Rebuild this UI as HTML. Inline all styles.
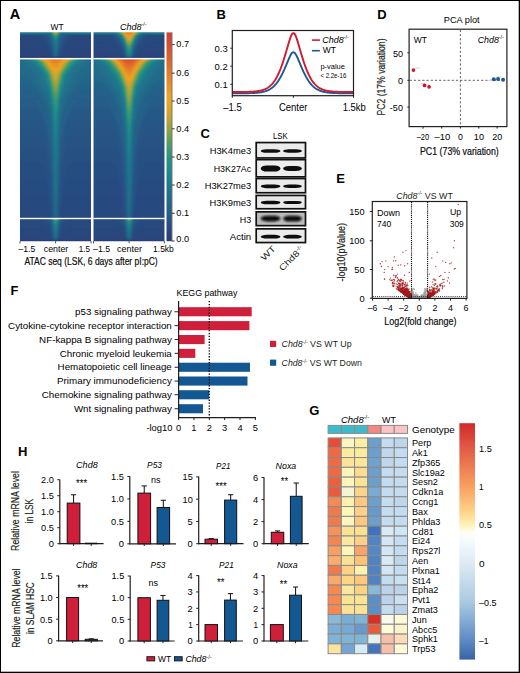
<!DOCTYPE html><html><head><meta charset="utf-8"><style>html,body{margin:0;padding:0;background:#fff;}svg{display:block;font-family:"Liberation Sans",sans-serif;}</style></head><body>
<svg width="520" height="673" viewBox="0 0 520 673">
<defs>
<filter id="hb" x="-5%" y="-5%" width="110%" height="110%"><feGaussianBlur stdDeviation="0.9 0.6"/></filter>
<filter id="bb" x="-20%" y="-50%" width="140%" height="200%"><feGaussianBlur stdDeviation="0.6"/></filter>
<filter id="bb2" x="-20%" y="-50%" width="140%" height="200%"><feGaussianBlur stdDeviation="1.0"/></filter>
<clipPath id="cA1"><rect x="20" y="32.2" width="71" height="209"/></clipPath>
<clipPath id="cA2"><rect x="93.5" y="32.2" width="71" height="209"/></clipPath>
<linearGradient id="cbA" x1="0" y1="0" x2="0" y2="1"><stop offset="0.000" stop-color="#ca403a"/><stop offset="0.054" stop-color="#d34e30"/><stop offset="0.122" stop-color="#dc622d"/><stop offset="0.189" stop-color="#e4782a"/><stop offset="0.257" stop-color="#ea9026"/><stop offset="0.324" stop-color="#eea522"/><stop offset="0.392" stop-color="#cca42e"/><stop offset="0.459" stop-color="#98a43c"/><stop offset="0.527" stop-color="#559e5e"/><stop offset="0.595" stop-color="#2a947e"/><stop offset="0.662" stop-color="#1f8a8b"/><stop offset="0.730" stop-color="#1f788c"/><stop offset="0.797" stop-color="#216c8b"/><stop offset="0.865" stop-color="#255e88"/><stop offset="0.932" stop-color="#284b80"/><stop offset="1.000" stop-color="#2a3b76"/></linearGradient>
</defs>
<rect width="520" height="673" fill="#fff"/>
<text x="9.8" y="18.9" font-size="14.5" font-weight="bold" fill="#000">A</text>
<text x="50.6" y="29.5" font-size="9" textLength="13.1" lengthAdjust="spacingAndGlyphs">WT</text>
<text x="120.0" y="29.5" font-size="9" font-style="italic" textLength="26.6" lengthAdjust="spacingAndGlyphs">Chd8<tspan font-size="5.4" dy="-3.4" font-style="normal">-/-</tspan></text>
<g clip-path="url(#cA1)"><g filter="url(#hb)">
<linearGradient id="bg1" x1="0" y1="0" x2="0" y2="1"><stop offset="0.0000" stop-color="#1f788c"/><stop offset="0.0364" stop-color="#1f788c"/><stop offset="0.0727" stop-color="#1f768c"/><stop offset="0.1091" stop-color="#20738c"/><stop offset="0.1455" stop-color="#29467d"/><stop offset="0.1818" stop-color="#29467d"/><stop offset="0.2182" stop-color="#29467d"/><stop offset="0.2545" stop-color="#29467d"/><stop offset="0.2909" stop-color="#29467d"/><stop offset="0.3273" stop-color="#29467d"/><stop offset="0.3636" stop-color="#29467d"/><stop offset="0.4000" stop-color="#29467d"/><stop offset="0.4364" stop-color="#29467d"/><stop offset="0.4727" stop-color="#29467d"/><stop offset="0.5091" stop-color="#29467d"/><stop offset="0.5455" stop-color="#29467d"/><stop offset="0.5818" stop-color="#29467d"/><stop offset="0.6182" stop-color="#29467d"/><stop offset="0.6545" stop-color="#29457d"/><stop offset="0.6909" stop-color="#29457c"/><stop offset="0.7273" stop-color="#29457c"/><stop offset="0.7636" stop-color="#29457c"/><stop offset="0.8000" stop-color="#29457c"/><stop offset="0.8364" stop-color="#29457c"/><stop offset="0.8727" stop-color="#29457c"/><stop offset="0.9091" stop-color="#29457c"/><stop offset="0.9455" stop-color="#2a3e78"/><stop offset="0.9818" stop-color="#2a3d77"/></linearGradient>
<rect x="18" y="31" width="75.0" height="27.5" fill="url(#bg1)"/>
<path d="M52.2,57.0 53.0,58.0 53.0,58.5 58.2,58.5 58.2,58.0 59.0,57.0Z" fill="#29417a"/>
<path d="M34.3,35.0 35.3,36.0 36.3,37.0 37.2,38.0 38.2,39.0 39.1,40.0 39.9,41.0 40.7,42.0 41.5,43.0 42.3,44.0 43.1,45.0 43.8,46.0 44.5,47.0 45.2,48.0 45.8,49.0 46.4,50.0 47.0,51.0 47.6,52.0 48.2,53.0 48.7,54.0 49.2,55.0 49.7,56.0 53.5,57.0 54.2,58.0 54.2,58.5 57.0,58.5 57.0,58.0 57.7,57.0 61.5,56.0 62.0,55.0 62.5,54.0 63.0,53.0 63.6,52.0 64.2,51.0 64.8,50.0 65.4,49.0 66.0,48.0 66.7,47.0 67.4,46.0 68.1,45.0 68.9,44.0 69.7,43.0 70.5,42.0 71.3,41.0 72.1,40.0 73.0,39.0 74.0,38.0 74.9,37.0 75.9,36.0 76.9,35.0Z" fill="#28487e"/>
<path d="M41.5,35.0 42.2,36.0 42.9,37.0 43.6,38.0 44.2,39.0 44.9,40.0 45.5,41.0 46.1,42.0 46.6,43.0 47.2,44.0 47.7,45.0 48.2,46.0 48.7,47.0 49.3,48.0 49.7,49.0 50.1,50.0 50.5,51.0 50.8,52.0 51.1,53.0 51.4,54.0 51.6,55.0 51.9,56.0 54.5,57.0 56.7,57.0 59.3,56.0 59.6,55.0 59.8,54.0 60.1,53.0 60.4,52.0 60.7,51.0 61.1,50.0 61.5,49.0 61.9,48.0 62.5,47.0 63.0,46.0 63.5,45.0 64.0,44.0 64.6,43.0 65.1,42.0 65.7,41.0 66.3,40.0 67.0,39.0 67.6,38.0 68.3,37.0 69.0,36.0 69.7,35.0Z" fill="#274f82"/>
<path d="M45.2,35.0 45.8,36.0 46.4,37.0 47.0,38.0 47.5,39.0 48.1,40.0 48.6,41.0 49.1,42.0 49.5,43.0 49.9,44.0 50.3,45.0 50.7,46.0 51.0,47.0 51.3,48.0 51.5,49.0 51.7,50.0 51.9,51.0 52.1,52.0 52.3,53.0 52.5,54.0 52.7,55.0 52.8,56.0 58.4,56.0 58.5,55.0 58.7,54.0 58.9,53.0 59.1,52.0 59.3,51.0 59.5,50.0 59.7,49.0 59.9,48.0 60.2,47.0 60.5,46.0 60.9,45.0 61.3,44.0 61.7,43.0 62.1,42.0 62.6,41.0 63.1,40.0 63.7,39.0 64.2,38.0 64.8,37.0 65.4,36.0 66.0,35.0Z" fill="#265685"/>
<path d="M48.4,35.0 48.8,36.0 49.3,37.0 49.7,38.0 50.1,39.0 50.5,40.0 50.8,41.0 51.0,42.0 51.3,43.0 51.5,44.0 51.7,45.0 51.9,46.0 52.1,47.0 52.3,48.0 52.5,49.0 52.6,50.0 52.8,51.0 52.9,52.0 53.1,53.0 53.2,54.0 53.3,55.0 53.5,56.0 57.7,56.0 57.9,55.0 58.0,54.0 58.1,53.0 58.3,52.0 58.4,51.0 58.6,50.0 58.7,49.0 58.9,48.0 59.1,47.0 59.3,46.0 59.5,45.0 59.7,44.0 59.9,43.0 60.2,42.0 60.4,41.0 60.7,40.0 61.1,39.0 61.5,38.0 61.9,37.0 62.4,36.0 62.8,35.0Z" fill="#255e88"/>
<path d="M50.2,35.0 50.5,36.0 50.8,37.0 51.1,38.0 51.4,39.0 51.7,40.0 51.9,41.0 52.0,42.0 52.2,43.0 52.3,44.0 52.5,45.0 52.7,46.0 52.8,47.0 53.0,48.0 53.1,49.0 53.2,50.0 53.4,51.0 53.5,52.0 53.6,53.0 53.8,54.0 53.9,55.0 54.1,56.0 57.1,56.0 57.3,55.0 57.4,54.0 57.6,53.0 57.7,52.0 57.8,51.0 58.0,50.0 58.1,49.0 58.2,48.0 58.4,47.0 58.5,46.0 58.7,45.0 58.9,44.0 59.0,43.0 59.2,42.0 59.3,41.0 59.5,40.0 59.8,39.0 60.1,38.0 60.4,37.0 60.7,36.0 61.0,35.0Z" fill="#236489"/>
<path d="M51.0,35.0 51.3,36.0 51.5,37.0 51.8,38.0 52.1,39.0 52.4,40.0 52.5,41.0 52.7,42.0 52.8,43.0 52.9,44.0 53.1,45.0 53.2,46.0 53.4,47.0 53.5,48.0 53.7,49.0 53.8,50.0 53.9,51.0 54.1,52.0 54.2,53.0 54.4,54.0 54.6,55.0 54.8,56.0 56.4,56.0 56.6,55.0 56.8,54.0 57.0,53.0 57.1,52.0 57.3,51.0 57.4,50.0 57.5,49.0 57.7,48.0 57.8,47.0 58.0,46.0 58.1,45.0 58.3,44.0 58.4,43.0 58.5,42.0 58.7,41.0 58.8,40.0 59.1,39.0 59.4,38.0 59.7,37.0 59.9,36.0 60.2,35.0Z" fill="#22698a"/>
<path d="M51.6,35.0 51.8,36.0 52.1,37.0 52.3,38.0 52.6,39.0 52.9,40.0 53.0,41.0 53.2,42.0 53.3,43.0 53.4,44.0 53.6,45.0 53.7,46.0 53.9,47.0 54.1,48.0 54.2,49.0 54.4,50.0 54.5,51.0 54.7,52.0 55.0,53.0 55.4,54.0 55.8,54.0 56.2,53.0 56.5,52.0 56.7,51.0 56.8,50.0 57.0,49.0 57.1,48.0 57.3,47.0 57.5,46.0 57.6,45.0 57.8,44.0 57.9,43.0 58.0,42.0 58.2,41.0 58.3,40.0 58.6,39.0 58.9,38.0 59.1,37.0 59.4,36.0 59.6,35.0Z" fill="#216e8b"/>
<path d="M52.0,35.0 52.3,36.0 52.5,37.0 52.8,38.0 53.0,39.0 53.3,40.0 53.5,41.0 53.6,42.0 53.8,43.0 53.9,44.0 54.1,45.0 54.2,46.0 54.4,47.0 54.7,48.0 54.9,49.0 55.2,50.0 56.0,50.0 56.3,49.0 56.5,48.0 56.8,47.0 57.0,46.0 57.1,45.0 57.3,44.0 57.4,43.0 57.6,42.0 57.7,41.0 57.9,40.0 58.2,39.0 58.4,38.0 58.7,37.0 58.9,36.0 59.2,35.0Z" fill="#20738c"/>
<path d="M49.1,33.0 50.0,34.0 52.4,35.0 52.6,36.0 52.9,37.0 53.1,38.0 53.4,39.0 53.8,40.0 53.9,41.0 54.1,42.0 54.2,43.0 54.4,44.0 54.6,45.0 54.9,46.0 55.4,47.0 55.8,47.0 56.3,46.0 56.6,45.0 56.8,44.0 57.0,43.0 57.1,42.0 57.3,41.0 57.4,40.0 57.8,39.0 58.1,38.0 58.3,37.0 58.6,36.0 58.8,35.0 61.2,34.0 62.1,33.0Z" fill="#1f788c"/>
<path d="M50.0,31.0 50.0,32.0 50.4,33.0 50.8,34.0 52.7,35.0 53.0,36.0 53.2,37.0 53.5,38.0 53.8,39.0 54.2,40.0 54.4,41.0 54.6,42.0 54.8,43.0 55.1,44.0 56.1,44.0 56.4,43.0 56.6,42.0 56.8,41.0 57.0,40.0 57.4,39.0 57.7,38.0 58.0,37.0 58.2,36.0 58.5,35.0 60.4,34.0 60.8,33.0 61.2,32.0 61.2,31.0Z" fill="#1f7f8c"/>
<path d="M50.8,31.0 50.8,32.0 51.1,33.0 51.4,34.0 53.0,35.0 53.3,36.0 53.5,37.0 53.8,38.0 54.2,39.0 54.7,40.0 55.0,41.0 56.2,41.0 56.5,40.0 57.0,39.0 57.4,38.0 57.7,37.0 57.9,36.0 58.2,35.0 59.8,34.0 60.1,33.0 60.4,32.0 60.4,31.0Z" fill="#1f868b"/>
<path d="M51.4,31.0 51.4,32.0 51.6,33.0 51.8,34.0 53.3,35.0 53.6,36.0 53.9,37.0 54.2,38.0 54.7,39.0 56.5,39.0 57.0,38.0 57.3,37.0 57.6,36.0 57.9,35.0 59.4,34.0 59.6,33.0 59.8,32.0 59.8,31.0Z" fill="#218c88"/>
<path d="M51.8,31.0 51.8,32.0 52.0,33.0 52.2,34.0 53.6,35.0 53.9,36.0 54.2,37.0 54.7,38.0 56.5,38.0 57.0,37.0 57.3,36.0 57.6,35.0 59.0,34.0 59.2,33.0 59.4,32.0 59.4,31.0Z" fill="#269083"/>
<path d="M52.2,31.0 52.2,32.0 52.4,33.0 52.6,34.0 53.9,35.0 54.2,36.0 54.6,37.0 56.6,37.0 57.0,36.0 57.3,35.0 58.6,34.0 58.8,33.0 59.0,32.0 59.0,31.0Z" fill="#2a947e"/>
<path d="M52.6,31.0 52.6,32.0 52.7,33.0 52.9,34.0 54.2,35.0 54.6,36.0 55.3,37.0 55.9,37.0 56.6,36.0 57.0,35.0 58.3,34.0 58.5,33.0 58.6,32.0 58.6,31.0Z" fill="#3b9871"/>
<path d="M52.9,31.0 52.9,32.0 53.1,33.0 53.2,34.0 54.6,35.0 55.2,36.0 56.0,36.0 56.6,35.0 58.0,34.0 58.1,33.0 58.3,32.0 58.3,31.0Z" fill="#4c9c64"/>
<path d="M53.2,31.0 53.2,32.0 53.4,33.0 53.6,34.0 55.1,35.0 56.1,35.0 57.6,34.0 57.8,33.0 58.0,32.0 58.0,31.0Z" fill="#629f57"/>
<path d="M53.6,31.0 53.6,32.0 53.7,33.0 53.9,34.0 57.3,34.0 57.5,33.0 57.6,32.0 57.6,31.0Z" fill="#7da24a"/>
<path d="M53.9,31.0 53.9,32.0 54.1,33.0 54.3,34.0 56.9,34.0 57.1,33.0 57.3,32.0 57.3,31.0Z" fill="#98a43c"/>
<path d="M54.3,31.0 54.3,32.0 54.5,33.0 54.9,34.0 56.3,34.0 56.7,33.0 56.9,32.0 56.9,31.0Z" fill="#ada436"/>
<path d="M54.9,31.0 54.9,32.0 55.4,33.0 55.8,33.0 56.3,32.0 56.3,31.0Z" fill="#c2a431"/>
<linearGradient id="bg2" x1="0" y1="0" x2="0" y2="1"><stop offset="0.0000" stop-color="#216c8b"/><stop offset="0.0194" stop-color="#216c8b"/><stop offset="0.0388" stop-color="#216c8b"/><stop offset="0.0583" stop-color="#216c8b"/><stop offset="0.0777" stop-color="#216c8b"/><stop offset="0.0971" stop-color="#216b8b"/><stop offset="0.1165" stop-color="#216b8b"/><stop offset="0.1359" stop-color="#216b8b"/><stop offset="0.1553" stop-color="#216a8b"/><stop offset="0.1748" stop-color="#226a8b"/><stop offset="0.1942" stop-color="#226a8b"/><stop offset="0.2136" stop-color="#22698a"/><stop offset="0.2330" stop-color="#22698a"/><stop offset="0.2524" stop-color="#22698a"/><stop offset="0.2718" stop-color="#22688a"/><stop offset="0.2913" stop-color="#22688a"/><stop offset="0.3107" stop-color="#22688a"/><stop offset="0.3301" stop-color="#22678a"/><stop offset="0.3495" stop-color="#23678a"/><stop offset="0.3689" stop-color="#23668a"/><stop offset="0.3883" stop-color="#23668a"/><stop offset="0.4078" stop-color="#23658a"/><stop offset="0.4272" stop-color="#23658a"/><stop offset="0.4466" stop-color="#236589"/><stop offset="0.4660" stop-color="#236489"/><stop offset="0.4854" stop-color="#236489"/><stop offset="0.5049" stop-color="#236389"/><stop offset="0.5243" stop-color="#246389"/><stop offset="0.5437" stop-color="#246289"/><stop offset="0.5631" stop-color="#246289"/><stop offset="0.5825" stop-color="#246289"/><stop offset="0.6019" stop-color="#246189"/><stop offset="0.6214" stop-color="#246189"/><stop offset="0.6408" stop-color="#246089"/><stop offset="0.6602" stop-color="#246088"/><stop offset="0.6796" stop-color="#256088"/><stop offset="0.6990" stop-color="#255f88"/><stop offset="0.7184" stop-color="#255f88"/><stop offset="0.7379" stop-color="#255e88"/><stop offset="0.7573" stop-color="#255e88"/><stop offset="0.7767" stop-color="#255d88"/><stop offset="0.7961" stop-color="#255d88"/><stop offset="0.8155" stop-color="#255c87"/><stop offset="0.8350" stop-color="#255c87"/><stop offset="0.8544" stop-color="#255c87"/><stop offset="0.8738" stop-color="#255b87"/><stop offset="0.8932" stop-color="#255b87"/><stop offset="0.9126" stop-color="#255b87"/><stop offset="0.9320" stop-color="#265b87"/><stop offset="0.9515" stop-color="#265a87"/><stop offset="0.9709" stop-color="#265a86"/><stop offset="0.9903" stop-color="#265a86"/></linearGradient>
<rect x="18" y="58.5" width="75.0" height="51.5" fill="url(#bg2)"/>
<path d="M27.2,98.5 30.3,99.5 32.4,100.5 33.7,101.5 34.5,102.5 35.3,103.5 36.0,104.5 36.7,105.5 37.4,106.5 38.1,107.5 38.7,108.5 39.3,109.5 39.6,110.0 71.6,110.0 71.9,109.5 72.5,108.5 73.1,107.5 73.8,106.5 74.5,105.5 75.2,104.5 75.9,103.5 76.7,102.5 77.5,101.5 78.8,100.5 80.9,99.5 84.0,98.5Z" fill="#255e88"/>
<path d="M19.1,84.5 23.0,85.5 25.3,86.5 27.1,87.5 28.8,88.5 30.2,89.5 31.5,90.5 32.6,91.5 33.7,92.5 34.8,93.5 35.7,94.5 36.7,95.5 37.5,96.5 38.4,97.5 39.2,98.5 40.0,99.5 40.7,100.5 41.3,101.5 41.8,102.5 42.2,103.5 42.6,104.5 43.1,105.5 43.5,106.5 43.9,107.5 44.3,108.5 44.7,109.5 44.9,110.0 66.3,110.0 66.5,109.5 66.9,108.5 67.3,107.5 67.7,106.5 68.1,105.5 68.6,104.5 69.0,103.5 69.4,102.5 69.9,101.5 70.5,100.5 71.2,99.5 72.0,98.5 72.8,97.5 73.7,96.5 74.5,95.5 75.5,94.5 76.4,93.5 77.5,92.5 78.6,91.5 79.7,90.5 81.0,89.5 82.4,88.5 84.1,87.5 85.9,86.5 88.2,85.5 92.1,84.5Z" fill="#236489"/>
<path d="M16.0,70.5 16.2,71.5 19.7,72.5 22.2,73.5 24.1,74.5 25.7,75.5 26.9,76.5 28.1,77.5 29.1,78.5 30.1,79.5 30.9,80.5 31.8,81.5 32.5,82.5 33.3,83.5 34.0,84.5 34.7,85.5 35.3,86.5 36.0,87.5 36.8,88.5 37.6,89.5 38.3,90.5 39.1,91.5 39.8,92.5 40.5,93.5 41.2,94.5 41.8,95.5 42.5,96.5 43.2,97.5 43.8,98.5 44.5,99.5 45.1,100.5 45.6,101.5 46.0,102.5 46.3,103.5 46.7,104.5 47.0,105.5 47.4,106.5 47.7,107.5 48.0,108.5 48.3,109.5 48.5,110.0 62.7,110.0 62.9,109.5 63.2,108.5 63.5,107.5 63.8,106.5 64.2,105.5 64.5,104.5 64.9,103.5 65.2,102.5 65.6,101.5 66.1,100.5 66.7,99.5 67.4,98.5 68.0,97.5 68.7,96.5 69.4,95.5 70.0,94.5 70.7,93.5 71.4,92.5 72.1,91.5 72.9,90.5 73.6,89.5 74.4,88.5 75.2,87.5 75.9,86.5 76.5,85.5 77.2,84.5 77.9,83.5 78.7,82.5 79.4,81.5 80.3,80.5 81.1,79.5 82.1,78.5 83.1,77.5 84.3,76.5 85.5,75.5 87.1,74.5 89.0,73.5 91.5,72.5 95.0,71.5 95.2,70.5Z" fill="#22698a"/>
<path d="M16.0,58.5 16.0,59.5 18.6,60.5 21.5,61.5 22.3,62.5 23.6,63.5 24.9,64.5 26.0,65.5 27.1,66.5 28.1,67.5 29.0,68.5 29.9,69.5 30.7,70.5 31.4,71.5 32.2,72.5 32.9,73.5 33.5,74.5 34.2,75.5 34.8,76.5 35.4,77.5 36.0,78.5 36.5,79.5 37.1,80.5 37.6,81.5 38.1,82.5 38.7,83.5 39.2,84.5 39.7,85.5 40.2,86.5 40.8,87.5 41.4,88.5 42.1,89.5 42.7,90.5 43.3,91.5 43.9,92.5 44.5,93.5 45.1,94.5 45.7,95.5 46.3,96.5 46.8,97.5 47.4,98.5 47.9,99.5 48.3,100.5 48.7,101.5 48.9,102.5 49.1,103.5 49.3,104.5 49.5,105.5 49.7,106.5 49.9,107.5 50.1,108.5 50.2,109.5 50.3,110.0 60.9,110.0 61.0,109.5 61.1,108.5 61.3,107.5 61.5,106.5 61.7,105.5 61.9,104.5 62.1,103.5 62.3,102.5 62.5,101.5 62.9,100.5 63.3,99.5 63.8,98.5 64.4,97.5 64.9,96.5 65.5,95.5 66.1,94.5 66.7,93.5 67.3,92.5 67.9,91.5 68.5,90.5 69.1,89.5 69.8,88.5 70.4,87.5 71.0,86.5 71.5,85.5 72.0,84.5 72.5,83.5 73.1,82.5 73.6,81.5 74.1,80.5 74.7,79.5 75.2,78.5 75.8,77.5 76.4,76.5 77.0,75.5 77.7,74.5 78.3,73.5 79.0,72.5 79.8,71.5 80.5,70.5 81.3,69.5 82.2,68.5 83.1,67.5 84.1,66.5 85.2,65.5 86.3,64.5 87.6,63.5 88.9,62.5 89.7,61.5 92.6,60.5 95.2,59.5 95.2,58.5Z" fill="#216e8b"/>
<path d="M20.4,58.5 20.4,59.5 24.3,60.5 27.2,61.5 28.7,62.5 29.7,63.5 30.8,64.5 31.8,65.5 32.8,66.5 33.7,67.5 34.6,68.5 35.4,69.5 36.1,70.5 36.8,71.5 37.4,72.5 37.9,73.5 38.4,74.5 38.8,75.5 39.3,76.5 39.8,77.5 40.3,78.5 40.8,79.5 41.2,80.5 41.7,81.5 42.2,82.5 42.6,83.5 43.1,84.5 43.5,85.5 44.0,86.5 44.5,87.5 45.0,88.5 45.6,89.5 46.1,90.5 46.5,91.5 47.0,92.5 47.4,93.5 47.9,94.5 48.3,95.5 48.6,96.5 49.0,97.5 49.3,98.5 49.7,99.5 50.0,100.5 50.2,101.5 50.3,102.5 50.5,103.5 50.6,104.5 50.7,105.5 50.9,106.5 51.0,107.5 51.1,108.5 51.2,109.5 51.3,110.0 59.9,110.0 60.0,109.5 60.1,108.5 60.2,107.5 60.3,106.5 60.5,105.5 60.6,104.5 60.7,103.5 60.9,102.5 61.0,101.5 61.2,100.5 61.5,99.5 61.9,98.5 62.2,97.5 62.6,96.5 62.9,95.5 63.3,94.5 63.8,93.5 64.2,92.5 64.7,91.5 65.1,90.5 65.6,89.5 66.2,88.5 66.7,87.5 67.2,86.5 67.7,85.5 68.1,84.5 68.6,83.5 69.0,82.5 69.5,81.5 70.0,80.5 70.4,79.5 70.9,78.5 71.4,77.5 71.9,76.5 72.4,75.5 72.8,74.5 73.3,73.5 73.8,72.5 74.4,71.5 75.1,70.5 75.8,69.5 76.6,68.5 77.5,67.5 78.4,66.5 79.4,65.5 80.4,64.5 81.5,63.5 82.5,62.5 84.0,61.5 86.9,60.5 90.8,59.5 90.8,58.5Z" fill="#20738c"/>
<path d="M23.8,58.5 23.8,59.5 27.4,60.5 30.1,61.5 31.7,62.5 32.7,63.5 33.7,64.5 34.7,65.5 35.6,66.5 36.5,67.5 37.4,68.5 38.2,69.5 39.0,70.5 39.8,71.5 40.5,72.5 41.1,73.5 41.6,74.5 42.1,75.5 42.5,76.5 42.9,77.5 43.3,78.5 43.7,79.5 44.1,80.5 44.5,81.5 44.9,82.5 45.3,83.5 45.7,84.5 46.1,85.5 46.5,86.5 46.9,87.5 47.3,88.5 47.7,89.5 48.0,90.5 48.3,91.5 48.7,92.5 49.0,93.5 49.3,94.5 49.6,95.5 49.9,96.5 50.1,97.5 50.4,98.5 50.6,99.5 50.9,100.5 51.1,101.5 51.2,102.5 51.3,103.5 51.4,104.5 51.5,105.5 51.6,106.5 51.7,107.5 51.8,108.5 51.9,109.5 52.0,110.0 59.2,110.0 59.3,109.5 59.4,108.5 59.5,107.5 59.6,106.5 59.7,105.5 59.8,104.5 59.9,103.5 60.0,102.5 60.1,101.5 60.3,100.5 60.6,99.5 60.8,98.5 61.1,97.5 61.3,96.5 61.6,95.5 61.9,94.5 62.2,93.5 62.5,92.5 62.9,91.5 63.2,90.5 63.5,89.5 63.9,88.5 64.3,87.5 64.7,86.5 65.1,85.5 65.5,84.5 65.9,83.5 66.3,82.5 66.7,81.5 67.1,80.5 67.5,79.5 67.9,78.5 68.3,77.5 68.7,76.5 69.1,75.5 69.6,74.5 70.1,73.5 70.7,72.5 71.4,71.5 72.2,70.5 73.0,69.5 73.8,68.5 74.7,67.5 75.6,66.5 76.5,65.5 77.5,64.5 78.5,63.5 79.5,62.5 81.1,61.5 83.8,60.5 87.4,59.5 87.4,58.5Z" fill="#1f788c"/>
<path d="M26.3,58.5 26.3,59.5 29.6,60.5 32.2,61.5 33.8,62.5 34.8,63.5 35.7,64.5 36.6,65.5 37.5,66.5 38.4,67.5 39.3,68.5 40.1,69.5 40.9,70.5 41.7,71.5 42.5,72.5 43.2,73.5 43.8,74.5 44.1,75.5 44.5,76.5 44.9,77.5 45.2,78.5 45.6,79.5 45.9,80.5 46.3,81.5 46.6,82.5 47.0,83.5 47.3,84.5 47.7,85.5 48.0,86.5 48.3,87.5 48.6,88.5 48.9,89.5 49.2,90.5 49.4,91.5 49.7,92.5 50.0,93.5 50.2,94.5 50.5,95.5 50.7,96.5 50.9,97.5 51.1,98.5 51.4,99.5 51.6,100.5 51.7,101.5 51.8,102.5 51.9,103.5 52.0,104.5 52.1,105.5 52.2,106.5 52.3,107.5 52.4,108.5 52.5,109.5 52.6,110.0 58.6,110.0 58.7,109.5 58.8,108.5 58.9,107.5 59.0,106.5 59.1,105.5 59.2,104.5 59.3,103.5 59.4,102.5 59.5,101.5 59.6,100.5 59.8,99.5 60.1,98.5 60.3,97.5 60.5,96.5 60.7,95.5 61.0,94.5 61.2,93.5 61.5,92.5 61.8,91.5 62.0,90.5 62.3,89.5 62.6,88.5 62.9,87.5 63.2,86.5 63.5,85.5 63.9,84.5 64.2,83.5 64.6,82.5 64.9,81.5 65.3,80.5 65.6,79.5 66.0,78.5 66.3,77.5 66.7,76.5 67.1,75.5 67.4,74.5 68.0,73.5 68.7,72.5 69.5,71.5 70.3,70.5 71.1,69.5 71.9,68.5 72.8,67.5 73.7,66.5 74.6,65.5 75.5,64.5 76.4,63.5 77.4,62.5 79.0,61.5 81.6,60.5 84.9,59.5 84.9,58.5Z" fill="#1f7f8c"/>
<path d="M28.3,58.5 28.3,59.5 31.4,60.5 33.9,61.5 35.5,62.5 36.4,63.5 37.3,64.5 38.2,65.5 39.0,66.5 39.9,67.5 40.7,68.5 41.5,69.5 42.4,70.5 43.1,71.5 43.9,72.5 44.7,73.5 45.2,74.5 45.5,75.5 45.9,76.5 46.2,77.5 46.5,78.5 46.8,79.5 47.2,80.5 47.5,81.5 47.8,82.5 48.1,83.5 48.4,84.5 48.7,85.5 49.0,86.5 49.3,87.5 49.5,88.5 49.8,89.5 50.0,90.5 50.3,91.5 50.5,92.5 50.7,93.5 50.9,94.5 51.1,95.5 51.4,96.5 51.6,97.5 51.8,98.5 52.0,99.5 52.2,100.5 52.3,101.5 52.4,102.5 52.5,103.5 52.6,104.5 52.7,105.5 52.8,106.5 52.9,107.5 53.0,108.5 53.0,109.5 53.1,110.0 58.1,110.0 58.2,109.5 58.2,108.5 58.3,107.5 58.4,106.5 58.5,105.5 58.6,104.5 58.7,103.5 58.8,102.5 58.9,101.5 59.0,100.5 59.2,99.5 59.4,98.5 59.6,97.5 59.8,96.5 60.1,95.5 60.3,94.5 60.5,93.5 60.7,92.5 60.9,91.5 61.2,90.5 61.4,89.5 61.7,88.5 61.9,87.5 62.2,86.5 62.5,85.5 62.8,84.5 63.1,83.5 63.4,82.5 63.7,81.5 64.0,80.5 64.4,79.5 64.7,78.5 65.0,77.5 65.3,76.5 65.7,75.5 66.0,74.5 66.5,73.5 67.3,72.5 68.1,71.5 68.8,70.5 69.7,69.5 70.5,68.5 71.3,67.5 72.2,66.5 73.0,65.5 73.9,64.5 74.8,63.5 75.7,62.5 77.3,61.5 79.8,60.5 82.9,59.5 82.9,58.5Z" fill="#1f868b"/>
<path d="M30.0,58.5 30.0,59.5 33.0,60.5 35.4,61.5 36.9,62.5 37.7,63.5 38.6,64.5 39.4,65.5 40.3,66.5 41.1,67.5 41.9,68.5 42.7,69.5 43.5,70.5 44.3,71.5 45.0,72.5 45.8,73.5 46.3,74.5 46.6,75.5 46.9,76.5 47.2,77.5 47.5,78.5 47.8,79.5 48.1,80.5 48.4,81.5 48.7,82.5 49.0,83.5 49.3,84.5 49.5,85.5 49.8,86.5 50.1,87.5 50.3,88.5 50.5,89.5 50.7,90.5 50.9,91.5 51.1,92.5 51.4,93.5 51.6,94.5 51.7,95.5 51.9,96.5 52.1,97.5 52.3,98.5 52.5,99.5 52.7,100.5 52.8,101.5 52.9,102.5 53.0,103.5 53.1,104.5 53.2,105.5 53.3,106.5 53.4,107.5 53.5,108.5 53.6,109.5 53.6,110.0 57.6,110.0 57.6,109.5 57.7,108.5 57.8,107.5 57.9,106.5 58.0,105.5 58.1,104.5 58.2,103.5 58.3,102.5 58.4,101.5 58.5,100.5 58.7,99.5 58.9,98.5 59.1,97.5 59.3,96.5 59.5,95.5 59.6,94.5 59.8,93.5 60.1,92.5 60.3,91.5 60.5,90.5 60.7,89.5 60.9,88.5 61.1,87.5 61.4,86.5 61.7,85.5 61.9,84.5 62.2,83.5 62.5,82.5 62.8,81.5 63.1,80.5 63.4,79.5 63.7,78.5 64.0,77.5 64.3,76.5 64.6,75.5 64.9,74.5 65.4,73.5 66.2,72.5 66.9,71.5 67.7,70.5 68.5,69.5 69.3,68.5 70.1,67.5 70.9,66.5 71.8,65.5 72.6,64.5 73.5,63.5 74.3,62.5 75.8,61.5 78.2,60.5 81.2,59.5 81.2,58.5Z" fill="#218c88"/>
<path d="M31.6,58.5 31.6,59.5 34.3,60.5 36.6,61.5 38.1,62.5 38.9,63.5 39.8,64.5 40.6,65.5 41.4,66.5 42.2,67.5 43.0,68.5 43.7,69.5 44.5,70.5 45.2,71.5 46.0,72.5 46.7,73.5 47.2,74.5 47.5,75.5 47.8,76.5 48.1,77.5 48.4,78.5 48.6,79.5 48.9,80.5 49.2,81.5 49.4,82.5 49.7,83.5 50.0,84.5 50.2,85.5 50.5,86.5 50.7,87.5 50.9,88.5 51.1,89.5 51.3,90.5 51.5,91.5 51.7,92.5 51.9,93.5 52.1,94.5 52.3,95.5 52.5,96.5 52.7,97.5 52.8,98.5 53.0,99.5 53.2,100.5 53.3,101.5 53.4,102.5 53.5,103.5 53.6,104.5 53.7,105.5 53.8,106.5 53.9,107.5 54.0,108.5 54.2,109.5 54.2,110.0 57.0,110.0 57.0,109.5 57.2,108.5 57.3,107.5 57.4,106.5 57.5,105.5 57.6,104.5 57.7,103.5 57.8,102.5 57.9,101.5 58.0,100.5 58.2,99.5 58.4,98.5 58.5,97.5 58.7,96.5 58.9,95.5 59.1,94.5 59.3,93.5 59.5,92.5 59.7,91.5 59.9,90.5 60.1,89.5 60.3,88.5 60.5,87.5 60.7,86.5 61.0,85.5 61.2,84.5 61.5,83.5 61.8,82.5 62.0,81.5 62.3,80.5 62.6,79.5 62.8,78.5 63.1,77.5 63.4,76.5 63.7,75.5 64.0,74.5 64.5,73.5 65.2,72.5 66.0,71.5 66.7,70.5 67.5,69.5 68.2,68.5 69.0,67.5 69.8,66.5 70.6,65.5 71.4,64.5 72.3,63.5 73.1,62.5 74.6,61.5 76.9,60.5 79.6,59.5 79.6,58.5Z" fill="#269083"/>
<path d="M32.9,58.5 32.9,59.5 35.6,60.5 37.8,61.5 39.2,62.5 40.0,63.5 40.8,64.5 41.6,65.5 42.4,66.5 43.1,67.5 43.9,68.5 44.6,69.5 45.4,70.5 46.1,71.5 46.8,72.5 47.5,73.5 48.0,74.5 48.3,75.5 48.6,76.5 48.8,77.5 49.1,78.5 49.3,79.5 49.6,80.5 49.9,81.5 50.1,82.5 50.4,83.5 50.6,84.5 50.9,85.5 51.1,86.5 51.3,87.5 51.5,88.5 51.7,89.5 51.9,90.5 52.1,91.5 52.3,92.5 52.5,93.5 52.7,94.5 52.8,95.5 53.0,96.5 53.2,97.5 53.4,98.5 53.5,99.5 53.7,100.5 53.9,101.5 54.0,102.5 54.1,103.5 54.2,104.5 54.3,105.5 54.5,106.5 54.6,107.5 54.8,108.5 55.0,109.5 55.2,110.0 56.0,110.0 56.2,109.5 56.4,108.5 56.6,107.5 56.7,106.5 56.9,105.5 57.0,104.5 57.1,103.5 57.2,102.5 57.3,101.5 57.5,100.5 57.7,99.5 57.8,98.5 58.0,97.5 58.2,96.5 58.4,95.5 58.5,94.5 58.7,93.5 58.9,92.5 59.1,91.5 59.3,90.5 59.5,89.5 59.7,88.5 59.9,87.5 60.1,86.5 60.3,85.5 60.6,84.5 60.8,83.5 61.1,82.5 61.3,81.5 61.6,80.5 61.9,79.5 62.1,78.5 62.4,77.5 62.6,76.5 62.9,75.5 63.2,74.5 63.7,73.5 64.4,72.5 65.1,71.5 65.8,70.5 66.6,69.5 67.3,68.5 68.1,67.5 68.8,66.5 69.6,65.5 70.4,64.5 71.2,63.5 72.0,62.5 73.4,61.5 75.6,60.5 78.3,59.5 78.3,58.5Z" fill="#2a947e"/>
<path d="M34.2,58.5 34.2,59.5 36.7,60.5 38.8,61.5 40.2,62.5 41.0,63.5 41.8,64.5 42.5,65.5 43.3,66.5 44.0,67.5 44.7,68.5 45.5,69.5 46.2,70.5 46.9,71.5 47.6,72.5 48.3,73.5 48.7,74.5 49.0,75.5 49.2,76.5 49.5,77.5 49.7,78.5 50.0,79.5 50.3,80.5 50.5,81.5 50.7,82.5 51.0,83.5 51.2,84.5 51.5,85.5 51.7,86.5 51.9,87.5 52.1,88.5 52.3,89.5 52.5,90.5 52.7,91.5 52.9,92.5 53.0,93.5 53.2,94.5 53.4,95.5 53.6,96.5 53.8,97.5 54.0,98.5 54.2,99.5 54.4,100.5 54.5,101.5 54.7,102.5 54.9,103.5 55.2,104.5 56.0,104.5 56.3,103.5 56.5,102.5 56.7,101.5 56.8,100.5 57.0,99.5 57.2,98.5 57.4,97.5 57.6,96.5 57.8,95.5 58.0,94.5 58.2,93.5 58.3,92.5 58.5,91.5 58.7,90.5 58.9,89.5 59.1,88.5 59.3,87.5 59.5,86.5 59.7,85.5 60.0,84.5 60.2,83.5 60.5,82.5 60.7,81.5 60.9,80.5 61.2,79.5 61.5,78.5 61.7,77.5 62.0,76.5 62.2,75.5 62.5,74.5 62.9,73.5 63.6,72.5 64.3,71.5 65.0,70.5 65.7,69.5 66.5,68.5 67.2,67.5 67.9,66.5 68.7,65.5 69.4,64.5 70.2,63.5 71.0,62.5 72.4,61.5 74.5,60.5 77.0,59.5 77.0,58.5Z" fill="#3b9871"/>
<path d="M35.4,58.5 35.4,59.5 37.8,60.5 39.8,61.5 41.2,62.5 41.9,63.5 42.7,64.5 43.4,65.5 44.1,66.5 44.9,67.5 45.6,68.5 46.3,69.5 46.9,70.5 47.6,71.5 48.3,72.5 48.9,73.5 49.4,74.5 49.6,75.5 49.9,76.5 50.1,77.5 50.4,78.5 50.6,79.5 50.9,80.5 51.1,81.5 51.3,82.5 51.6,83.5 51.8,84.5 52.1,85.5 52.3,86.5 52.5,87.5 52.7,88.5 52.9,89.5 53.1,90.5 53.3,91.5 53.5,92.5 53.6,93.5 53.8,94.5 54.1,95.5 54.3,96.5 54.5,97.5 54.8,98.5 55.1,99.5 56.1,99.5 56.4,98.5 56.7,97.5 56.9,96.5 57.1,95.5 57.4,94.5 57.6,93.5 57.7,92.5 57.9,91.5 58.1,90.5 58.3,89.5 58.5,88.5 58.7,87.5 58.9,86.5 59.1,85.5 59.4,84.5 59.6,83.5 59.9,82.5 60.1,81.5 60.3,80.5 60.6,79.5 60.8,78.5 61.1,77.5 61.3,76.5 61.6,75.5 61.8,74.5 62.3,73.5 62.9,72.5 63.6,71.5 64.3,70.5 64.9,69.5 65.6,68.5 66.3,67.5 67.1,66.5 67.8,65.5 68.5,64.5 69.3,63.5 70.0,62.5 71.4,61.5 73.4,60.5 75.8,59.5 75.8,58.5Z" fill="#4c9c64"/>
<path d="M36.6,58.5 36.6,59.5 38.9,60.5 40.8,61.5 42.1,62.5 42.8,63.5 43.5,64.5 44.3,65.5 45.0,66.5 45.7,67.5 46.3,68.5 47.0,69.5 47.7,70.5 48.3,71.5 49.0,72.5 49.6,73.5 50.0,74.5 50.3,75.5 50.5,76.5 50.7,77.5 51.0,78.5 51.2,79.5 51.5,80.5 51.7,81.5 51.9,82.5 52.2,83.5 52.4,84.5 52.7,85.5 52.9,86.5 53.1,87.5 53.3,88.5 53.5,89.5 53.7,90.5 53.9,91.5 54.2,92.5 54.4,93.5 54.7,94.5 55.1,95.5 56.1,95.5 56.5,94.5 56.8,93.5 57.0,92.5 57.3,91.5 57.5,90.5 57.7,89.5 57.9,88.5 58.1,87.5 58.3,86.5 58.5,85.5 58.8,84.5 59.0,83.5 59.3,82.5 59.5,81.5 59.7,80.5 60.0,79.5 60.2,78.5 60.5,77.5 60.7,76.5 60.9,75.5 61.2,74.5 61.6,73.5 62.2,72.5 62.9,71.5 63.5,70.5 64.2,69.5 64.9,68.5 65.5,67.5 66.2,66.5 66.9,65.5 67.7,64.5 68.4,63.5 69.1,62.5 70.4,61.5 72.3,60.5 74.6,59.5 74.6,58.5Z" fill="#629f57"/>
<path d="M37.7,58.5 37.7,59.5 39.9,60.5 41.7,61.5 43.0,62.5 43.7,63.5 44.4,64.5 45.1,65.5 45.8,66.5 46.4,67.5 47.1,68.5 47.7,69.5 48.4,70.5 49.0,71.5 49.6,72.5 50.2,73.5 50.6,74.5 50.9,75.5 51.1,76.5 51.4,77.5 51.6,78.5 51.8,79.5 52.1,80.5 52.3,81.5 52.6,82.5 52.8,83.5 53.1,84.5 53.3,85.5 53.6,86.5 53.9,87.5 54.1,88.5 54.3,89.5 54.7,90.5 55.1,91.5 56.1,91.5 56.5,90.5 56.9,89.5 57.1,88.5 57.3,87.5 57.6,86.5 57.9,85.5 58.1,84.5 58.4,83.5 58.6,82.5 58.9,81.5 59.1,80.5 59.4,79.5 59.6,78.5 59.8,77.5 60.1,76.5 60.3,75.5 60.6,74.5 61.0,73.5 61.6,72.5 62.2,71.5 62.8,70.5 63.5,69.5 64.1,68.5 64.8,67.5 65.4,66.5 66.1,65.5 66.8,64.5 67.5,63.5 68.2,62.5 69.5,61.5 71.3,60.5 73.5,59.5 73.5,58.5Z" fill="#7da24a"/>
<path d="M38.7,58.5 38.7,59.5 40.9,60.5 42.6,61.5 43.8,62.5 44.5,63.5 45.2,64.5 45.9,65.5 46.5,66.5 47.2,67.5 47.8,68.5 48.5,69.5 49.1,70.5 49.7,71.5 50.3,72.5 50.9,73.5 51.3,74.5 51.5,75.5 51.8,76.5 52.0,77.5 52.2,78.5 52.5,79.5 52.8,80.5 53.0,81.5 53.3,82.5 53.6,83.5 53.9,84.5 54.2,85.5 54.6,86.5 55.0,87.5 56.2,87.5 56.6,86.5 57.0,85.5 57.3,84.5 57.6,83.5 57.9,82.5 58.2,81.5 58.4,80.5 58.7,79.5 59.0,78.5 59.2,77.5 59.4,76.5 59.7,75.5 59.9,74.5 60.3,73.5 60.9,72.5 61.5,71.5 62.1,70.5 62.7,69.5 63.4,68.5 64.0,67.5 64.7,66.5 65.3,65.5 66.0,64.5 66.7,63.5 67.4,62.5 68.6,61.5 70.3,60.5 72.5,59.5 72.5,58.5Z" fill="#98a43c"/>
<path d="M39.8,58.5 39.8,59.5 41.8,60.5 43.5,61.5 44.7,62.5 45.4,63.5 46.0,64.5 46.7,65.5 47.3,66.5 48.0,67.5 48.6,68.5 49.2,69.5 49.8,70.5 50.4,71.5 51.0,72.5 51.5,73.5 51.9,74.5 52.2,75.5 52.4,76.5 52.7,77.5 53.0,78.5 53.2,79.5 53.5,80.5 53.8,81.5 54.2,82.5 54.6,83.5 55.4,84.5 55.8,84.5 56.6,83.5 57.0,82.5 57.4,81.5 57.7,80.5 58.0,79.5 58.2,78.5 58.5,77.5 58.8,76.5 59.0,75.5 59.3,74.5 59.7,73.5 60.2,72.5 60.8,71.5 61.4,70.5 62.0,69.5 62.6,68.5 63.2,67.5 63.9,66.5 64.5,65.5 65.2,64.5 65.8,63.5 66.5,62.5 67.7,61.5 69.4,60.5 71.4,59.5 71.4,58.5Z" fill="#ada436"/>
<path d="M40.9,58.5 40.9,59.5 42.8,60.5 44.4,61.5 45.5,62.5 46.2,63.5 46.9,64.5 47.5,65.5 48.1,66.5 48.7,67.5 49.4,68.5 50.0,69.5 50.5,70.5 51.1,71.5 51.7,72.5 52.2,73.5 52.6,74.5 52.9,75.5 53.2,76.5 53.5,77.5 53.8,78.5 54.2,79.5 54.7,80.5 56.5,80.5 57.0,79.5 57.4,78.5 57.7,77.5 58.0,76.5 58.3,75.5 58.6,74.5 59.0,73.5 59.5,72.5 60.1,71.5 60.7,70.5 61.2,69.5 61.8,68.5 62.5,67.5 63.1,66.5 63.7,65.5 64.3,64.5 65.0,63.5 65.7,62.5 66.8,61.5 68.4,60.5 70.3,59.5 70.3,58.5Z" fill="#c2a431"/>
<path d="M41.9,58.5 41.9,59.5 43.8,60.5 45.3,61.5 46.4,62.5 47.1,63.5 47.7,64.5 48.3,65.5 49.0,66.5 49.6,67.5 50.2,68.5 50.8,69.5 51.3,70.5 51.9,71.5 52.5,72.5 53.1,73.5 53.5,74.5 53.9,75.5 54.3,76.5 54.8,77.5 56.4,77.5 56.9,76.5 57.3,75.5 57.7,74.5 58.1,73.5 58.7,72.5 59.3,71.5 59.9,70.5 60.4,69.5 61.0,68.5 61.6,67.5 62.2,66.5 62.9,65.5 63.5,64.5 64.1,63.5 64.8,62.5 65.9,61.5 67.4,60.5 69.3,59.5 69.3,58.5Z" fill="#d3a42c"/>
<path d="M43.0,58.5 43.0,59.5 44.8,60.5 46.3,61.5 47.3,62.5 48.0,63.5 48.6,64.5 49.2,65.5 49.8,66.5 50.4,67.5 51.0,68.5 51.6,69.5 52.2,70.5 52.9,71.5 53.5,72.5 54.2,73.5 55.0,74.5 56.2,74.5 57.0,73.5 57.7,72.5 58.3,71.5 59.0,70.5 59.6,69.5 60.2,68.5 60.8,67.5 61.4,66.5 62.0,65.5 62.6,64.5 63.2,63.5 63.9,62.5 64.9,61.5 66.4,60.5 68.2,59.5 68.2,58.5Z" fill="#e0a527"/>
<path d="M44.1,58.5 44.1,59.5 45.8,60.5 47.2,61.5 48.2,62.5 48.9,63.5 49.5,64.5 50.2,65.5 50.8,66.5 51.4,67.5 52.1,68.5 52.7,69.5 53.4,70.5 54.2,71.5 57.0,71.5 57.8,70.5 58.5,69.5 59.1,68.5 59.8,67.5 60.4,66.5 61.0,65.5 61.7,64.5 62.3,63.5 63.0,62.5 64.0,61.5 65.4,60.5 67.1,59.5 67.1,58.5Z" fill="#eea522"/>
<path d="M45.2,58.5 45.2,59.5 46.9,60.5 48.3,61.5 49.2,62.5 49.9,63.5 50.6,64.5 51.2,65.5 51.9,66.5 52.6,67.5 53.4,68.5 54.4,69.5 56.8,69.5 57.8,68.5 58.6,67.5 59.3,66.5 60.0,65.5 60.6,64.5 61.3,63.5 62.0,62.5 62.9,61.5 64.3,60.5 66.0,59.5 66.0,58.5Z" fill="#ec9d24"/>
<path d="M46.4,58.5 46.4,59.5 48.0,60.5 49.4,61.5 50.4,62.5 51.1,63.5 51.8,64.5 52.6,65.5 53.5,66.5 54.7,67.5 56.5,67.5 57.7,66.5 58.6,65.5 59.4,64.5 60.1,63.5 60.8,62.5 61.8,61.5 63.2,60.5 64.8,59.5 64.8,58.5Z" fill="#eb9425"/>
<path d="M47.8,58.5 47.8,59.5 49.3,60.5 50.7,61.5 51.7,62.5 52.6,63.5 53.6,64.5 57.6,64.5 58.6,63.5 59.5,62.5 60.5,61.5 61.9,60.5 63.4,59.5 63.4,58.5Z" fill="#e98b27"/>
<path d="M49.3,58.5 49.3,59.5 50.8,60.5 52.4,61.5 53.8,62.5 57.4,62.5 58.8,61.5 60.4,60.5 61.9,59.5 61.9,58.5Z" fill="#e68228"/>
<path d="M51.2,58.5 51.2,59.5 53.1,60.5 58.1,60.5 60.0,59.5 60.0,58.5Z" fill="#e4782a"/>
<linearGradient id="bg3" x1="0" y1="0" x2="0" y2="1"><stop offset="0.0000" stop-color="#265a86"/><stop offset="0.0092" stop-color="#265a86"/><stop offset="0.0184" stop-color="#265986"/><stop offset="0.0276" stop-color="#265986"/><stop offset="0.0369" stop-color="#265986"/><stop offset="0.0461" stop-color="#265986"/><stop offset="0.0553" stop-color="#265886"/><stop offset="0.0645" stop-color="#265886"/><stop offset="0.0737" stop-color="#265885"/><stop offset="0.0829" stop-color="#265885"/><stop offset="0.0922" stop-color="#265785"/><stop offset="0.1014" stop-color="#265785"/><stop offset="0.1106" stop-color="#265785"/><stop offset="0.1198" stop-color="#265785"/><stop offset="0.1290" stop-color="#265685"/><stop offset="0.1382" stop-color="#265685"/><stop offset="0.1475" stop-color="#265685"/><stop offset="0.1567" stop-color="#265684"/><stop offset="0.1659" stop-color="#265584"/><stop offset="0.1751" stop-color="#265584"/><stop offset="0.1843" stop-color="#265584"/><stop offset="0.1935" stop-color="#265584"/><stop offset="0.2028" stop-color="#265484"/><stop offset="0.2120" stop-color="#275484"/><stop offset="0.2212" stop-color="#275484"/><stop offset="0.2304" stop-color="#275484"/><stop offset="0.2396" stop-color="#275484"/><stop offset="0.2488" stop-color="#275384"/><stop offset="0.2581" stop-color="#275383"/><stop offset="0.2673" stop-color="#275383"/><stop offset="0.2765" stop-color="#275383"/><stop offset="0.2857" stop-color="#275383"/><stop offset="0.2949" stop-color="#275283"/><stop offset="0.3041" stop-color="#275283"/><stop offset="0.3134" stop-color="#275283"/><stop offset="0.3226" stop-color="#275283"/><stop offset="0.3318" stop-color="#275283"/><stop offset="0.3410" stop-color="#275183"/><stop offset="0.3502" stop-color="#275183"/><stop offset="0.3594" stop-color="#275183"/><stop offset="0.3687" stop-color="#275182"/><stop offset="0.3779" stop-color="#275182"/><stop offset="0.3871" stop-color="#275082"/><stop offset="0.3963" stop-color="#275082"/><stop offset="0.4055" stop-color="#275082"/><stop offset="0.4147" stop-color="#275082"/><stop offset="0.4240" stop-color="#275082"/><stop offset="0.4332" stop-color="#274f82"/><stop offset="0.4424" stop-color="#274f82"/><stop offset="0.4516" stop-color="#274f82"/><stop offset="0.4608" stop-color="#274f82"/><stop offset="0.4700" stop-color="#274f82"/><stop offset="0.4793" stop-color="#274f81"/><stop offset="0.4885" stop-color="#274e81"/><stop offset="0.4977" stop-color="#274e81"/><stop offset="0.5069" stop-color="#284e81"/><stop offset="0.5161" stop-color="#284e81"/><stop offset="0.5253" stop-color="#284e81"/><stop offset="0.5346" stop-color="#284e81"/><stop offset="0.5438" stop-color="#284e81"/><stop offset="0.5530" stop-color="#284e81"/><stop offset="0.5622" stop-color="#284d81"/><stop offset="0.5714" stop-color="#284d81"/><stop offset="0.5806" stop-color="#284d81"/><stop offset="0.5899" stop-color="#284d81"/><stop offset="0.5991" stop-color="#284d81"/><stop offset="0.6083" stop-color="#284d81"/><stop offset="0.6175" stop-color="#284d81"/><stop offset="0.6267" stop-color="#284d81"/><stop offset="0.6359" stop-color="#284c81"/><stop offset="0.6452" stop-color="#284c81"/><stop offset="0.6544" stop-color="#284c80"/><stop offset="0.6636" stop-color="#284c80"/><stop offset="0.6728" stop-color="#284c80"/><stop offset="0.6820" stop-color="#284c80"/><stop offset="0.6912" stop-color="#284c80"/><stop offset="0.7005" stop-color="#284c80"/><stop offset="0.7097" stop-color="#284b80"/><stop offset="0.7189" stop-color="#284b80"/><stop offset="0.7281" stop-color="#284b80"/><stop offset="0.7373" stop-color="#284b80"/><stop offset="0.7465" stop-color="#284b80"/><stop offset="0.7558" stop-color="#284b80"/><stop offset="0.7650" stop-color="#284b80"/><stop offset="0.7742" stop-color="#284b80"/><stop offset="0.7834" stop-color="#284a80"/><stop offset="0.7926" stop-color="#284a80"/><stop offset="0.8018" stop-color="#284a7f"/><stop offset="0.8111" stop-color="#284a7f"/><stop offset="0.8203" stop-color="#284a7f"/><stop offset="0.8295" stop-color="#284a7f"/><stop offset="0.8387" stop-color="#284a7f"/><stop offset="0.8479" stop-color="#284a7f"/><stop offset="0.8571" stop-color="#28497f"/><stop offset="0.8664" stop-color="#28497f"/><stop offset="0.8756" stop-color="#28497f"/><stop offset="0.8848" stop-color="#28497f"/><stop offset="0.8940" stop-color="#28497f"/><stop offset="0.9032" stop-color="#28497f"/><stop offset="0.9124" stop-color="#28497f"/><stop offset="0.9217" stop-color="#28497f"/><stop offset="0.9309" stop-color="#28497e"/><stop offset="0.9401" stop-color="#28487e"/><stop offset="0.9493" stop-color="#28487e"/><stop offset="0.9585" stop-color="#28487e"/><stop offset="0.9677" stop-color="#28487e"/><stop offset="0.9770" stop-color="#28487e"/><stop offset="0.9862" stop-color="#28487e"/><stop offset="0.9954" stop-color="#28487e"/></linearGradient>
<rect x="18" y="110" width="75.0" height="108.5" fill="url(#bg3)"/>
<path d="M38.4,161.0 41.2,164.0 42.6,167.0 43.6,170.0 44.4,173.0 45.1,176.0 45.7,179.0 46.3,182.0 46.8,185.0 47.4,188.0 47.8,191.0 48.2,194.0 48.5,197.0 48.9,200.0 49.2,203.0 49.6,206.0 49.9,209.0 50.2,212.0 50.5,215.0 50.7,218.0 50.7,218.5 60.5,218.5 60.5,218.0 60.7,215.0 61.0,212.0 61.3,209.0 61.6,206.0 62.0,203.0 62.3,200.0 62.7,197.0 63.0,194.0 63.4,191.0 63.8,188.0 64.4,185.0 64.9,182.0 65.5,179.0 66.1,176.0 66.8,173.0 67.6,170.0 68.6,167.0 70.0,164.0 72.8,161.0Z" fill="#274f82"/>
<path d="M34.7,125.0 38.7,128.0 40.8,131.0 42.1,134.0 43.2,137.0 44.1,140.0 44.9,143.0 45.6,146.0 46.3,149.0 47.0,152.0 47.6,155.0 48.2,158.0 48.7,161.0 49.0,164.0 49.3,167.0 49.6,170.0 49.9,173.0 50.2,176.0 50.4,179.0 50.6,182.0 50.8,185.0 51.0,188.0 51.2,191.0 51.4,194.0 51.5,197.0 51.7,200.0 51.8,203.0 52.0,206.0 52.1,209.0 52.3,212.0 52.4,215.0 52.5,218.0 52.5,218.5 58.7,218.5 58.7,218.0 58.8,215.0 58.9,212.0 59.1,209.0 59.2,206.0 59.4,203.0 59.5,200.0 59.7,197.0 59.8,194.0 60.0,191.0 60.2,188.0 60.4,185.0 60.6,182.0 60.8,179.0 61.0,176.0 61.3,173.0 61.6,170.0 61.9,167.0 62.2,164.0 62.5,161.0 63.0,158.0 63.6,155.0 64.2,152.0 64.9,149.0 65.6,146.0 66.3,143.0 67.1,140.0 68.0,137.0 69.1,134.0 70.4,131.0 72.5,128.0 76.5,125.0Z" fill="#265685"/>
<path d="M39.6,110.0 41.2,113.0 42.8,116.0 43.7,119.0 44.6,122.0 45.5,125.0 46.4,128.0 47.2,131.0 47.8,134.0 48.3,137.0 48.8,140.0 49.3,143.0 49.7,146.0 50.0,149.0 50.4,152.0 50.6,155.0 50.9,158.0 51.1,161.0 51.2,164.0 51.4,167.0 51.5,170.0 51.6,173.0 51.8,176.0 51.9,179.0 52.0,182.0 52.1,185.0 52.2,188.0 52.3,191.0 52.4,194.0 52.6,197.0 52.7,200.0 52.8,203.0 52.9,206.0 53.0,209.0 53.1,212.0 53.2,215.0 53.3,218.0 53.3,218.5 57.9,218.5 57.9,218.0 58.0,215.0 58.1,212.0 58.2,209.0 58.3,206.0 58.4,203.0 58.5,200.0 58.6,197.0 58.8,194.0 58.9,191.0 59.0,188.0 59.1,185.0 59.2,182.0 59.3,179.0 59.4,176.0 59.6,173.0 59.7,170.0 59.8,167.0 60.0,164.0 60.1,161.0 60.3,158.0 60.6,155.0 60.8,152.0 61.2,149.0 61.5,146.0 61.9,143.0 62.4,140.0 62.9,137.0 63.4,134.0 64.0,131.0 64.8,128.0 65.7,125.0 66.6,122.0 67.5,119.0 68.4,116.0 70.0,113.0 71.6,110.0Z" fill="#255e88"/>
<path d="M44.9,110.0 46.1,113.0 47.2,116.0 47.9,119.0 48.6,122.0 49.2,125.0 49.7,128.0 50.2,131.0 50.5,134.0 50.8,137.0 51.0,140.0 51.2,143.0 51.4,146.0 51.5,149.0 51.7,152.0 51.8,155.0 52.0,158.0 52.1,161.0 52.2,164.0 52.3,167.0 52.4,170.0 52.5,173.0 52.6,176.0 52.7,179.0 52.8,182.0 52.9,185.0 52.9,188.0 53.0,191.0 53.1,194.0 53.3,197.0 53.4,200.0 53.5,203.0 53.6,206.0 53.7,209.0 53.8,212.0 53.9,215.0 54.0,218.0 54.0,218.5 57.2,218.5 57.2,218.0 57.3,215.0 57.4,212.0 57.5,209.0 57.6,206.0 57.7,203.0 57.8,200.0 57.9,197.0 58.1,194.0 58.2,191.0 58.3,188.0 58.3,185.0 58.4,182.0 58.5,179.0 58.6,176.0 58.7,173.0 58.8,170.0 58.9,167.0 59.0,164.0 59.1,161.0 59.2,158.0 59.4,155.0 59.5,152.0 59.7,149.0 59.8,146.0 60.0,143.0 60.2,140.0 60.4,137.0 60.7,134.0 61.0,131.0 61.5,128.0 62.0,125.0 62.6,122.0 63.3,119.0 64.0,116.0 65.1,113.0 66.3,110.0Z" fill="#236489"/>
<path d="M48.5,110.0 49.3,113.0 49.9,116.0 50.3,119.0 50.7,122.0 51.0,125.0 51.2,128.0 51.5,131.0 51.7,134.0 51.8,137.0 52.0,140.0 52.1,143.0 52.2,146.0 52.4,149.0 52.5,152.0 52.6,155.0 52.7,158.0 52.8,161.0 52.9,164.0 53.0,167.0 53.1,170.0 53.1,173.0 53.2,176.0 53.3,179.0 53.4,182.0 53.5,185.0 53.6,188.0 53.6,191.0 53.7,194.0 53.9,197.0 54.0,200.0 54.1,203.0 54.2,206.0 54.3,209.0 54.5,212.0 54.6,215.0 54.7,218.0 54.7,218.5 56.5,218.5 56.5,218.0 56.6,215.0 56.7,212.0 56.9,209.0 57.0,206.0 57.1,203.0 57.2,200.0 57.3,197.0 57.5,194.0 57.6,191.0 57.6,188.0 57.7,185.0 57.8,182.0 57.9,179.0 58.0,176.0 58.1,173.0 58.1,170.0 58.2,167.0 58.3,164.0 58.4,161.0 58.5,158.0 58.6,155.0 58.7,152.0 58.8,149.0 59.0,146.0 59.1,143.0 59.2,140.0 59.4,137.0 59.5,134.0 59.7,131.0 60.0,128.0 60.2,125.0 60.5,122.0 60.9,119.0 61.3,116.0 61.9,113.0 62.7,110.0Z" fill="#22698a"/>
<path d="M50.3,110.0 50.8,113.0 51.2,116.0 51.4,119.0 51.7,122.0 51.9,125.0 52.1,128.0 52.3,131.0 52.4,134.0 52.5,137.0 52.7,140.0 52.8,143.0 52.9,146.0 53.0,149.0 53.1,152.0 53.2,155.0 53.3,158.0 53.4,161.0 53.5,164.0 53.5,167.0 53.6,170.0 53.7,173.0 53.8,176.0 53.9,179.0 54.0,182.0 54.1,185.0 54.1,188.0 54.2,191.0 54.4,194.0 54.5,197.0 54.7,200.0 54.8,203.0 55.0,206.0 55.4,209.0 55.8,209.0 56.2,206.0 56.4,203.0 56.5,200.0 56.7,197.0 56.8,194.0 57.0,191.0 57.1,188.0 57.1,185.0 57.2,182.0 57.3,179.0 57.4,176.0 57.5,173.0 57.6,170.0 57.7,167.0 57.7,164.0 57.8,161.0 57.9,158.0 58.0,155.0 58.1,152.0 58.2,149.0 58.3,146.0 58.4,143.0 58.5,140.0 58.7,137.0 58.8,134.0 58.9,131.0 59.1,128.0 59.3,125.0 59.5,122.0 59.8,119.0 60.0,116.0 60.4,113.0 60.9,110.0Z" fill="#216e8b"/>
<path d="M51.3,110.0 51.6,113.0 52.0,116.0 52.2,119.0 52.4,122.0 52.5,125.0 52.7,128.0 52.9,131.0 53.0,134.0 53.1,137.0 53.2,140.0 53.3,143.0 53.4,146.0 53.5,149.0 53.6,152.0 53.7,155.0 53.8,158.0 53.9,161.0 54.0,164.0 54.1,167.0 54.2,170.0 54.3,173.0 54.4,176.0 54.5,179.0 54.6,182.0 54.8,185.0 54.9,188.0 55.1,191.0 56.1,191.0 56.3,188.0 56.4,185.0 56.6,182.0 56.7,179.0 56.8,176.0 56.9,173.0 57.0,170.0 57.1,167.0 57.2,164.0 57.3,161.0 57.4,158.0 57.5,155.0 57.6,152.0 57.7,149.0 57.8,146.0 57.9,143.0 58.0,140.0 58.1,137.0 58.2,134.0 58.3,131.0 58.5,128.0 58.7,125.0 58.8,122.0 59.0,119.0 59.2,116.0 59.6,113.0 59.9,110.0Z" fill="#20738c"/>
<path d="M52.0,110.0 52.3,113.0 52.6,116.0 52.8,119.0 52.9,122.0 53.1,125.0 53.3,128.0 53.4,131.0 53.6,134.0 53.7,137.0 53.8,140.0 53.9,143.0 54.0,146.0 54.1,149.0 54.2,152.0 54.3,155.0 54.5,158.0 54.6,161.0 54.7,164.0 54.8,167.0 55.0,170.0 55.2,173.0 56.0,173.0 56.2,170.0 56.4,167.0 56.5,164.0 56.6,161.0 56.7,158.0 56.9,155.0 57.0,152.0 57.1,149.0 57.2,146.0 57.3,143.0 57.4,140.0 57.5,137.0 57.6,134.0 57.8,131.0 57.9,128.0 58.1,125.0 58.3,122.0 58.4,119.0 58.6,116.0 58.9,113.0 59.2,110.0Z" fill="#1f788c"/>
<path d="M52.6,110.0 52.9,113.0 53.1,116.0 53.3,119.0 53.5,122.0 53.6,125.0 53.8,128.0 54.0,131.0 54.1,134.0 54.2,137.0 54.4,140.0 54.5,143.0 54.6,146.0 54.8,149.0 55.0,152.0 55.3,155.0 55.9,155.0 56.2,152.0 56.4,149.0 56.6,146.0 56.7,143.0 56.8,140.0 57.0,137.0 57.1,134.0 57.2,131.0 57.4,128.0 57.6,125.0 57.7,122.0 57.9,119.0 58.1,116.0 58.3,113.0 58.6,110.0Z" fill="#1f7f8c"/>
<path d="M53.1,110.0 53.4,113.0 53.7,116.0 53.9,119.0 54.0,122.0 54.2,125.0 54.4,128.0 54.7,131.0 54.9,134.0 55.1,137.0 56.1,137.0 56.3,134.0 56.5,131.0 56.8,128.0 57.0,125.0 57.2,122.0 57.3,119.0 57.5,116.0 57.8,113.0 58.1,110.0Z" fill="#1f868b"/>
<path d="M53.6,110.0 53.9,113.0 54.3,116.0 54.5,119.0 54.8,122.0 55.1,125.0 56.1,125.0 56.4,122.0 56.7,119.0 56.9,116.0 57.3,113.0 57.6,110.0Z" fill="#218c88"/>
<path d="M54.2,110.0 54.7,113.0 56.5,113.0 57.0,110.0Z" fill="#269083"/>
<path d="M55.2,109.5 55.2,110.5 56.0,110.5 56.0,109.5Z" fill="#2a947e"/>
<linearGradient id="bg4" x1="0" y1="0" x2="0" y2="1"><stop offset="0.0000" stop-color="#284b80"/><stop offset="0.0408" stop-color="#284a80"/><stop offset="0.0816" stop-color="#28497f"/><stop offset="0.1224" stop-color="#28497f"/><stop offset="0.1633" stop-color="#28497f"/><stop offset="0.2041" stop-color="#28497e"/><stop offset="0.2449" stop-color="#28487e"/><stop offset="0.2857" stop-color="#28487e"/><stop offset="0.3265" stop-color="#28487e"/><stop offset="0.3673" stop-color="#28487e"/><stop offset="0.4082" stop-color="#28477e"/><stop offset="0.4490" stop-color="#28477e"/><stop offset="0.4898" stop-color="#28477e"/><stop offset="0.5306" stop-color="#29477d"/><stop offset="0.5714" stop-color="#29477d"/><stop offset="0.6122" stop-color="#29477d"/><stop offset="0.6531" stop-color="#29467d"/><stop offset="0.6939" stop-color="#29467d"/><stop offset="0.7347" stop-color="#29467d"/><stop offset="0.7755" stop-color="#29467d"/><stop offset="0.8163" stop-color="#29457c"/><stop offset="0.8571" stop-color="#29457c"/><stop offset="0.8980" stop-color="#2a3d77"/><stop offset="0.9388" stop-color="#2a3d77"/><stop offset="0.9796" stop-color="#2a3d77"/></linearGradient>
<rect x="18" y="218.5" width="75.0" height="24.5" fill="url(#bg4)"/>
<path d="M53.3,240.5 53.3,241.5 53.3,242.5 53.3,243.0 57.9,243.0 57.9,242.5 57.9,241.5 57.9,240.5Z" fill="#29417a"/>
<path d="M39.6,226.5 41.9,227.5 43.2,228.5 44.3,229.5 45.2,230.5 46.0,231.5 46.7,232.5 47.4,233.5 48.1,234.5 48.7,235.5 49.4,236.5 50.3,237.5 51.0,238.5 51.5,239.5 54.3,240.5 54.3,241.5 54.3,242.5 54.3,243.0 56.9,243.0 56.9,242.5 56.9,241.5 56.9,240.5 59.7,239.5 60.2,238.5 60.9,237.5 61.8,236.5 62.5,235.5 63.1,234.5 63.8,233.5 64.5,232.5 65.2,231.5 66.0,230.5 66.9,229.5 68.0,228.5 69.3,227.5 71.6,226.5Z" fill="#28487e"/>
<path d="M40.5,218.5 42.0,219.5 43.9,220.5 44.9,221.5 45.8,222.5 46.7,223.5 47.6,224.5 48.4,225.5 49.0,226.5 49.5,227.5 49.9,228.5 50.2,229.5 50.6,230.5 50.9,231.5 51.1,232.5 51.4,233.5 51.6,234.5 51.8,235.5 52.0,236.5 52.3,237.5 52.6,238.5 52.9,239.5 58.3,239.5 58.6,238.5 58.9,237.5 59.2,236.5 59.4,235.5 59.6,234.5 59.8,233.5 60.1,232.5 60.3,231.5 60.6,230.5 61.0,229.5 61.3,228.5 61.7,227.5 62.2,226.5 62.8,225.5 63.6,224.5 64.5,223.5 65.4,222.5 66.3,221.5 67.3,220.5 69.2,219.5 70.7,218.5Z" fill="#274f82"/>
<path d="M46.2,218.5 47.1,219.5 48.3,220.5 49.0,221.5 49.6,222.5 50.2,223.5 50.6,224.5 51.0,225.5 51.3,226.5 51.5,227.5 51.7,228.5 51.8,229.5 52.0,230.5 52.1,231.5 52.3,232.5 52.4,233.5 52.5,234.5 52.7,235.5 52.8,236.5 53.1,237.5 53.3,238.5 53.6,239.5 57.6,239.5 57.9,238.5 58.1,237.5 58.4,236.5 58.5,235.5 58.7,234.5 58.8,233.5 58.9,232.5 59.1,231.5 59.2,230.5 59.4,229.5 59.5,228.5 59.7,227.5 59.9,226.5 60.2,225.5 60.6,224.5 61.0,223.5 61.6,222.5 62.2,221.5 62.9,220.5 64.1,219.5 65.0,218.5Z" fill="#265685"/>
<path d="M49.3,218.5 49.8,219.5 50.6,220.5 50.9,221.5 51.2,222.5 51.5,223.5 51.7,224.5 52.0,225.5 52.2,226.5 52.3,227.5 52.4,228.5 52.5,229.5 52.6,230.5 52.8,231.5 52.9,232.5 53.0,233.5 53.1,234.5 53.2,235.5 53.4,236.5 53.6,237.5 53.9,238.5 54.2,239.5 57.0,239.5 57.3,238.5 57.6,237.5 57.8,236.5 58.0,235.5 58.1,234.5 58.2,233.5 58.3,232.5 58.4,231.5 58.6,230.5 58.7,229.5 58.8,228.5 58.9,227.5 59.0,226.5 59.2,225.5 59.5,224.5 59.7,223.5 60.0,222.5 60.3,221.5 60.6,220.5 61.4,219.5 61.9,218.5Z" fill="#255e88"/>
<path d="M50.3,218.5 50.8,219.5 51.5,220.5 51.7,221.5 51.9,222.5 52.1,223.5 52.3,224.5 52.6,225.5 52.7,226.5 52.8,227.5 52.9,228.5 53.0,229.5 53.1,230.5 53.2,231.5 53.3,232.5 53.4,233.5 53.5,234.5 53.6,235.5 53.8,236.5 54.1,237.5 54.4,238.5 54.9,239.5 56.3,239.5 56.8,238.5 57.1,237.5 57.4,236.5 57.6,235.5 57.7,234.5 57.8,233.5 57.9,232.5 58.0,231.5 58.1,230.5 58.2,229.5 58.3,228.5 58.4,227.5 58.5,226.5 58.6,225.5 58.9,224.5 59.1,223.5 59.3,222.5 59.5,221.5 59.7,220.5 60.4,219.5 60.9,218.5Z" fill="#236489"/>
<path d="M50.9,218.5 51.3,219.5 52.0,220.5 52.2,221.5 52.4,222.5 52.6,223.5 52.8,224.5 53.0,225.5 53.1,226.5 53.2,227.5 53.3,228.5 53.4,229.5 53.5,230.5 53.6,231.5 53.7,232.5 53.8,233.5 53.9,234.5 54.0,235.5 54.2,236.5 54.6,237.5 55.1,238.5 56.1,238.5 56.6,237.5 57.0,236.5 57.2,235.5 57.3,234.5 57.4,233.5 57.5,232.5 57.6,231.5 57.7,230.5 57.8,229.5 57.9,228.5 58.0,227.5 58.1,226.5 58.2,225.5 58.4,224.5 58.6,223.5 58.8,222.5 59.0,221.5 59.2,220.5 59.9,219.5 60.3,218.5Z" fill="#22698a"/>
<path d="M51.3,218.5 51.7,219.5 52.4,220.5 52.6,221.5 52.8,222.5 52.9,223.5 53.1,224.5 53.3,225.5 53.5,226.5 53.6,227.5 53.7,228.5 53.8,229.5 53.9,230.5 54.0,231.5 54.1,232.5 54.2,233.5 54.3,234.5 54.5,235.5 54.7,236.5 55.3,237.5 55.9,237.5 56.5,236.5 56.7,235.5 56.9,234.5 57.0,233.5 57.1,232.5 57.2,231.5 57.3,230.5 57.4,229.5 57.5,228.5 57.6,227.5 57.7,226.5 57.9,225.5 58.1,224.5 58.3,223.5 58.4,222.5 58.6,221.5 58.8,220.5 59.5,219.5 59.9,218.5Z" fill="#216e8b"/>
<path d="M51.6,218.5 52.0,219.5 52.7,220.5 52.9,221.5 53.1,222.5 53.3,223.5 53.4,224.5 53.6,225.5 53.8,226.5 53.9,227.5 54.0,228.5 54.1,229.5 54.2,230.5 54.3,231.5 54.5,232.5 54.6,233.5 54.8,234.5 55.0,235.5 56.2,235.5 56.4,234.5 56.6,233.5 56.7,232.5 56.9,231.5 57.0,230.5 57.1,229.5 57.2,228.5 57.3,227.5 57.4,226.5 57.6,225.5 57.8,224.5 57.9,223.5 58.1,222.5 58.3,221.5 58.5,220.5 59.2,219.5 59.6,218.5Z" fill="#20738c"/>
<path d="M51.9,218.5 52.3,219.5 53.0,220.5 53.2,221.5 53.4,222.5 53.5,223.5 53.7,224.5 53.9,225.5 54.1,226.5 54.2,227.5 54.3,228.5 54.5,229.5 54.6,230.5 54.7,231.5 54.9,232.5 55.2,233.5 56.0,233.5 56.3,232.5 56.5,231.5 56.6,230.5 56.7,229.5 56.9,228.5 57.0,227.5 57.1,226.5 57.3,225.5 57.5,224.5 57.7,223.5 57.8,222.5 58.0,221.5 58.2,220.5 58.9,219.5 59.3,218.5Z" fill="#1f788c"/>
<path d="M52.1,218.5 52.6,219.5 53.3,220.5 53.4,221.5 53.6,222.5 53.8,223.5 54.0,224.5 54.3,225.5 54.4,226.5 54.6,227.5 54.7,228.5 54.9,229.5 55.1,230.5 56.1,230.5 56.3,229.5 56.5,228.5 56.6,227.5 56.8,226.5 56.9,225.5 57.2,224.5 57.4,223.5 57.6,222.5 57.8,221.5 57.9,220.5 58.6,219.5 59.1,218.5Z" fill="#1f7f8c"/>
<path d="M52.4,218.5 52.8,219.5 53.5,220.5 53.7,221.5 53.9,222.5 54.1,223.5 54.3,224.5 54.6,225.5 54.8,226.5 55.0,227.5 55.4,228.5 55.8,228.5 56.2,227.5 56.4,226.5 56.6,225.5 56.9,224.5 57.1,223.5 57.3,222.5 57.5,221.5 57.7,220.5 58.4,219.5 58.8,218.5Z" fill="#1f868b"/>
<path d="M52.6,218.5 53.0,219.5 53.8,220.5 54.0,221.5 54.2,222.5 54.4,223.5 54.7,224.5 55.1,225.5 56.1,225.5 56.5,224.5 56.8,223.5 57.0,222.5 57.2,221.5 57.4,220.5 58.2,219.5 58.6,218.5Z" fill="#218c88"/>
<path d="M52.8,218.5 53.2,219.5 54.0,220.5 54.2,221.5 54.5,222.5 54.7,223.5 55.2,224.5 56.0,224.5 56.5,223.5 56.7,222.5 57.0,221.5 57.2,220.5 58.0,219.5 58.4,218.5Z" fill="#269083"/>
<path d="M52.9,218.5 53.4,219.5 54.3,220.5 54.5,221.5 54.8,222.5 55.3,223.5 55.9,223.5 56.4,222.5 56.7,221.5 56.9,220.5 57.8,219.5 58.3,218.5Z" fill="#2a947e"/>
<path d="M53.1,218.5 53.6,219.5 54.6,220.5 54.9,221.5 56.3,221.5 56.6,220.5 57.6,219.5 58.1,218.5Z" fill="#3b9871"/>
<path d="M53.3,218.5 53.8,219.5 54.9,220.5 56.3,220.5 57.4,219.5 57.9,218.5Z" fill="#4c9c64"/>
<path d="M53.5,218.5 54.0,219.5 57.2,219.5 57.7,218.5Z" fill="#629f57"/>
<path d="M53.7,218.5 54.2,219.5 57.0,219.5 57.5,218.5Z" fill="#7da24a"/>
<path d="M53.8,218.5 54.5,219.5 56.7,219.5 57.4,218.5Z" fill="#98a43c"/>
<path d="M54.0,218.5 54.8,219.5 56.4,219.5 57.2,218.5Z" fill="#ada436"/>
<path d="M54.2,218.5 55.2,219.5 56.0,219.5 57.0,218.5Z" fill="#c2a431"/>
<path d="M54.5,218.0 54.5,219.0 56.7,219.0 56.7,218.0Z" fill="#d3a42c"/>
<path d="M54.7,218.0 54.7,219.0 56.5,219.0 56.5,218.0Z" fill="#e0a527"/>
<path d="M55.1,218.0 55.1,219.0 56.1,219.0 56.1,218.0Z" fill="#eea522"/>
</g></g>
<rect x="20.00" y="57.90" width="71.00" height="1.50" fill="#fff"/>
<rect x="20.00" y="217.80" width="71.00" height="1.40" fill="#fff"/>
<g clip-path="url(#cA2)"><g filter="url(#hb)">
<linearGradient id="bg5" x1="0" y1="0" x2="0" y2="1"><stop offset="0.0000" stop-color="#1f788c"/><stop offset="0.0364" stop-color="#1f788c"/><stop offset="0.0727" stop-color="#1f768c"/><stop offset="0.1091" stop-color="#20738c"/><stop offset="0.1455" stop-color="#28487e"/><stop offset="0.1818" stop-color="#28487e"/><stop offset="0.2182" stop-color="#28487e"/><stop offset="0.2545" stop-color="#28487e"/><stop offset="0.2909" stop-color="#28487e"/><stop offset="0.3273" stop-color="#28487e"/><stop offset="0.3636" stop-color="#28487e"/><stop offset="0.4000" stop-color="#28477e"/><stop offset="0.4364" stop-color="#28477e"/><stop offset="0.4727" stop-color="#29477d"/><stop offset="0.5091" stop-color="#29477d"/><stop offset="0.5455" stop-color="#29467d"/><stop offset="0.5818" stop-color="#29467d"/><stop offset="0.6182" stop-color="#29467d"/><stop offset="0.6545" stop-color="#29467d"/><stop offset="0.6909" stop-color="#29467d"/><stop offset="0.7273" stop-color="#29457c"/><stop offset="0.7636" stop-color="#29457c"/><stop offset="0.8000" stop-color="#29457c"/><stop offset="0.8364" stop-color="#29457c"/><stop offset="0.8727" stop-color="#29457c"/><stop offset="0.9091" stop-color="#29457c"/><stop offset="0.9455" stop-color="#29417a"/><stop offset="0.9818" stop-color="#2a3d77"/></linearGradient>
<rect x="91.5" y="31" width="75.0" height="27.5" fill="url(#bg5)"/>
<path d="M121.8,57.0 125.4,58.0 125.4,58.5 132.8,58.5 132.8,58.0 136.4,57.0Z" fill="#29417a"/>
<path d="M102.6,41.0 105.7,42.0 107.9,43.0 109.8,44.0 111.4,45.0 112.8,46.0 114.2,47.0 115.2,48.0 116.1,49.0 117.0,50.0 117.9,51.0 118.7,52.0 119.5,53.0 120.3,54.0 121.0,55.0 121.9,56.0 124.9,57.0 126.5,58.0 126.5,58.5 131.7,58.5 131.7,58.0 133.3,57.0 136.3,56.0 137.2,55.0 137.9,54.0 138.7,53.0 139.5,52.0 140.3,51.0 141.2,50.0 142.1,49.0 143.0,48.0 144.0,47.0 145.4,46.0 146.8,45.0 148.4,44.0 150.3,43.0 152.5,42.0 155.6,41.0Z" fill="#28487e"/>
<path d="M110.6,35.0 111.4,36.0 112.1,37.0 112.8,38.0 113.4,39.0 114.1,40.0 114.9,41.0 115.8,42.0 116.6,43.0 117.4,44.0 118.2,45.0 119.0,46.0 119.7,47.0 120.3,48.0 120.9,49.0 121.4,50.0 121.9,51.0 122.4,52.0 122.8,53.0 123.3,54.0 123.7,55.0 124.2,56.0 125.8,57.0 127.4,58.0 127.4,58.5 130.8,58.5 130.8,58.0 132.4,57.0 134.0,56.0 134.5,55.0 134.9,54.0 135.4,53.0 135.8,52.0 136.3,51.0 136.8,50.0 137.3,49.0 137.9,48.0 138.5,47.0 139.2,46.0 140.0,45.0 140.8,44.0 141.6,43.0 142.4,42.0 143.3,41.0 144.1,40.0 144.8,39.0 145.4,38.0 146.1,37.0 146.8,36.0 147.6,35.0Z" fill="#274f82"/>
<path d="M114.1,35.0 114.9,36.0 115.6,37.0 116.3,38.0 117.0,39.0 117.7,40.0 118.4,41.0 119.0,42.0 119.7,43.0 120.3,44.0 120.9,45.0 121.5,46.0 122.0,47.0 122.4,48.0 122.8,49.0 123.1,50.0 123.5,51.0 123.8,52.0 124.1,53.0 124.4,54.0 124.7,55.0 125.1,56.0 126.4,57.0 128.4,58.0 128.4,58.5 129.8,58.5 129.8,58.0 131.8,57.0 133.1,56.0 133.5,55.0 133.8,54.0 134.1,53.0 134.4,52.0 134.7,51.0 135.1,50.0 135.4,49.0 135.8,48.0 136.2,47.0 136.7,46.0 137.3,45.0 137.9,44.0 138.5,43.0 139.2,42.0 139.8,41.0 140.5,40.0 141.2,39.0 141.9,38.0 142.6,37.0 143.3,36.0 144.1,35.0Z" fill="#265685"/>
<path d="M115.9,35.0 116.6,36.0 117.4,37.0 118.1,38.0 118.8,39.0 119.5,40.0 120.1,41.0 120.6,42.0 121.1,43.0 121.7,44.0 122.2,45.0 122.7,46.0 123.2,47.0 123.5,48.0 123.8,49.0 124.0,50.0 124.3,51.0 124.6,52.0 124.8,53.0 125.1,54.0 125.4,55.0 125.7,56.0 127.0,57.0 131.2,57.0 132.5,56.0 132.8,55.0 133.1,54.0 133.4,53.0 133.6,52.0 133.9,51.0 134.2,50.0 134.4,49.0 134.7,48.0 135.0,47.0 135.5,46.0 136.0,45.0 136.5,44.0 137.1,43.0 137.6,42.0 138.1,41.0 138.7,40.0 139.4,39.0 140.1,38.0 140.8,37.0 141.6,36.0 142.3,35.0Z" fill="#255e88"/>
<path d="M117.1,35.0 117.8,36.0 118.5,37.0 119.2,38.0 119.9,39.0 120.6,40.0 121.1,41.0 121.6,42.0 122.1,43.0 122.5,44.0 123.0,45.0 123.5,46.0 123.9,47.0 124.2,48.0 124.4,49.0 124.7,50.0 124.9,51.0 125.1,52.0 125.4,53.0 125.6,54.0 125.9,55.0 126.2,56.0 127.5,57.0 130.7,57.0 132.0,56.0 132.3,55.0 132.6,54.0 132.8,53.0 133.1,52.0 133.3,51.0 133.5,50.0 133.8,49.0 134.0,48.0 134.3,47.0 134.7,46.0 135.2,45.0 135.7,44.0 136.1,43.0 136.6,42.0 137.1,41.0 137.6,40.0 138.3,39.0 139.0,38.0 139.7,37.0 140.4,36.0 141.1,35.0Z" fill="#236489"/>
<path d="M118.0,35.0 118.7,36.0 119.4,37.0 120.1,38.0 120.7,39.0 121.4,40.0 121.8,41.0 122.3,42.0 122.7,43.0 123.2,44.0 123.6,45.0 124.0,46.0 124.5,47.0 124.7,48.0 124.9,49.0 125.1,50.0 125.4,51.0 125.6,52.0 125.8,53.0 126.1,54.0 126.3,55.0 126.6,56.0 128.2,57.0 130.0,57.0 131.6,56.0 131.9,55.0 132.1,54.0 132.4,53.0 132.6,52.0 132.8,51.0 133.1,50.0 133.3,49.0 133.5,48.0 133.7,47.0 134.2,46.0 134.6,45.0 135.0,44.0 135.5,43.0 135.9,42.0 136.4,41.0 136.8,40.0 137.5,39.0 138.1,38.0 138.8,37.0 139.5,36.0 140.2,35.0Z" fill="#22698a"/>
<path d="M118.7,35.0 119.4,36.0 120.1,37.0 120.7,38.0 121.4,39.0 122.0,40.0 122.4,41.0 122.9,42.0 123.3,43.0 123.7,44.0 124.1,45.0 124.5,46.0 124.9,47.0 125.1,48.0 125.3,49.0 125.6,50.0 125.8,51.0 126.0,52.0 126.2,53.0 126.4,54.0 126.7,55.0 127.0,56.0 131.2,56.0 131.5,55.0 131.8,54.0 132.0,53.0 132.2,52.0 132.4,51.0 132.6,50.0 132.9,49.0 133.1,48.0 133.3,47.0 133.7,46.0 134.1,45.0 134.5,44.0 134.9,43.0 135.3,42.0 135.8,41.0 136.2,40.0 136.8,39.0 137.5,38.0 138.1,37.0 138.8,36.0 139.5,35.0Z" fill="#216e8b"/>
<path d="M119.4,35.0 120.0,36.0 120.7,37.0 121.3,38.0 121.9,39.0 122.5,40.0 122.9,41.0 123.4,42.0 123.8,43.0 124.2,44.0 124.5,45.0 124.9,46.0 125.3,47.0 125.5,48.0 125.7,49.0 125.9,50.0 126.2,51.0 126.4,52.0 126.6,53.0 126.8,54.0 127.0,55.0 127.4,56.0 130.8,56.0 131.2,55.0 131.4,54.0 131.6,53.0 131.8,52.0 132.0,51.0 132.3,50.0 132.5,49.0 132.7,48.0 132.9,47.0 133.3,46.0 133.7,45.0 134.0,44.0 134.4,43.0 134.8,42.0 135.3,41.0 135.7,40.0 136.3,39.0 136.9,38.0 137.5,37.0 138.2,36.0 138.8,35.0Z" fill="#20738c"/>
<path d="M112.4,33.0 114.3,34.0 120.0,35.0 120.6,36.0 121.2,37.0 121.8,38.0 122.4,39.0 123.0,40.0 123.4,41.0 123.8,42.0 124.2,43.0 124.6,44.0 124.9,45.0 125.3,46.0 125.7,47.0 125.9,48.0 126.1,49.0 126.3,50.0 126.5,51.0 126.7,52.0 126.9,53.0 127.2,54.0 127.4,55.0 127.8,56.0 130.4,56.0 130.8,55.0 131.0,54.0 131.3,53.0 131.5,52.0 131.7,51.0 131.9,50.0 132.1,49.0 132.3,48.0 132.5,47.0 132.9,46.0 133.3,45.0 133.6,44.0 134.0,43.0 134.4,42.0 134.8,41.0 135.2,40.0 135.8,39.0 136.4,38.0 137.0,37.0 137.6,36.0 138.2,35.0 143.9,34.0 145.8,33.0Z" fill="#1f788c"/>
<path d="M114.3,31.0 114.3,32.0 115.2,33.0 116.1,34.0 120.5,35.0 121.1,36.0 121.7,37.0 122.3,38.0 122.8,39.0 123.4,40.0 123.8,41.0 124.2,42.0 124.6,43.0 124.9,44.0 125.3,45.0 125.6,46.0 126.0,47.0 126.2,48.0 126.4,49.0 126.6,50.0 126.8,51.0 127.1,52.0 127.3,53.0 127.6,54.0 127.8,55.0 128.4,56.0 129.8,56.0 130.4,55.0 130.6,54.0 130.9,53.0 131.1,52.0 131.4,51.0 131.6,50.0 131.8,49.0 132.0,48.0 132.2,47.0 132.6,46.0 132.9,45.0 133.3,44.0 133.6,43.0 134.0,42.0 134.4,41.0 134.8,40.0 135.4,39.0 135.9,38.0 136.5,37.0 137.1,36.0 137.7,35.0 142.1,34.0 143.0,33.0 143.9,32.0 143.9,31.0Z" fill="#1f7f8c"/>
<path d="M116.1,31.0 116.1,32.0 116.7,33.0 117.3,34.0 120.9,35.0 121.5,36.0 122.1,37.0 122.7,38.0 123.3,39.0 123.8,40.0 124.2,41.0 124.5,42.0 124.9,43.0 125.3,44.0 125.6,45.0 126.0,46.0 126.3,47.0 126.5,48.0 126.7,49.0 127.0,50.0 127.2,51.0 127.4,52.0 127.7,53.0 128.0,54.0 128.4,55.0 129.8,55.0 130.2,54.0 130.5,53.0 130.8,52.0 131.0,51.0 131.2,50.0 131.5,49.0 131.7,48.0 131.9,47.0 132.2,46.0 132.6,45.0 132.9,44.0 133.3,43.0 133.7,42.0 134.0,41.0 134.4,40.0 134.9,39.0 135.5,38.0 136.1,37.0 136.7,36.0 137.3,35.0 140.9,34.0 141.5,33.0 142.1,32.0 142.1,31.0Z" fill="#1f868b"/>
<path d="M117.3,31.0 117.3,32.0 117.7,33.0 118.2,34.0 121.4,35.0 122.0,36.0 122.5,37.0 123.1,38.0 123.6,39.0 124.2,40.0 124.5,41.0 124.9,42.0 125.3,43.0 125.6,44.0 126.0,45.0 126.3,46.0 126.6,47.0 126.9,48.0 127.1,49.0 127.3,50.0 127.6,51.0 127.8,52.0 128.2,53.0 128.7,54.0 129.5,54.0 130.0,53.0 130.4,52.0 130.6,51.0 130.9,50.0 131.1,49.0 131.3,48.0 131.6,47.0 131.9,46.0 132.2,45.0 132.6,44.0 132.9,43.0 133.3,42.0 133.7,41.0 134.0,40.0 134.6,39.0 135.1,38.0 135.7,37.0 136.2,36.0 136.8,35.0 140.0,34.0 140.5,33.0 140.9,32.0 140.9,31.0Z" fill="#218c88"/>
<path d="M118.2,31.0 118.2,32.0 118.5,33.0 118.9,34.0 121.8,35.0 122.4,36.0 122.9,37.0 123.5,38.0 124.0,39.0 124.5,40.0 124.9,41.0 125.2,42.0 125.6,43.0 125.9,44.0 126.3,45.0 126.6,46.0 127.0,47.0 127.2,48.0 127.4,49.0 127.7,50.0 128.0,51.0 128.4,52.0 129.8,52.0 130.2,51.0 130.5,50.0 130.8,49.0 131.0,48.0 131.2,47.0 131.6,46.0 131.9,45.0 132.3,44.0 132.6,43.0 133.0,42.0 133.3,41.0 133.7,40.0 134.2,39.0 134.7,38.0 135.3,37.0 135.8,36.0 136.4,35.0 139.3,34.0 139.7,33.0 140.0,32.0 140.0,31.0Z" fill="#269083"/>
<path d="M118.9,31.0 118.9,32.0 119.2,33.0 119.6,34.0 122.2,35.0 122.8,36.0 123.3,37.0 123.8,38.0 124.4,39.0 124.9,40.0 125.2,41.0 125.6,42.0 125.9,43.0 126.3,44.0 126.6,45.0 127.0,46.0 127.3,47.0 127.6,48.0 127.9,49.0 128.2,50.0 128.7,51.0 129.5,51.0 130.0,50.0 130.3,49.0 130.6,48.0 130.9,47.0 131.2,46.0 131.6,45.0 131.9,44.0 132.3,43.0 132.6,42.0 133.0,41.0 133.3,40.0 133.8,39.0 134.4,38.0 134.9,37.0 135.4,36.0 136.0,35.0 138.6,34.0 139.0,33.0 139.3,32.0 139.3,31.0Z" fill="#2a947e"/>
<path d="M119.6,31.0 119.6,32.0 119.9,33.0 120.2,34.0 122.6,35.0 123.1,36.0 123.7,37.0 124.2,38.0 124.7,39.0 125.2,40.0 125.6,41.0 125.9,42.0 126.3,43.0 126.6,44.0 127.0,45.0 127.3,46.0 127.7,47.0 128.0,48.0 128.4,49.0 129.8,49.0 130.2,48.0 130.5,47.0 130.9,46.0 131.2,45.0 131.6,44.0 131.9,43.0 132.3,42.0 132.6,41.0 133.0,40.0 133.5,39.0 134.0,38.0 134.5,37.0 135.1,36.0 135.6,35.0 138.0,34.0 138.3,33.0 138.6,32.0 138.6,31.0Z" fill="#3b9871"/>
<path d="M120.2,31.0 120.2,32.0 120.5,33.0 120.8,34.0 123.0,35.0 123.5,36.0 124.0,37.0 124.5,38.0 125.1,39.0 125.5,40.0 125.9,41.0 126.2,42.0 126.6,43.0 127.0,44.0 127.3,45.0 127.7,46.0 128.2,47.0 128.8,48.0 129.4,48.0 130.0,47.0 130.5,46.0 130.9,45.0 131.2,44.0 131.6,43.0 132.0,42.0 132.3,41.0 132.7,40.0 133.1,39.0 133.7,38.0 134.2,37.0 134.7,36.0 135.2,35.0 137.4,34.0 137.7,33.0 138.0,32.0 138.0,31.0Z" fill="#4c9c64"/>
<path d="M120.8,31.0 120.8,32.0 121.0,33.0 121.3,34.0 123.4,35.0 123.9,36.0 124.4,37.0 124.9,38.0 125.4,39.0 125.9,40.0 126.2,41.0 126.6,42.0 127.0,43.0 127.4,44.0 127.8,45.0 128.3,46.0 129.9,46.0 130.4,45.0 130.8,44.0 131.2,43.0 131.6,42.0 132.0,41.0 132.3,40.0 132.8,39.0 133.3,38.0 133.8,37.0 134.3,36.0 134.8,35.0 136.9,34.0 137.2,33.0 137.4,32.0 137.4,31.0Z" fill="#629f57"/>
<path d="M121.3,31.0 121.3,32.0 121.5,33.0 121.8,34.0 123.7,35.0 124.3,36.0 124.8,37.0 125.3,38.0 125.8,39.0 126.2,40.0 126.6,41.0 127.0,42.0 127.4,43.0 127.8,44.0 128.4,45.0 129.8,45.0 130.4,44.0 130.8,43.0 131.2,42.0 131.6,41.0 132.0,40.0 132.4,39.0 132.9,38.0 133.4,37.0 133.9,36.0 134.5,35.0 136.4,34.0 136.7,33.0 136.9,32.0 136.9,31.0Z" fill="#7da24a"/>
<path d="M121.8,31.0 121.8,32.0 122.0,33.0 122.3,34.0 124.1,35.0 124.6,36.0 125.1,37.0 125.6,38.0 126.1,39.0 126.6,40.0 127.0,41.0 127.4,42.0 127.9,43.0 128.6,44.0 129.6,44.0 130.3,43.0 130.8,42.0 131.2,41.0 131.6,40.0 132.1,39.0 132.6,38.0 133.1,37.0 133.6,36.0 134.1,35.0 135.9,34.0 136.2,33.0 136.4,32.0 136.4,31.0Z" fill="#98a43c"/>
<path d="M122.3,31.0 122.3,32.0 122.5,33.0 122.8,34.0 124.5,35.0 125.0,36.0 125.5,37.0 126.0,38.0 126.5,39.0 127.0,40.0 127.5,41.0 128.0,42.0 128.9,43.0 129.3,43.0 130.2,42.0 130.7,41.0 131.2,40.0 131.7,39.0 132.2,38.0 132.7,37.0 133.2,36.0 133.7,35.0 135.4,34.0 135.7,33.0 135.9,32.0 135.9,31.0Z" fill="#ada436"/>
<path d="M122.8,31.0 122.8,32.0 123.0,33.0 123.2,34.0 124.9,35.0 125.4,36.0 125.9,37.0 126.4,38.0 127.0,39.0 127.5,40.0 128.1,41.0 130.1,41.0 130.7,40.0 131.2,39.0 131.8,38.0 132.3,37.0 132.8,36.0 133.3,35.0 135.0,34.0 135.2,33.0 135.4,32.0 135.4,31.0Z" fill="#c2a431"/>
<path d="M123.2,31.0 123.2,32.0 123.4,33.0 123.7,34.0 125.3,35.0 125.8,36.0 126.4,37.0 126.9,38.0 127.5,39.0 128.2,40.0 130.0,40.0 130.7,39.0 131.3,38.0 131.8,37.0 132.4,36.0 132.9,35.0 134.5,34.0 134.8,33.0 135.0,32.0 135.0,31.0Z" fill="#d3a42c"/>
<path d="M123.7,31.0 123.7,32.0 123.9,33.0 124.2,34.0 125.7,35.0 126.3,36.0 126.8,37.0 127.5,38.0 128.2,39.0 130.0,39.0 130.7,38.0 131.4,37.0 131.9,36.0 132.5,35.0 134.0,34.0 134.3,33.0 134.5,32.0 134.5,31.0Z" fill="#e0a527"/>
<path d="M124.2,31.0 124.2,32.0 124.4,33.0 124.7,34.0 126.2,35.0 126.8,36.0 127.4,37.0 128.3,38.0 129.9,38.0 130.8,37.0 131.4,36.0 132.0,35.0 133.5,34.0 133.8,33.0 134.0,32.0 134.0,31.0Z" fill="#eea522"/>
<path d="M124.7,31.0 124.7,32.0 124.9,33.0 125.2,34.0 126.7,35.0 127.4,36.0 128.3,37.0 129.9,37.0 130.8,36.0 131.5,35.0 133.0,34.0 133.3,33.0 133.5,32.0 133.5,31.0Z" fill="#ec9d24"/>
<path d="M125.2,31.0 125.2,32.0 125.4,33.0 125.8,34.0 127.4,35.0 128.4,36.0 129.8,36.0 130.8,35.0 132.4,34.0 132.8,33.0 133.0,32.0 133.0,31.0Z" fill="#eb9425"/>
<path d="M125.8,31.0 125.8,32.0 126.0,33.0 126.4,34.0 128.5,35.0 129.7,35.0 131.8,34.0 132.2,33.0 132.4,32.0 132.4,31.0Z" fill="#e98b27"/>
<path d="M126.4,31.0 126.4,32.0 126.7,33.0 127.2,34.0 131.0,34.0 131.5,33.0 131.8,32.0 131.8,31.0Z" fill="#e68228"/>
<path d="M127.2,31.0 127.2,32.0 127.7,33.0 130.5,33.0 131.0,32.0 131.0,31.0Z" fill="#e4782a"/>
<linearGradient id="bg6" x1="0" y1="0" x2="0" y2="1"><stop offset="0.0000" stop-color="#216c8b"/><stop offset="0.0194" stop-color="#216c8b"/><stop offset="0.0388" stop-color="#216c8b"/><stop offset="0.0583" stop-color="#216c8b"/><stop offset="0.0777" stop-color="#216c8b"/><stop offset="0.0971" stop-color="#216c8b"/><stop offset="0.1165" stop-color="#216b8b"/><stop offset="0.1359" stop-color="#216b8b"/><stop offset="0.1553" stop-color="#216b8b"/><stop offset="0.1748" stop-color="#216b8b"/><stop offset="0.1942" stop-color="#216a8b"/><stop offset="0.2136" stop-color="#226a8b"/><stop offset="0.2330" stop-color="#226a8b"/><stop offset="0.2524" stop-color="#226a8b"/><stop offset="0.2718" stop-color="#22698a"/><stop offset="0.2913" stop-color="#22698a"/><stop offset="0.3107" stop-color="#22698a"/><stop offset="0.3301" stop-color="#22688a"/><stop offset="0.3495" stop-color="#22688a"/><stop offset="0.3689" stop-color="#22678a"/><stop offset="0.3883" stop-color="#23678a"/><stop offset="0.4078" stop-color="#23668a"/><stop offset="0.4272" stop-color="#23668a"/><stop offset="0.4466" stop-color="#23658a"/><stop offset="0.4660" stop-color="#236589"/><stop offset="0.4854" stop-color="#236489"/><stop offset="0.5049" stop-color="#236389"/><stop offset="0.5243" stop-color="#246389"/><stop offset="0.5437" stop-color="#246289"/><stop offset="0.5631" stop-color="#246289"/><stop offset="0.5825" stop-color="#246289"/><stop offset="0.6019" stop-color="#246189"/><stop offset="0.6214" stop-color="#246189"/><stop offset="0.6408" stop-color="#246088"/><stop offset="0.6602" stop-color="#256088"/><stop offset="0.6796" stop-color="#255f88"/><stop offset="0.6990" stop-color="#255f88"/><stop offset="0.7184" stop-color="#255e88"/><stop offset="0.7379" stop-color="#255e88"/><stop offset="0.7573" stop-color="#255d88"/><stop offset="0.7767" stop-color="#255c87"/><stop offset="0.7961" stop-color="#255c87"/><stop offset="0.8155" stop-color="#255c87"/><stop offset="0.8350" stop-color="#255c87"/><stop offset="0.8544" stop-color="#255b87"/><stop offset="0.8738" stop-color="#255b87"/><stop offset="0.8932" stop-color="#255b87"/><stop offset="0.9126" stop-color="#265b87"/><stop offset="0.9320" stop-color="#265a87"/><stop offset="0.9515" stop-color="#265a86"/><stop offset="0.9709" stop-color="#265a86"/><stop offset="0.9903" stop-color="#265a86"/></linearGradient>
<rect x="91.5" y="58.5" width="75.0" height="51.5" fill="url(#bg6)"/>
<path d="M96.5,96.5 100.9,97.5 103.3,98.5 104.6,99.5 105.4,100.5 106.1,101.5 106.8,102.5 107.5,103.5 108.1,104.5 108.7,105.5 109.3,106.5 109.9,107.5 110.4,108.5 111.0,109.5 111.2,110.0 147.0,110.0 147.2,109.5 147.8,108.5 148.3,107.5 148.9,106.5 149.5,105.5 150.1,104.5 150.7,103.5 151.4,102.5 152.1,101.5 152.8,100.5 153.6,99.5 154.9,98.5 157.3,97.5 161.7,96.5Z" fill="#255e88"/>
<path d="M89.5,84.5 94.2,85.5 97.6,86.5 99.8,87.5 101.5,88.5 102.9,89.5 104.2,90.5 105.3,91.5 106.4,92.5 107.4,93.5 108.3,94.5 109.2,95.5 110.0,96.5 110.8,97.5 111.5,98.5 112.1,99.5 112.5,100.5 112.9,101.5 113.3,102.5 113.7,103.5 114.1,104.5 114.5,105.5 114.9,106.5 115.3,107.5 115.7,108.5 116.1,109.5 116.3,110.0 141.9,110.0 142.1,109.5 142.5,108.5 142.9,107.5 143.3,106.5 143.7,105.5 144.1,104.5 144.5,103.5 144.9,102.5 145.3,101.5 145.7,100.5 146.1,99.5 146.7,98.5 147.4,97.5 148.2,96.5 149.0,95.5 149.9,94.5 150.8,93.5 151.8,92.5 152.9,91.5 154.0,90.5 155.3,89.5 156.7,88.5 158.4,87.5 160.6,86.5 164.0,85.5 168.7,84.5Z" fill="#236489"/>
<path d="M89.5,74.5 90.3,75.5 93.2,76.5 95.5,77.5 97.3,78.5 99.0,79.5 100.5,80.5 101.8,81.5 103.1,82.5 104.3,83.5 105.4,84.5 106.4,85.5 107.4,86.5 108.2,87.5 109.0,88.5 109.7,89.5 110.4,90.5 111.1,91.5 111.8,92.5 112.5,93.5 113.1,94.5 113.7,95.5 114.3,96.5 114.9,97.5 115.4,98.5 115.9,99.5 116.3,100.5 116.6,101.5 117.0,102.5 117.4,103.5 117.7,104.5 118.1,105.5 118.4,106.5 118.8,107.5 119.2,108.5 119.5,109.5 119.7,110.0 138.5,110.0 138.7,109.5 139.0,108.5 139.4,107.5 139.8,106.5 140.1,105.5 140.5,104.5 140.8,103.5 141.2,102.5 141.6,101.5 141.9,100.5 142.3,99.5 142.8,98.5 143.3,97.5 143.9,96.5 144.5,95.5 145.1,94.5 145.7,93.5 146.4,92.5 147.1,91.5 147.8,90.5 148.5,89.5 149.2,88.5 150.0,87.5 150.8,86.5 151.8,85.5 152.8,84.5 153.9,83.5 155.1,82.5 156.4,81.5 157.7,80.5 159.2,79.5 160.9,78.5 162.7,77.5 165.0,76.5 167.9,75.5 168.7,74.5Z" fill="#22698a"/>
<path d="M89.5,58.5 89.5,59.5 89.5,60.5 90.4,61.5 90.9,62.5 92.0,63.5 93.0,64.5 94.0,65.5 94.9,66.5 95.7,67.5 96.5,68.5 97.2,69.5 98.0,70.5 98.7,71.5 99.4,72.5 100.1,73.5 101.2,74.5 102.3,75.5 103.4,76.5 104.4,77.5 105.3,78.5 106.3,79.5 107.2,80.5 108.0,81.5 108.8,82.5 109.7,83.5 110.4,84.5 111.2,85.5 111.9,86.5 112.6,87.5 113.2,88.5 113.8,89.5 114.3,90.5 114.9,91.5 115.5,92.5 116.0,93.5 116.5,94.5 117.1,95.5 117.6,96.5 118.1,97.5 118.6,98.5 119.0,99.5 119.3,100.5 119.7,101.5 120.0,102.5 120.4,103.5 120.7,104.5 121.0,105.5 121.3,106.5 121.6,107.5 121.9,108.5 122.2,109.5 122.3,110.0 135.9,110.0 136.0,109.5 136.3,108.5 136.6,107.5 136.9,106.5 137.2,105.5 137.5,104.5 137.8,103.5 138.2,102.5 138.5,101.5 138.9,100.5 139.2,99.5 139.6,98.5 140.1,97.5 140.6,96.5 141.1,95.5 141.7,94.5 142.2,93.5 142.7,92.5 143.3,91.5 143.9,90.5 144.4,89.5 145.0,88.5 145.6,87.5 146.3,86.5 147.0,85.5 147.8,84.5 148.5,83.5 149.4,82.5 150.2,81.5 151.0,80.5 151.9,79.5 152.9,78.5 153.8,77.5 154.8,76.5 155.9,75.5 157.0,74.5 158.1,73.5 158.8,72.5 159.5,71.5 160.2,70.5 161.0,69.5 161.7,68.5 162.5,67.5 163.3,66.5 164.2,65.5 165.2,64.5 166.2,63.5 167.3,62.5 167.8,61.5 168.7,60.5 168.7,59.5 168.7,58.5Z" fill="#216e8b"/>
<path d="M90.2,58.5 90.2,59.5 93.8,60.5 96.4,61.5 97.7,62.5 98.7,63.5 99.7,64.5 100.7,65.5 101.6,66.5 102.4,67.5 103.2,68.5 103.9,69.5 104.5,70.5 105.0,71.5 105.5,72.5 105.9,73.5 106.8,74.5 107.6,75.5 108.4,76.5 109.2,77.5 109.9,78.5 110.7,79.5 111.4,80.5 112.1,81.5 112.8,82.5 113.5,83.5 114.1,84.5 114.8,85.5 115.4,86.5 116.0,87.5 116.5,88.5 117.0,89.5 117.5,90.5 118.0,91.5 118.5,92.5 119.0,93.5 119.4,94.5 119.9,95.5 120.3,96.5 120.7,97.5 121.2,98.5 121.5,99.5 121.8,100.5 122.0,101.5 122.2,102.5 122.5,103.5 122.7,104.5 122.9,105.5 123.1,106.5 123.3,107.5 123.4,108.5 123.6,109.5 123.7,110.0 134.5,110.0 134.6,109.5 134.8,108.5 134.9,107.5 135.1,106.5 135.3,105.5 135.5,104.5 135.7,103.5 136.0,102.5 136.2,101.5 136.4,100.5 136.7,99.5 137.0,98.5 137.5,97.5 137.9,96.5 138.3,95.5 138.8,94.5 139.2,93.5 139.7,92.5 140.2,91.5 140.7,90.5 141.2,89.5 141.7,88.5 142.2,87.5 142.8,86.5 143.4,85.5 144.1,84.5 144.7,83.5 145.4,82.5 146.1,81.5 146.8,80.5 147.5,79.5 148.3,78.5 149.0,77.5 149.8,76.5 150.6,75.5 151.4,74.5 152.3,73.5 152.7,72.5 153.2,71.5 153.7,70.5 154.3,69.5 155.0,68.5 155.8,67.5 156.6,66.5 157.5,65.5 158.5,64.5 159.5,63.5 160.5,62.5 161.8,61.5 164.4,60.5 168.0,59.5 168.0,58.5Z" fill="#20738c"/>
<path d="M93.7,58.5 93.7,59.5 97.0,60.5 99.6,61.5 101.0,62.5 102.0,63.5 102.9,64.5 103.9,65.5 104.8,66.5 105.6,67.5 106.5,68.5 107.3,69.5 108.0,70.5 108.6,71.5 109.2,72.5 109.7,73.5 110.4,74.5 111.1,75.5 111.8,76.5 112.5,77.5 113.1,78.5 113.8,79.5 114.4,80.5 115.1,81.5 115.7,82.5 116.3,83.5 116.9,84.5 117.5,85.5 118.1,86.5 118.6,87.5 119.1,88.5 119.5,89.5 119.9,90.5 120.3,91.5 120.6,92.5 121.0,93.5 121.4,94.5 121.7,95.5 122.0,96.5 122.4,97.5 122.7,98.5 122.9,99.5 123.1,100.5 123.3,101.5 123.4,102.5 123.6,103.5 123.7,104.5 123.9,105.5 124.0,106.5 124.2,107.5 124.3,108.5 124.4,109.5 124.5,110.0 133.7,110.0 133.8,109.5 133.9,108.5 134.0,107.5 134.2,106.5 134.3,105.5 134.5,104.5 134.6,103.5 134.8,102.5 134.9,101.5 135.1,100.5 135.3,99.5 135.5,98.5 135.8,97.5 136.2,96.5 136.5,95.5 136.8,94.5 137.2,93.5 137.6,92.5 137.9,91.5 138.3,90.5 138.7,89.5 139.1,88.5 139.6,87.5 140.1,86.5 140.7,85.5 141.3,84.5 141.9,83.5 142.5,82.5 143.1,81.5 143.8,80.5 144.4,79.5 145.1,78.5 145.7,77.5 146.4,76.5 147.1,75.5 147.8,74.5 148.5,73.5 149.0,72.5 149.6,71.5 150.2,70.5 150.9,69.5 151.7,68.5 152.6,67.5 153.4,66.5 154.3,65.5 155.3,64.5 156.2,63.5 157.2,62.5 158.6,61.5 161.2,60.5 164.5,59.5 164.5,58.5Z" fill="#1f788c"/>
<path d="M96.2,58.5 96.2,59.5 99.4,60.5 101.8,61.5 103.2,62.5 104.2,63.5 105.1,64.5 106.1,65.5 107.0,66.5 107.8,67.5 108.7,68.5 109.5,69.5 110.3,70.5 111.0,71.5 111.7,72.5 112.3,73.5 112.9,74.5 113.5,75.5 114.2,76.5 114.8,77.5 115.4,78.5 115.9,79.5 116.5,80.5 117.1,81.5 117.7,82.5 118.2,83.5 118.8,84.5 119.4,85.5 119.9,86.5 120.3,87.5 120.7,88.5 121.0,89.5 121.3,90.5 121.6,91.5 121.9,92.5 122.2,93.5 122.5,94.5 122.8,95.5 123.1,96.5 123.4,97.5 123.6,98.5 123.8,99.5 124.0,100.5 124.1,101.5 124.2,102.5 124.3,103.5 124.5,104.5 124.6,105.5 124.7,106.5 124.8,107.5 124.9,108.5 125.1,109.5 125.1,110.0 133.1,110.0 133.1,109.5 133.3,108.5 133.4,107.5 133.5,106.5 133.6,105.5 133.7,104.5 133.9,103.5 134.0,102.5 134.1,101.5 134.2,100.5 134.4,99.5 134.6,98.5 134.8,97.5 135.1,96.5 135.4,95.5 135.7,94.5 136.0,93.5 136.3,92.5 136.6,91.5 136.9,90.5 137.2,89.5 137.5,88.5 137.9,87.5 138.3,86.5 138.8,85.5 139.4,84.5 140.0,83.5 140.5,82.5 141.1,81.5 141.7,80.5 142.3,79.5 142.8,78.5 143.4,77.5 144.0,76.5 144.7,75.5 145.3,74.5 145.9,73.5 146.5,72.5 147.2,71.5 147.9,70.5 148.7,69.5 149.5,68.5 150.4,67.5 151.2,66.5 152.1,65.5 153.1,64.5 154.0,63.5 155.0,62.5 156.4,61.5 158.8,60.5 162.0,59.5 162.0,58.5Z" fill="#1f7f8c"/>
<path d="M98.2,58.5 98.2,59.5 101.2,60.5 103.6,61.5 105.0,62.5 105.9,63.5 106.9,64.5 107.8,65.5 108.6,66.5 109.5,67.5 110.3,68.5 111.1,69.5 111.9,70.5 112.7,71.5 113.4,72.5 114.1,73.5 114.7,74.5 115.3,75.5 115.8,76.5 116.4,77.5 116.9,78.5 117.5,79.5 118.0,80.5 118.5,81.5 119.1,82.5 119.6,83.5 120.1,84.5 120.6,85.5 121.1,86.5 121.5,87.5 121.8,88.5 122.1,89.5 122.3,90.5 122.6,91.5 122.9,92.5 123.1,93.5 123.4,94.5 123.6,95.5 123.8,96.5 124.1,97.5 124.3,98.5 124.5,99.5 124.6,100.5 124.7,101.5 124.8,102.5 124.9,103.5 125.0,104.5 125.1,105.5 125.2,106.5 125.4,107.5 125.5,108.5 125.6,109.5 125.6,110.0 132.6,110.0 132.6,109.5 132.7,108.5 132.8,107.5 133.0,106.5 133.1,105.5 133.2,104.5 133.3,103.5 133.4,102.5 133.5,101.5 133.6,100.5 133.7,99.5 133.9,98.5 134.1,97.5 134.4,96.5 134.6,95.5 134.8,94.5 135.1,93.5 135.3,92.5 135.6,91.5 135.9,90.5 136.1,89.5 136.4,88.5 136.7,87.5 137.1,86.5 137.6,85.5 138.1,84.5 138.6,83.5 139.1,82.5 139.7,81.5 140.2,80.5 140.7,79.5 141.3,78.5 141.8,77.5 142.4,76.5 142.9,75.5 143.5,74.5 144.1,73.5 144.8,72.5 145.5,71.5 146.3,70.5 147.1,69.5 147.9,68.5 148.7,67.5 149.6,66.5 150.4,65.5 151.3,64.5 152.3,63.5 153.2,62.5 154.6,61.5 157.0,60.5 160.0,59.5 160.0,58.5Z" fill="#1f868b"/>
<path d="M99.9,58.5 99.9,59.5 102.8,60.5 105.1,61.5 106.5,62.5 107.4,63.5 108.3,64.5 109.2,65.5 110.0,66.5 110.8,67.5 111.7,68.5 112.5,69.5 113.3,70.5 114.0,71.5 114.8,72.5 115.5,73.5 116.0,74.5 116.6,75.5 117.1,76.5 117.6,77.5 118.1,78.5 118.6,79.5 119.1,80.5 119.6,81.5 120.1,82.5 120.6,83.5 121.1,84.5 121.5,85.5 122.0,86.5 122.4,87.5 122.6,88.5 122.9,89.5 123.1,90.5 123.3,91.5 123.6,92.5 123.8,93.5 124.0,94.5 124.2,95.5 124.4,96.5 124.6,97.5 124.8,98.5 125.0,99.5 125.1,100.5 125.2,101.5 125.3,102.5 125.4,103.5 125.5,104.5 125.6,105.5 125.7,106.5 125.8,107.5 125.9,108.5 126.0,109.5 126.1,110.0 132.1,110.0 132.2,109.5 132.3,108.5 132.4,107.5 132.5,106.5 132.6,105.5 132.7,104.5 132.8,103.5 132.9,102.5 133.0,101.5 133.1,100.5 133.2,99.5 133.4,98.5 133.6,97.5 133.8,96.5 134.0,95.5 134.2,94.5 134.4,93.5 134.6,92.5 134.9,91.5 135.1,90.5 135.3,89.5 135.6,88.5 135.8,87.5 136.2,86.5 136.7,85.5 137.1,84.5 137.6,83.5 138.1,82.5 138.6,81.5 139.1,80.5 139.6,79.5 140.1,78.5 140.6,77.5 141.1,76.5 141.6,75.5 142.2,74.5 142.7,73.5 143.4,72.5 144.2,71.5 144.9,70.5 145.7,69.5 146.5,68.5 147.4,67.5 148.2,66.5 149.0,65.5 149.9,64.5 150.8,63.5 151.7,62.5 153.1,61.5 155.4,60.5 158.3,59.5 158.3,58.5Z" fill="#218c88"/>
<path d="M101.4,58.5 101.4,59.5 104.2,60.5 106.4,61.5 107.8,62.5 108.7,63.5 109.5,64.5 110.4,65.5 111.2,66.5 112.0,67.5 112.8,68.5 113.6,69.5 114.4,70.5 115.2,71.5 115.9,72.5 116.6,73.5 117.1,74.5 117.6,75.5 118.1,76.5 118.6,77.5 119.1,78.5 119.6,79.5 120.0,80.5 120.5,81.5 121.0,82.5 121.4,83.5 121.9,84.5 122.3,85.5 122.7,86.5 123.1,87.5 123.3,88.5 123.5,89.5 123.7,90.5 123.9,91.5 124.1,92.5 124.4,93.5 124.6,94.5 124.7,95.5 124.9,96.5 125.1,97.5 125.3,98.5 125.5,99.5 125.6,100.5 125.7,101.5 125.7,102.5 125.8,103.5 125.9,104.5 126.0,105.5 126.1,106.5 126.2,107.5 126.3,108.5 126.4,109.5 126.5,110.0 131.7,110.0 131.8,109.5 131.9,108.5 132.0,107.5 132.1,106.5 132.2,105.5 132.3,104.5 132.4,103.5 132.5,102.5 132.5,101.5 132.6,100.5 132.7,99.5 132.9,98.5 133.1,97.5 133.3,96.5 133.5,95.5 133.6,94.5 133.8,93.5 134.1,92.5 134.3,91.5 134.5,90.5 134.7,89.5 134.9,88.5 135.1,87.5 135.5,86.5 135.9,85.5 136.3,84.5 136.8,83.5 137.2,82.5 137.7,81.5 138.2,80.5 138.6,79.5 139.1,78.5 139.6,77.5 140.1,76.5 140.6,75.5 141.1,74.5 141.6,73.5 142.3,72.5 143.0,71.5 143.8,70.5 144.6,69.5 145.4,68.5 146.2,67.5 147.0,66.5 147.8,65.5 148.7,64.5 149.5,63.5 150.4,62.5 151.8,61.5 154.0,60.5 156.8,59.5 156.8,58.5Z" fill="#269083"/>
<path d="M102.8,58.5 102.8,59.5 105.4,60.5 107.6,61.5 109.0,62.5 109.8,63.5 110.6,64.5 111.5,65.5 112.3,66.5 113.1,67.5 113.9,68.5 114.6,69.5 115.4,70.5 116.1,71.5 116.9,72.5 117.6,73.5 118.1,74.5 118.6,75.5 119.0,76.5 119.5,77.5 119.9,78.5 120.4,79.5 120.8,80.5 121.3,81.5 121.7,82.5 122.1,83.5 122.6,84.5 123.0,85.5 123.4,86.5 123.7,87.5 123.9,88.5 124.1,89.5 124.3,90.5 124.5,91.5 124.7,92.5 124.9,93.5 125.0,94.5 125.2,95.5 125.4,96.5 125.6,97.5 125.7,98.5 125.9,99.5 126.0,100.5 126.1,101.5 126.2,102.5 126.3,103.5 126.4,104.5 126.5,105.5 126.5,106.5 126.6,107.5 126.7,108.5 126.8,109.5 126.9,110.0 131.3,110.0 131.4,109.5 131.5,108.5 131.6,107.5 131.7,106.5 131.7,105.5 131.8,104.5 131.9,103.5 132.0,102.5 132.1,101.5 132.2,100.5 132.3,99.5 132.5,98.5 132.6,97.5 132.8,96.5 133.0,95.5 133.2,94.5 133.3,93.5 133.5,92.5 133.7,91.5 133.9,90.5 134.1,89.5 134.3,88.5 134.5,87.5 134.8,86.5 135.2,85.5 135.6,84.5 136.1,83.5 136.5,82.5 136.9,81.5 137.4,80.5 137.8,79.5 138.3,78.5 138.7,77.5 139.2,76.5 139.6,75.5 140.1,74.5 140.6,73.5 141.3,72.5 142.1,71.5 142.8,70.5 143.6,69.5 144.3,68.5 145.1,67.5 145.9,66.5 146.7,65.5 147.6,64.5 148.4,63.5 149.2,62.5 150.6,61.5 152.8,60.5 155.4,59.5 155.4,58.5Z" fill="#2a947e"/>
<path d="M104.0,58.5 104.0,59.5 106.6,60.5 108.7,61.5 110.0,62.5 110.8,63.5 111.7,64.5 112.5,65.5 113.2,66.5 114.0,67.5 114.8,68.5 115.5,69.5 116.3,70.5 117.0,71.5 117.8,72.5 118.5,73.5 118.9,74.5 119.4,75.5 119.8,76.5 120.3,77.5 120.7,78.5 121.1,79.5 121.5,80.5 122.0,81.5 122.4,82.5 122.8,83.5 123.2,84.5 123.6,85.5 124.0,86.5 124.3,87.5 124.4,88.5 124.6,89.5 124.8,90.5 125.0,91.5 125.2,92.5 125.3,93.5 125.5,94.5 125.7,95.5 125.8,96.5 126.0,97.5 126.2,98.5 126.3,99.5 126.4,100.5 126.5,101.5 126.6,102.5 126.7,103.5 126.8,104.5 126.9,105.5 127.0,106.5 127.1,107.5 127.2,108.5 127.3,109.5 127.3,110.0 130.9,110.0 130.9,109.5 131.0,108.5 131.1,107.5 131.2,106.5 131.3,105.5 131.4,104.5 131.5,103.5 131.6,102.5 131.7,101.5 131.8,100.5 131.9,99.5 132.0,98.5 132.2,97.5 132.4,96.5 132.5,95.5 132.7,94.5 132.9,93.5 133.0,92.5 133.2,91.5 133.4,90.5 133.6,89.5 133.8,88.5 133.9,87.5 134.2,86.5 134.6,85.5 135.0,84.5 135.4,83.5 135.8,82.5 136.2,81.5 136.7,80.5 137.1,79.5 137.5,78.5 137.9,77.5 138.4,76.5 138.8,75.5 139.3,74.5 139.7,73.5 140.4,72.5 141.2,71.5 141.9,70.5 142.7,69.5 143.4,68.5 144.2,67.5 145.0,66.5 145.7,65.5 146.5,64.5 147.4,63.5 148.2,62.5 149.5,61.5 151.6,60.5 154.2,59.5 154.2,58.5Z" fill="#3b9871"/>
<path d="M105.2,58.5 105.2,59.5 107.7,60.5 109.7,61.5 111.0,62.5 111.8,63.5 112.6,64.5 113.4,65.5 114.1,66.5 114.9,67.5 115.7,68.5 116.4,69.5 117.1,70.5 117.8,71.5 118.6,72.5 119.3,73.5 119.7,74.5 120.1,75.5 120.5,76.5 121.0,77.5 121.4,78.5 121.8,79.5 122.2,80.5 122.6,81.5 123.0,82.5 123.4,83.5 123.8,84.5 124.2,85.5 124.5,86.5 124.8,87.5 125.0,88.5 125.1,89.5 125.3,90.5 125.5,91.5 125.6,92.5 125.8,93.5 126.0,94.5 126.1,95.5 126.3,96.5 126.4,97.5 126.6,98.5 126.7,99.5 126.8,100.5 126.9,101.5 127.0,102.5 127.1,103.5 127.2,104.5 127.3,105.5 127.4,106.5 127.5,107.5 127.6,108.5 127.8,109.5 127.8,110.0 130.4,110.0 130.4,109.5 130.6,108.5 130.7,107.5 130.8,106.5 130.9,105.5 131.0,104.5 131.1,103.5 131.2,102.5 131.3,101.5 131.4,100.5 131.5,99.5 131.6,98.5 131.8,97.5 131.9,96.5 132.1,95.5 132.2,94.5 132.4,93.5 132.6,92.5 132.7,91.5 132.9,90.5 133.1,89.5 133.2,88.5 133.4,87.5 133.7,86.5 134.0,85.5 134.4,84.5 134.8,83.5 135.2,82.5 135.6,81.5 136.0,80.5 136.4,79.5 136.8,78.5 137.2,77.5 137.7,76.5 138.1,75.5 138.5,74.5 138.9,73.5 139.6,72.5 140.4,71.5 141.1,70.5 141.8,69.5 142.5,68.5 143.3,67.5 144.1,66.5 144.8,65.5 145.6,64.5 146.4,63.5 147.2,62.5 148.5,61.5 150.5,60.5 153.0,59.5 153.0,58.5Z" fill="#4c9c64"/>
<path d="M106.3,58.5 106.3,59.5 108.7,60.5 110.6,61.5 111.9,62.5 112.7,63.5 113.5,64.5 114.3,65.5 115.0,66.5 115.7,67.5 116.5,68.5 117.2,69.5 117.9,70.5 118.6,71.5 119.3,72.5 120.0,73.5 120.4,74.5 120.8,75.5 121.2,76.5 121.6,77.5 122.0,78.5 122.4,79.5 122.8,80.5 123.2,81.5 123.6,82.5 124.0,83.5 124.3,84.5 124.7,85.5 125.1,86.5 125.3,87.5 125.5,88.5 125.6,89.5 125.8,90.5 126.0,91.5 126.1,92.5 126.3,93.5 126.4,94.5 126.6,95.5 126.7,96.5 126.8,97.5 127.0,98.5 127.1,99.5 127.2,100.5 127.3,101.5 127.4,102.5 127.5,103.5 127.7,104.5 127.8,105.5 127.9,106.5 128.1,107.5 128.2,108.5 128.4,109.5 128.6,110.0 129.6,110.0 129.8,109.5 130.0,108.5 130.1,107.5 130.3,106.5 130.4,105.5 130.5,104.5 130.7,103.5 130.8,102.5 130.9,101.5 131.0,100.5 131.1,99.5 131.2,98.5 131.4,97.5 131.5,96.5 131.6,95.5 131.8,94.5 131.9,93.5 132.1,92.5 132.2,91.5 132.4,90.5 132.6,89.5 132.7,88.5 132.9,87.5 133.1,86.5 133.5,85.5 133.9,84.5 134.2,83.5 134.6,82.5 135.0,81.5 135.4,80.5 135.8,79.5 136.2,78.5 136.6,77.5 137.0,76.5 137.4,75.5 137.8,74.5 138.2,73.5 138.9,72.5 139.6,71.5 140.3,70.5 141.0,69.5 141.7,68.5 142.5,67.5 143.2,66.5 143.9,65.5 144.7,64.5 145.5,63.5 146.3,62.5 147.6,61.5 149.5,60.5 151.9,59.5 151.9,58.5Z" fill="#629f57"/>
<path d="M107.3,58.5 107.3,59.5 109.6,60.5 111.6,61.5 112.8,62.5 113.6,63.5 114.3,64.5 115.1,65.5 115.8,66.5 116.5,67.5 117.2,68.5 117.9,69.5 118.6,70.5 119.3,71.5 120.0,72.5 120.7,73.5 121.1,74.5 121.5,75.5 121.9,76.5 122.3,77.5 122.6,78.5 123.0,79.5 123.4,80.5 123.8,81.5 124.2,82.5 124.5,83.5 124.9,84.5 125.2,85.5 125.6,86.5 125.8,87.5 126.0,88.5 126.2,89.5 126.3,90.5 126.5,91.5 126.6,92.5 126.7,93.5 126.9,94.5 127.0,95.5 127.2,96.5 127.3,97.5 127.4,98.5 127.6,99.5 127.7,100.5 127.8,101.5 128.0,102.5 128.1,103.5 128.3,104.5 128.5,105.5 128.9,106.5 129.3,106.5 129.7,105.5 129.9,104.5 130.1,103.5 130.2,102.5 130.4,101.5 130.5,100.5 130.6,99.5 130.8,98.5 130.9,97.5 131.0,96.5 131.2,95.5 131.3,94.5 131.5,93.5 131.6,92.5 131.7,91.5 131.9,90.5 132.0,89.5 132.2,88.5 132.4,87.5 132.6,86.5 133.0,85.5 133.3,84.5 133.7,83.5 134.0,82.5 134.4,81.5 134.8,80.5 135.2,79.5 135.6,78.5 135.9,77.5 136.3,76.5 136.7,75.5 137.1,74.5 137.5,73.5 138.2,72.5 138.9,71.5 139.6,70.5 140.3,69.5 141.0,68.5 141.7,67.5 142.4,66.5 143.1,65.5 143.9,64.5 144.6,63.5 145.4,62.5 146.6,61.5 148.6,60.5 150.9,59.5 150.9,58.5Z" fill="#7da24a"/>
<path d="M108.3,58.5 108.3,59.5 110.6,60.5 112.4,61.5 113.7,62.5 114.4,63.5 115.2,64.5 115.9,65.5 116.6,66.5 117.3,67.5 118.0,68.5 118.7,69.5 119.3,70.5 120.0,71.5 120.7,72.5 121.3,73.5 121.7,74.5 122.1,75.5 122.5,76.5 122.9,77.5 123.3,78.5 123.6,79.5 124.0,80.5 124.4,81.5 124.7,82.5 125.1,83.5 125.4,84.5 125.8,85.5 126.1,86.5 126.4,87.5 126.5,88.5 126.7,89.5 126.8,90.5 127.0,91.5 127.1,92.5 127.3,93.5 127.4,94.5 127.6,95.5 127.7,96.5 127.9,97.5 128.0,98.5 128.2,99.5 128.4,100.5 128.6,101.5 129.6,101.5 129.8,100.5 130.0,99.5 130.2,98.5 130.3,97.5 130.5,96.5 130.6,95.5 130.8,94.5 130.9,93.5 131.1,92.5 131.2,91.5 131.4,90.5 131.5,89.5 131.7,88.5 131.8,87.5 132.1,86.5 132.4,85.5 132.8,84.5 133.1,83.5 133.5,82.5 133.8,81.5 134.2,80.5 134.6,79.5 134.9,78.5 135.3,77.5 135.7,76.5 136.1,75.5 136.5,74.5 136.9,73.5 137.5,72.5 138.2,71.5 138.9,70.5 139.5,69.5 140.2,68.5 140.9,67.5 141.6,66.5 142.3,65.5 143.0,64.5 143.8,63.5 144.5,62.5 145.8,61.5 147.6,60.5 149.9,59.5 149.9,58.5Z" fill="#98a43c"/>
<path d="M109.3,58.5 109.3,59.5 111.5,60.5 113.3,61.5 114.5,62.5 115.2,63.5 116.0,64.5 116.7,65.5 117.4,66.5 118.0,67.5 118.7,68.5 119.4,69.5 120.0,70.5 120.7,71.5 121.3,72.5 122.0,73.5 122.3,74.5 122.7,75.5 123.1,76.5 123.5,77.5 123.9,78.5 124.2,79.5 124.6,80.5 125.0,81.5 125.3,82.5 125.7,83.5 126.0,84.5 126.4,85.5 126.8,86.5 127.0,87.5 127.2,88.5 127.3,89.5 127.5,90.5 127.6,91.5 127.8,92.5 128.0,93.5 128.2,94.5 128.4,95.5 128.6,96.5 129.6,96.5 129.8,95.5 130.0,94.5 130.2,93.5 130.4,92.5 130.6,91.5 130.7,90.5 130.9,89.5 131.0,88.5 131.2,87.5 131.4,86.5 131.8,85.5 132.2,84.5 132.5,83.5 132.9,82.5 133.2,81.5 133.6,80.5 134.0,79.5 134.3,78.5 134.7,77.5 135.1,76.5 135.5,75.5 135.9,74.5 136.2,73.5 136.9,72.5 137.5,71.5 138.2,70.5 138.8,69.5 139.5,68.5 140.2,67.5 140.8,66.5 141.5,65.5 142.2,64.5 143.0,63.5 143.7,62.5 144.9,61.5 146.7,60.5 148.9,59.5 148.9,58.5Z" fill="#ada436"/>
<path d="M110.3,58.5 110.3,59.5 112.4,60.5 114.1,61.5 115.3,62.5 116.0,63.5 116.7,64.5 117.4,65.5 118.1,66.5 118.8,67.5 119.4,68.5 120.1,69.5 120.7,70.5 121.4,71.5 122.0,72.5 122.6,73.5 123.0,74.5 123.4,75.5 123.7,76.5 124.1,77.5 124.5,78.5 124.8,79.5 125.2,80.5 125.6,81.5 125.9,82.5 126.3,83.5 126.7,84.5 127.1,85.5 127.5,86.5 127.8,87.5 128.0,88.5 128.2,89.5 128.5,90.5 129.7,90.5 130.0,89.5 130.2,88.5 130.4,87.5 130.7,86.5 131.1,85.5 131.5,84.5 131.9,83.5 132.3,82.5 132.6,81.5 133.0,80.5 133.4,79.5 133.7,78.5 134.1,77.5 134.5,76.5 134.8,75.5 135.2,74.5 135.6,73.5 136.2,72.5 136.8,71.5 137.5,70.5 138.1,69.5 138.8,68.5 139.4,67.5 140.1,66.5 140.8,65.5 141.5,64.5 142.2,63.5 142.9,62.5 144.1,61.5 145.8,60.5 147.9,59.5 147.9,58.5Z" fill="#c2a431"/>
<path d="M111.2,58.5 111.2,59.5 113.2,60.5 115.0,61.5 116.1,62.5 116.8,63.5 117.5,64.5 118.2,65.5 118.9,66.5 119.5,67.5 120.2,68.5 120.8,69.5 121.4,70.5 122.0,71.5 122.6,72.5 123.2,73.5 123.6,74.5 124.0,75.5 124.4,76.5 124.7,77.5 125.1,78.5 125.5,79.5 125.9,80.5 126.3,81.5 126.7,82.5 127.1,83.5 127.5,84.5 128.1,85.5 130.1,85.5 130.7,84.5 131.1,83.5 131.5,82.5 131.9,81.5 132.3,80.5 132.7,79.5 133.1,78.5 133.5,77.5 133.8,76.5 134.2,75.5 134.6,74.5 135.0,73.5 135.6,72.5 136.2,71.5 136.8,70.5 137.4,69.5 138.0,68.5 138.7,67.5 139.3,66.5 140.0,65.5 140.7,64.5 141.4,63.5 142.1,62.5 143.2,61.5 145.0,60.5 147.0,59.5 147.0,58.5Z" fill="#d3a42c"/>
<path d="M112.1,58.5 112.1,59.5 114.1,60.5 115.8,61.5 116.9,62.5 117.6,63.5 118.3,64.5 119.0,65.5 119.6,66.5 120.2,67.5 120.9,68.5 121.5,69.5 122.1,70.5 122.7,71.5 123.3,72.5 123.9,73.5 124.3,74.5 124.7,75.5 125.0,76.5 125.4,77.5 125.8,78.5 126.2,79.5 126.6,80.5 127.1,81.5 127.6,82.5 128.2,83.5 130.0,83.5 130.6,82.5 131.1,81.5 131.6,80.5 132.0,79.5 132.4,78.5 132.8,77.5 133.2,76.5 133.5,75.5 133.9,74.5 134.3,73.5 134.9,72.5 135.5,71.5 136.1,70.5 136.7,69.5 137.3,68.5 138.0,67.5 138.6,66.5 139.2,65.5 139.9,64.5 140.6,63.5 141.3,62.5 142.4,61.5 144.1,60.5 146.1,59.5 146.1,58.5Z" fill="#e0a527"/>
<path d="M113.0,58.5 113.0,59.5 115.0,60.5 116.6,61.5 117.7,62.5 118.4,63.5 119.1,64.5 119.7,65.5 120.4,66.5 121.0,67.5 121.6,68.5 122.2,69.5 122.8,70.5 123.4,71.5 124.0,72.5 124.6,73.5 125.0,74.5 125.4,75.5 125.8,76.5 126.2,77.5 126.7,78.5 127.1,79.5 127.7,80.5 128.5,81.5 129.7,81.5 130.5,80.5 131.1,79.5 131.5,78.5 132.0,77.5 132.4,76.5 132.8,75.5 133.2,74.5 133.6,73.5 134.2,72.5 134.8,71.5 135.4,70.5 136.0,69.5 136.6,68.5 137.2,67.5 137.8,66.5 138.5,65.5 139.1,64.5 139.8,63.5 140.5,62.5 141.6,61.5 143.2,60.5 145.2,59.5 145.2,58.5Z" fill="#eea522"/>
<path d="M113.9,58.5 113.9,59.5 115.8,60.5 117.4,61.5 118.6,62.5 119.2,63.5 119.9,64.5 120.5,65.5 121.1,66.5 121.8,67.5 122.4,68.5 123.0,69.5 123.6,70.5 124.2,71.5 124.8,72.5 125.3,73.5 125.8,74.5 126.2,75.5 126.7,76.5 127.2,77.5 127.8,78.5 130.4,78.5 131.0,77.5 131.5,76.5 132.0,75.5 132.4,74.5 132.9,73.5 133.4,72.5 134.0,71.5 134.6,70.5 135.2,69.5 135.8,68.5 136.4,67.5 137.1,66.5 137.7,65.5 138.3,64.5 139.0,63.5 139.6,62.5 140.8,61.5 142.4,60.5 144.3,59.5 144.3,58.5Z" fill="#ec9d24"/>
<path d="M114.8,58.5 114.8,59.5 116.7,60.5 118.3,61.5 119.4,62.5 120.0,63.5 120.7,64.5 121.3,65.5 122.0,66.5 122.6,67.5 123.2,68.5 123.8,69.5 124.4,70.5 125.0,71.5 125.6,72.5 126.2,73.5 126.7,74.5 127.3,75.5 128.1,76.5 130.1,76.5 130.9,75.5 131.5,74.5 132.0,73.5 132.6,72.5 133.2,71.5 133.8,70.5 134.4,69.5 135.0,68.5 135.6,67.5 136.2,66.5 136.9,65.5 137.5,64.5 138.2,63.5 138.8,62.5 139.9,61.5 141.5,60.5 143.4,59.5 143.4,58.5Z" fill="#eb9425"/>
<path d="M115.8,58.5 115.8,59.5 117.6,60.5 119.2,61.5 120.2,62.5 120.9,63.5 121.5,64.5 122.2,65.5 122.8,66.5 123.4,67.5 124.1,68.5 124.7,69.5 125.3,70.5 126.0,71.5 126.7,72.5 127.5,73.5 128.5,74.5 129.7,74.5 130.7,73.5 131.5,72.5 132.2,71.5 132.9,70.5 133.5,69.5 134.1,68.5 134.8,67.5 135.4,66.5 136.0,65.5 136.7,64.5 137.3,63.5 138.0,62.5 139.0,61.5 140.6,60.5 142.4,59.5 142.4,58.5Z" fill="#e98b27"/>
<path d="M116.7,58.5 116.7,59.5 118.5,60.5 120.1,61.5 121.1,62.5 121.8,63.5 122.5,64.5 123.1,65.5 123.8,66.5 124.4,67.5 125.1,68.5 125.8,69.5 126.5,70.5 127.4,71.5 130.8,71.5 131.7,70.5 132.4,69.5 133.1,68.5 133.8,67.5 134.4,66.5 135.1,65.5 135.7,64.5 136.4,63.5 137.1,62.5 138.1,61.5 139.7,60.5 141.5,59.5 141.5,58.5Z" fill="#e68228"/>
<path d="M117.7,58.5 117.7,59.5 119.5,60.5 121.0,61.5 122.1,62.5 122.8,63.5 123.5,64.5 124.1,65.5 124.8,66.5 125.6,67.5 126.4,68.5 127.3,69.5 130.9,69.5 131.8,68.5 132.6,67.5 133.4,66.5 134.1,65.5 134.7,64.5 135.4,63.5 136.1,62.5 137.2,61.5 138.7,60.5 140.5,59.5 140.5,58.5Z" fill="#e4782a"/>
<path d="M118.7,58.5 118.7,59.5 120.5,60.5 122.0,61.5 123.2,62.5 123.9,63.5 124.6,64.5 125.4,65.5 126.3,66.5 127.3,67.5 130.9,67.5 131.9,66.5 132.8,65.5 133.6,64.5 134.3,63.5 135.0,62.5 136.2,61.5 137.7,60.5 139.5,59.5 139.5,58.5Z" fill="#e16f2b"/>
<path d="M119.8,58.5 119.8,59.5 121.6,60.5 123.2,61.5 124.4,62.5 125.2,63.5 126.1,64.5 127.3,65.5 130.9,65.5 132.1,64.5 133.0,63.5 133.8,62.5 135.0,61.5 136.6,60.5 138.4,59.5 138.4,58.5Z" fill="#de662c"/>
<path d="M121.0,58.5 121.0,59.5 122.8,60.5 124.6,61.5 126.1,62.5 127.3,63.5 130.9,63.5 132.1,62.5 133.6,61.5 135.4,60.5 137.2,59.5 137.2,58.5Z" fill="#da5e2e"/>
<path d="M122.3,58.5 122.3,59.5 124.3,60.5 126.5,61.5 131.7,61.5 133.9,60.5 135.9,59.5 135.9,58.5Z" fill="#d7562f"/>
<path d="M123.9,58.5 123.9,59.5 126.3,60.5 131.9,60.5 134.3,59.5 134.3,58.5Z" fill="#d34e30"/>
<path d="M126.1,58.5 126.1,59.5 132.1,59.5 132.1,58.5Z" fill="#cf4735"/>
<linearGradient id="bg7" x1="0" y1="0" x2="0" y2="1"><stop offset="0.0000" stop-color="#265a86"/><stop offset="0.0092" stop-color="#265986"/><stop offset="0.0184" stop-color="#265986"/><stop offset="0.0276" stop-color="#265986"/><stop offset="0.0369" stop-color="#265986"/><stop offset="0.0461" stop-color="#265986"/><stop offset="0.0553" stop-color="#265886"/><stop offset="0.0645" stop-color="#265886"/><stop offset="0.0737" stop-color="#265885"/><stop offset="0.0829" stop-color="#265885"/><stop offset="0.0922" stop-color="#265785"/><stop offset="0.1014" stop-color="#265785"/><stop offset="0.1106" stop-color="#265785"/><stop offset="0.1198" stop-color="#265785"/><stop offset="0.1290" stop-color="#265685"/><stop offset="0.1382" stop-color="#265685"/><stop offset="0.1475" stop-color="#265685"/><stop offset="0.1567" stop-color="#265685"/><stop offset="0.1659" stop-color="#265584"/><stop offset="0.1751" stop-color="#265584"/><stop offset="0.1843" stop-color="#265584"/><stop offset="0.1935" stop-color="#265584"/><stop offset="0.2028" stop-color="#265484"/><stop offset="0.2120" stop-color="#275484"/><stop offset="0.2212" stop-color="#275484"/><stop offset="0.2304" stop-color="#275484"/><stop offset="0.2396" stop-color="#275484"/><stop offset="0.2488" stop-color="#275384"/><stop offset="0.2581" stop-color="#275383"/><stop offset="0.2673" stop-color="#275383"/><stop offset="0.2765" stop-color="#275383"/><stop offset="0.2857" stop-color="#275383"/><stop offset="0.2949" stop-color="#275283"/><stop offset="0.3041" stop-color="#275283"/><stop offset="0.3134" stop-color="#275283"/><stop offset="0.3226" stop-color="#275283"/><stop offset="0.3318" stop-color="#275283"/><stop offset="0.3410" stop-color="#275183"/><stop offset="0.3502" stop-color="#275183"/><stop offset="0.3594" stop-color="#275183"/><stop offset="0.3687" stop-color="#275182"/><stop offset="0.3779" stop-color="#275182"/><stop offset="0.3871" stop-color="#275082"/><stop offset="0.3963" stop-color="#275082"/><stop offset="0.4055" stop-color="#275082"/><stop offset="0.4147" stop-color="#275082"/><stop offset="0.4240" stop-color="#275082"/><stop offset="0.4332" stop-color="#274f82"/><stop offset="0.4424" stop-color="#274f82"/><stop offset="0.4516" stop-color="#274f82"/><stop offset="0.4608" stop-color="#274f82"/><stop offset="0.4700" stop-color="#274f82"/><stop offset="0.4793" stop-color="#274f81"/><stop offset="0.4885" stop-color="#274e81"/><stop offset="0.4977" stop-color="#274e81"/><stop offset="0.5069" stop-color="#284e81"/><stop offset="0.5161" stop-color="#284e81"/><stop offset="0.5253" stop-color="#284e81"/><stop offset="0.5346" stop-color="#284e81"/><stop offset="0.5438" stop-color="#284e81"/><stop offset="0.5530" stop-color="#284e81"/><stop offset="0.5622" stop-color="#284d81"/><stop offset="0.5714" stop-color="#284d81"/><stop offset="0.5806" stop-color="#284d81"/><stop offset="0.5899" stop-color="#284d81"/><stop offset="0.5991" stop-color="#284d81"/><stop offset="0.6083" stop-color="#284d81"/><stop offset="0.6175" stop-color="#284d81"/><stop offset="0.6267" stop-color="#284d81"/><stop offset="0.6359" stop-color="#284c81"/><stop offset="0.6452" stop-color="#284c81"/><stop offset="0.6544" stop-color="#284c80"/><stop offset="0.6636" stop-color="#284c80"/><stop offset="0.6728" stop-color="#284c80"/><stop offset="0.6820" stop-color="#284c80"/><stop offset="0.6912" stop-color="#284c80"/><stop offset="0.7005" stop-color="#284c80"/><stop offset="0.7097" stop-color="#284b80"/><stop offset="0.7189" stop-color="#284b80"/><stop offset="0.7281" stop-color="#284b80"/><stop offset="0.7373" stop-color="#284b80"/><stop offset="0.7465" stop-color="#284b80"/><stop offset="0.7558" stop-color="#284b80"/><stop offset="0.7650" stop-color="#284b80"/><stop offset="0.7742" stop-color="#284b80"/><stop offset="0.7834" stop-color="#284a80"/><stop offset="0.7926" stop-color="#284a80"/><stop offset="0.8018" stop-color="#284a7f"/><stop offset="0.8111" stop-color="#284a7f"/><stop offset="0.8203" stop-color="#284a7f"/><stop offset="0.8295" stop-color="#284a7f"/><stop offset="0.8387" stop-color="#284a7f"/><stop offset="0.8479" stop-color="#284a7f"/><stop offset="0.8571" stop-color="#28497f"/><stop offset="0.8664" stop-color="#28497f"/><stop offset="0.8756" stop-color="#28497f"/><stop offset="0.8848" stop-color="#28497f"/><stop offset="0.8940" stop-color="#28497f"/><stop offset="0.9032" stop-color="#28497f"/><stop offset="0.9124" stop-color="#28497f"/><stop offset="0.9217" stop-color="#28497f"/><stop offset="0.9309" stop-color="#28497e"/><stop offset="0.9401" stop-color="#28487e"/><stop offset="0.9493" stop-color="#28487e"/><stop offset="0.9585" stop-color="#28487e"/><stop offset="0.9677" stop-color="#28487e"/><stop offset="0.9770" stop-color="#28487e"/><stop offset="0.9862" stop-color="#28487e"/><stop offset="0.9954" stop-color="#28487e"/></linearGradient>
<rect x="91.5" y="110" width="75.0" height="108.5" fill="url(#bg7)"/>
<path d="M110.2,161.0 113.4,164.0 114.9,167.0 116.1,170.0 117.0,173.0 117.8,176.0 118.6,179.0 119.2,182.0 119.8,185.0 120.4,188.0 120.9,191.0 121.3,194.0 121.7,197.0 122.1,200.0 122.5,203.0 122.8,206.0 123.2,209.0 123.6,212.0 123.9,215.0 124.2,218.0 124.2,218.5 134.0,218.5 134.0,218.0 134.3,215.0 134.6,212.0 135.0,209.0 135.4,206.0 135.7,203.0 136.1,200.0 136.5,197.0 136.9,194.0 137.3,191.0 137.8,188.0 138.4,185.0 139.0,182.0 139.6,179.0 140.4,176.0 141.2,173.0 142.1,170.0 143.3,167.0 144.8,164.0 148.0,161.0Z" fill="#274f82"/>
<path d="M105.5,125.0 110.3,128.0 112.6,131.0 114.1,134.0 115.1,137.0 116.1,140.0 116.9,143.0 117.7,146.0 118.5,149.0 119.2,152.0 119.9,155.0 120.5,158.0 121.1,161.0 121.5,164.0 122.0,167.0 122.4,170.0 122.7,173.0 123.1,176.0 123.4,179.0 123.7,182.0 123.9,185.0 124.2,188.0 124.4,191.0 124.6,194.0 124.8,197.0 125.0,200.0 125.1,203.0 125.3,206.0 125.5,209.0 125.6,212.0 125.8,215.0 125.9,218.0 125.9,218.5 132.3,218.5 132.3,218.0 132.4,215.0 132.6,212.0 132.7,209.0 132.9,206.0 133.1,203.0 133.2,200.0 133.4,197.0 133.6,194.0 133.8,191.0 134.0,188.0 134.3,185.0 134.5,182.0 134.8,179.0 135.1,176.0 135.5,173.0 135.8,170.0 136.2,167.0 136.7,164.0 137.1,161.0 137.7,158.0 138.3,155.0 139.0,152.0 139.7,149.0 140.5,146.0 141.3,143.0 142.1,140.0 143.1,137.0 144.1,134.0 145.6,131.0 147.9,128.0 152.7,125.0Z" fill="#265685"/>
<path d="M111.2,110.0 112.8,113.0 114.2,116.0 115.3,119.0 116.3,122.0 117.3,125.0 118.2,128.0 119.1,131.0 119.8,134.0 120.4,137.0 121.0,140.0 121.5,143.0 122.1,146.0 122.6,149.0 123.1,152.0 123.5,155.0 123.8,158.0 124.1,161.0 124.3,164.0 124.5,167.0 124.7,170.0 124.8,173.0 125.0,176.0 125.1,179.0 125.2,182.0 125.3,185.0 125.5,188.0 125.6,191.0 125.7,194.0 125.8,197.0 126.0,200.0 126.1,203.0 126.2,206.0 126.4,209.0 126.5,212.0 126.6,215.0 126.7,218.0 126.7,218.5 131.5,218.5 131.5,218.0 131.6,215.0 131.7,212.0 131.8,209.0 132.0,206.0 132.1,203.0 132.2,200.0 132.4,197.0 132.5,194.0 132.6,191.0 132.7,188.0 132.9,185.0 133.0,182.0 133.1,179.0 133.2,176.0 133.4,173.0 133.5,170.0 133.7,167.0 133.9,164.0 134.1,161.0 134.4,158.0 134.7,155.0 135.1,152.0 135.6,149.0 136.1,146.0 136.7,143.0 137.2,140.0 137.8,137.0 138.4,134.0 139.1,131.0 140.0,128.0 140.9,125.0 141.9,122.0 142.9,119.0 144.0,116.0 145.4,113.0 147.0,110.0Z" fill="#255e88"/>
<path d="M116.3,110.0 117.5,113.0 118.6,116.0 119.5,119.0 120.3,122.0 121.1,125.0 121.9,128.0 122.6,131.0 123.1,134.0 123.5,137.0 123.8,140.0 124.1,143.0 124.3,146.0 124.6,149.0 124.8,152.0 125.0,155.0 125.2,158.0 125.3,161.0 125.4,164.0 125.5,167.0 125.6,170.0 125.7,173.0 125.8,176.0 125.9,179.0 126.0,182.0 126.1,185.0 126.2,188.0 126.3,191.0 126.4,194.0 126.5,197.0 126.6,200.0 126.8,203.0 126.9,206.0 127.0,209.0 127.1,212.0 127.2,215.0 127.3,218.0 127.3,218.5 130.9,218.5 130.9,218.0 131.0,215.0 131.1,212.0 131.2,209.0 131.3,206.0 131.4,203.0 131.6,200.0 131.7,197.0 131.8,194.0 131.9,191.0 132.0,188.0 132.1,185.0 132.2,182.0 132.3,179.0 132.4,176.0 132.5,173.0 132.6,170.0 132.7,167.0 132.8,164.0 132.9,161.0 133.0,158.0 133.2,155.0 133.4,152.0 133.6,149.0 133.9,146.0 134.1,143.0 134.4,140.0 134.7,137.0 135.1,134.0 135.6,131.0 136.3,128.0 137.1,125.0 137.9,122.0 138.7,119.0 139.6,116.0 140.7,113.0 141.9,110.0Z" fill="#236489"/>
<path d="M119.7,110.0 120.8,113.0 121.8,116.0 122.5,119.0 123.0,122.0 123.5,125.0 124.0,128.0 124.4,131.0 124.6,134.0 124.8,137.0 125.0,140.0 125.2,143.0 125.3,146.0 125.5,149.0 125.6,152.0 125.8,155.0 125.9,158.0 126.0,161.0 126.1,164.0 126.2,167.0 126.3,170.0 126.4,173.0 126.5,176.0 126.5,179.0 126.6,182.0 126.7,185.0 126.8,188.0 126.9,191.0 127.0,194.0 127.1,197.0 127.2,200.0 127.3,203.0 127.4,206.0 127.6,209.0 127.7,212.0 127.8,215.0 127.9,218.0 127.9,218.5 130.3,218.5 130.3,218.0 130.4,215.0 130.5,212.0 130.6,209.0 130.8,206.0 130.9,203.0 131.0,200.0 131.1,197.0 131.2,194.0 131.3,191.0 131.4,188.0 131.5,185.0 131.6,182.0 131.7,179.0 131.7,176.0 131.8,173.0 131.9,170.0 132.0,167.0 132.1,164.0 132.2,161.0 132.3,158.0 132.4,155.0 132.6,152.0 132.7,149.0 132.9,146.0 133.0,143.0 133.2,140.0 133.4,137.0 133.6,134.0 133.8,131.0 134.2,128.0 134.7,125.0 135.2,122.0 135.7,119.0 136.4,116.0 137.4,113.0 138.5,110.0Z" fill="#22698a"/>
<path d="M122.3,110.0 123.0,113.0 123.6,116.0 124.0,119.0 124.4,122.0 124.7,125.0 125.0,128.0 125.3,131.0 125.5,134.0 125.6,137.0 125.7,140.0 125.9,143.0 126.0,146.0 126.1,149.0 126.2,152.0 126.4,155.0 126.5,158.0 126.6,161.0 126.7,164.0 126.8,167.0 126.8,170.0 126.9,173.0 127.0,176.0 127.1,179.0 127.1,182.0 127.2,185.0 127.3,188.0 127.4,191.0 127.5,194.0 127.6,197.0 127.8,200.0 127.9,203.0 128.0,206.0 128.2,209.0 128.4,212.0 128.6,215.0 129.6,215.0 129.8,212.0 130.0,209.0 130.2,206.0 130.3,203.0 130.4,200.0 130.6,197.0 130.7,194.0 130.8,191.0 130.9,188.0 131.0,185.0 131.1,182.0 131.1,179.0 131.2,176.0 131.3,173.0 131.4,170.0 131.4,167.0 131.5,164.0 131.6,161.0 131.7,158.0 131.8,155.0 132.0,152.0 132.1,149.0 132.2,146.0 132.3,143.0 132.5,140.0 132.6,137.0 132.7,134.0 132.9,131.0 133.2,128.0 133.5,125.0 133.8,122.0 134.2,119.0 134.6,116.0 135.2,113.0 135.9,110.0Z" fill="#216e8b"/>
<path d="M123.7,110.0 124.2,113.0 124.6,116.0 124.9,119.0 125.2,122.0 125.4,125.0 125.7,128.0 125.9,131.0 126.1,134.0 126.2,137.0 126.3,140.0 126.4,143.0 126.5,146.0 126.7,149.0 126.8,152.0 126.9,155.0 127.0,158.0 127.1,161.0 127.2,164.0 127.3,167.0 127.4,170.0 127.4,173.0 127.5,176.0 127.6,179.0 127.7,182.0 127.8,185.0 127.9,188.0 128.0,191.0 128.1,194.0 128.3,197.0 128.5,200.0 128.8,203.0 129.4,203.0 129.7,200.0 129.9,197.0 130.1,194.0 130.2,191.0 130.3,188.0 130.4,185.0 130.5,182.0 130.6,179.0 130.7,176.0 130.8,173.0 130.8,170.0 130.9,167.0 131.0,164.0 131.1,161.0 131.2,158.0 131.3,155.0 131.4,152.0 131.5,149.0 131.7,146.0 131.8,143.0 131.9,140.0 132.0,137.0 132.1,134.0 132.3,131.0 132.5,128.0 132.8,125.0 133.0,122.0 133.3,119.0 133.6,116.0 134.0,113.0 134.5,110.0Z" fill="#20738c"/>
<path d="M124.5,110.0 124.9,113.0 125.2,116.0 125.5,119.0 125.7,122.0 126.0,125.0 126.2,128.0 126.4,131.0 126.6,134.0 126.7,137.0 126.8,140.0 126.9,143.0 127.0,146.0 127.1,149.0 127.3,152.0 127.4,155.0 127.5,158.0 127.7,161.0 127.7,164.0 127.8,167.0 127.9,170.0 128.0,173.0 128.1,176.0 128.2,179.0 128.4,182.0 128.5,185.0 128.7,188.0 129.5,188.0 129.7,185.0 129.8,182.0 130.0,179.0 130.1,176.0 130.2,173.0 130.3,170.0 130.4,167.0 130.5,164.0 130.5,161.0 130.7,158.0 130.8,155.0 130.9,152.0 131.1,149.0 131.2,146.0 131.3,143.0 131.4,140.0 131.5,137.0 131.6,134.0 131.8,131.0 132.0,128.0 132.2,125.0 132.5,122.0 132.7,119.0 133.0,116.0 133.3,113.0 133.7,110.0Z" fill="#1f788c"/>
<path d="M125.1,110.0 125.4,113.0 125.8,116.0 126.0,119.0 126.2,122.0 126.4,125.0 126.7,128.0 126.9,131.0 127.0,134.0 127.1,137.0 127.3,140.0 127.4,143.0 127.5,146.0 127.7,149.0 127.8,152.0 128.0,155.0 128.1,158.0 128.3,161.0 128.5,164.0 128.7,167.0 129.5,167.0 129.7,164.0 129.9,161.0 130.1,158.0 130.2,155.0 130.4,152.0 130.5,149.0 130.7,146.0 130.8,143.0 130.9,140.0 131.1,137.0 131.2,134.0 131.3,131.0 131.5,128.0 131.8,125.0 132.0,122.0 132.2,119.0 132.4,116.0 132.8,113.0 133.1,110.0Z" fill="#1f7f8c"/>
<path d="M125.6,110.0 125.9,113.0 126.2,116.0 126.4,119.0 126.7,122.0 126.9,125.0 127.1,128.0 127.3,131.0 127.5,134.0 127.6,137.0 127.8,140.0 127.9,143.0 128.1,146.0 128.3,149.0 128.6,152.0 129.6,152.0 129.9,149.0 130.1,146.0 130.3,143.0 130.4,140.0 130.6,137.0 130.7,134.0 130.9,131.0 131.1,128.0 131.3,125.0 131.5,122.0 131.8,119.0 132.0,116.0 132.3,113.0 132.6,110.0Z" fill="#1f868b"/>
<path d="M126.1,110.0 126.4,113.0 126.6,116.0 126.9,119.0 127.1,122.0 127.3,125.0 127.6,128.0 127.9,131.0 128.1,134.0 128.3,137.0 128.5,140.0 129.7,140.0 129.9,137.0 130.1,134.0 130.3,131.0 130.6,128.0 130.9,125.0 131.1,122.0 131.3,119.0 131.6,116.0 131.8,113.0 132.1,110.0Z" fill="#218c88"/>
<path d="M126.5,110.0 126.8,113.0 127.1,116.0 127.3,119.0 127.6,122.0 127.8,125.0 128.2,128.0 128.6,131.0 129.6,131.0 130.0,128.0 130.4,125.0 130.6,122.0 130.9,119.0 131.1,116.0 131.4,113.0 131.7,110.0Z" fill="#269083"/>
<path d="M126.9,110.0 127.2,113.0 127.5,116.0 127.8,119.0 128.1,122.0 128.6,125.0 129.6,125.0 130.1,122.0 130.4,119.0 130.7,116.0 131.0,113.0 131.3,110.0Z" fill="#2a947e"/>
<path d="M127.3,110.0 127.7,113.0 128.1,116.0 128.5,119.0 129.7,119.0 130.1,116.0 130.5,113.0 130.9,110.0Z" fill="#3b9871"/>
<path d="M127.8,110.0 128.3,113.0 129.9,113.0 130.4,110.0Z" fill="#4c9c64"/>
<path d="M128.6,109.5 128.6,110.5 129.6,110.5 129.6,109.5Z" fill="#629f57"/>
<linearGradient id="bg8" x1="0" y1="0" x2="0" y2="1"><stop offset="0.0000" stop-color="#284b80"/><stop offset="0.0408" stop-color="#284a80"/><stop offset="0.0816" stop-color="#28497f"/><stop offset="0.1224" stop-color="#28497f"/><stop offset="0.1633" stop-color="#28497f"/><stop offset="0.2041" stop-color="#28497e"/><stop offset="0.2449" stop-color="#28487e"/><stop offset="0.2857" stop-color="#28487e"/><stop offset="0.3265" stop-color="#28487e"/><stop offset="0.3673" stop-color="#28487e"/><stop offset="0.4082" stop-color="#28477e"/><stop offset="0.4490" stop-color="#28477e"/><stop offset="0.4898" stop-color="#28477e"/><stop offset="0.5306" stop-color="#29477d"/><stop offset="0.5714" stop-color="#29477d"/><stop offset="0.6122" stop-color="#29477d"/><stop offset="0.6531" stop-color="#29467d"/><stop offset="0.6939" stop-color="#29467d"/><stop offset="0.7347" stop-color="#29467d"/><stop offset="0.7755" stop-color="#29467d"/><stop offset="0.8163" stop-color="#29457c"/><stop offset="0.8571" stop-color="#29457c"/><stop offset="0.8980" stop-color="#2a3d77"/><stop offset="0.9388" stop-color="#2a3d77"/><stop offset="0.9796" stop-color="#2a3d77"/></linearGradient>
<rect x="91.5" y="218.5" width="75.0" height="24.5" fill="url(#bg8)"/>
<path d="M126.8,240.5 126.8,241.5 126.8,242.5 126.8,243.0 131.4,243.0 131.4,242.5 131.4,241.5 131.4,240.5Z" fill="#29417a"/>
<path d="M113.1,226.5 115.4,227.5 116.7,228.5 117.8,229.5 118.7,230.5 119.5,231.5 120.2,232.5 120.9,233.5 121.6,234.5 122.2,235.5 122.9,236.5 123.8,237.5 124.5,238.5 125.0,239.5 127.8,240.5 127.8,241.5 127.8,242.5 127.8,243.0 130.4,243.0 130.4,242.5 130.4,241.5 130.4,240.5 133.2,239.5 133.7,238.5 134.4,237.5 135.3,236.5 136.0,235.5 136.6,234.5 137.3,233.5 138.0,232.5 138.7,231.5 139.5,230.5 140.4,229.5 141.5,228.5 142.8,227.5 145.1,226.5Z" fill="#28487e"/>
<path d="M114.0,218.5 115.5,219.5 117.4,220.5 118.4,221.5 119.3,222.5 120.2,223.5 121.1,224.5 121.9,225.5 122.5,226.5 123.0,227.5 123.4,228.5 123.7,229.5 124.1,230.5 124.4,231.5 124.6,232.5 124.9,233.5 125.1,234.5 125.3,235.5 125.5,236.5 125.8,237.5 126.1,238.5 126.4,239.5 131.8,239.5 132.1,238.5 132.4,237.5 132.7,236.5 132.9,235.5 133.1,234.5 133.3,233.5 133.6,232.5 133.8,231.5 134.1,230.5 134.5,229.5 134.8,228.5 135.2,227.5 135.7,226.5 136.3,225.5 137.1,224.5 138.0,223.5 138.9,222.5 139.8,221.5 140.8,220.5 142.7,219.5 144.2,218.5Z" fill="#274f82"/>
<path d="M119.7,218.5 120.6,219.5 121.8,220.5 122.5,221.5 123.1,222.5 123.7,223.5 124.1,224.5 124.5,225.5 124.8,226.5 125.0,227.5 125.2,228.5 125.3,229.5 125.5,230.5 125.6,231.5 125.8,232.5 125.9,233.5 126.0,234.5 126.2,235.5 126.3,236.5 126.6,237.5 126.8,238.5 127.1,239.5 131.1,239.5 131.4,238.5 131.6,237.5 131.9,236.5 132.0,235.5 132.2,234.5 132.3,233.5 132.4,232.5 132.6,231.5 132.7,230.5 132.9,229.5 133.0,228.5 133.2,227.5 133.4,226.5 133.7,225.5 134.1,224.5 134.5,223.5 135.1,222.5 135.7,221.5 136.4,220.5 137.6,219.5 138.5,218.5Z" fill="#265685"/>
<path d="M122.8,218.5 123.3,219.5 124.1,220.5 124.4,221.5 124.7,222.5 125.0,223.5 125.2,224.5 125.5,225.5 125.7,226.5 125.8,227.5 125.9,228.5 126.0,229.5 126.1,230.5 126.3,231.5 126.4,232.5 126.5,233.5 126.6,234.5 126.7,235.5 126.9,236.5 127.1,237.5 127.4,238.5 127.7,239.5 130.5,239.5 130.8,238.5 131.1,237.5 131.3,236.5 131.5,235.5 131.6,234.5 131.7,233.5 131.8,232.5 131.9,231.5 132.1,230.5 132.2,229.5 132.3,228.5 132.4,227.5 132.5,226.5 132.7,225.5 133.0,224.5 133.2,223.5 133.5,222.5 133.8,221.5 134.1,220.5 134.9,219.5 135.4,218.5Z" fill="#255e88"/>
<path d="M123.8,218.5 124.3,219.5 125.0,220.5 125.2,221.5 125.4,222.5 125.6,223.5 125.8,224.5 126.1,225.5 126.2,226.5 126.3,227.5 126.4,228.5 126.5,229.5 126.6,230.5 126.7,231.5 126.8,232.5 126.9,233.5 127.0,234.5 127.1,235.5 127.3,236.5 127.6,237.5 127.9,238.5 128.4,239.5 129.8,239.5 130.3,238.5 130.6,237.5 130.9,236.5 131.1,235.5 131.2,234.5 131.3,233.5 131.4,232.5 131.5,231.5 131.6,230.5 131.7,229.5 131.8,228.5 131.9,227.5 132.0,226.5 132.1,225.5 132.4,224.5 132.6,223.5 132.8,222.5 133.0,221.5 133.2,220.5 133.9,219.5 134.4,218.5Z" fill="#236489"/>
<path d="M124.4,218.5 124.9,219.5 125.5,220.5 125.7,221.5 125.9,222.5 126.1,223.5 126.3,224.5 126.5,225.5 126.6,226.5 126.7,227.5 126.8,228.5 126.9,229.5 127.0,230.5 127.1,231.5 127.2,232.5 127.3,233.5 127.4,234.5 127.5,235.5 127.7,236.5 128.1,237.5 128.6,238.5 129.6,238.5 130.1,237.5 130.5,236.5 130.7,235.5 130.8,234.5 130.9,233.5 131.0,232.5 131.1,231.5 131.2,230.5 131.3,229.5 131.4,228.5 131.5,227.5 131.6,226.5 131.7,225.5 131.9,224.5 132.1,223.5 132.3,222.5 132.5,221.5 132.7,220.5 133.3,219.5 133.8,218.5Z" fill="#22698a"/>
<path d="M124.8,218.5 125.3,219.5 125.9,220.5 126.1,221.5 126.3,222.5 126.4,223.5 126.6,224.5 126.8,225.5 127.0,226.5 127.1,227.5 127.2,228.5 127.3,229.5 127.4,230.5 127.5,231.5 127.6,232.5 127.7,233.5 127.8,234.5 128.0,235.5 128.2,236.5 128.8,237.5 129.4,237.5 130.0,236.5 130.2,235.5 130.4,234.5 130.5,233.5 130.6,232.5 130.7,231.5 130.8,230.5 130.9,229.5 131.0,228.5 131.1,227.5 131.2,226.5 131.4,225.5 131.6,224.5 131.8,223.5 131.9,222.5 132.1,221.5 132.3,220.5 132.9,219.5 133.4,218.5Z" fill="#216e8b"/>
<path d="M125.2,218.5 125.6,219.5 126.2,220.5 126.4,221.5 126.6,222.5 126.8,223.5 126.9,224.5 127.1,225.5 127.3,226.5 127.4,227.5 127.5,228.5 127.6,229.5 127.7,230.5 127.8,231.5 128.0,232.5 128.1,233.5 128.3,234.5 128.5,235.5 129.7,235.5 129.9,234.5 130.1,233.5 130.2,232.5 130.4,231.5 130.5,230.5 130.6,229.5 130.7,228.5 130.8,227.5 130.9,226.5 131.1,225.5 131.3,224.5 131.4,223.5 131.6,222.5 131.8,221.5 132.0,220.5 132.6,219.5 133.0,218.5Z" fill="#20738c"/>
<path d="M125.4,218.5 125.9,219.5 126.5,220.5 126.7,221.5 126.9,222.5 127.0,223.5 127.2,224.5 127.4,225.5 127.6,226.5 127.7,227.5 127.8,228.5 128.0,229.5 128.1,230.5 128.2,231.5 128.4,232.5 128.7,233.5 129.5,233.5 129.8,232.5 130.0,231.5 130.1,230.5 130.2,229.5 130.4,228.5 130.5,227.5 130.6,226.5 130.8,225.5 131.0,224.5 131.2,223.5 131.3,222.5 131.5,221.5 131.7,220.5 132.3,219.5 132.8,218.5Z" fill="#1f788c"/>
<path d="M125.7,218.5 126.1,219.5 126.8,220.5 126.9,221.5 127.1,222.5 127.3,223.5 127.5,224.5 127.8,225.5 127.9,226.5 128.1,227.5 128.2,228.5 128.4,229.5 128.6,230.5 129.6,230.5 129.8,229.5 130.0,228.5 130.1,227.5 130.3,226.5 130.4,225.5 130.7,224.5 130.9,223.5 131.1,222.5 131.3,221.5 131.4,220.5 132.1,219.5 132.5,218.5Z" fill="#1f7f8c"/>
<path d="M125.9,218.5 126.4,219.5 127.0,220.5 127.2,221.5 127.4,222.5 127.6,223.5 127.8,224.5 128.1,225.5 128.3,226.5 128.5,227.5 128.9,228.5 129.3,228.5 129.7,227.5 129.9,226.5 130.1,225.5 130.4,224.5 130.6,223.5 130.8,222.5 131.0,221.5 131.2,220.5 131.8,219.5 132.3,218.5Z" fill="#1f868b"/>
<path d="M126.1,218.5 126.6,219.5 127.3,220.5 127.5,221.5 127.7,222.5 127.9,223.5 128.2,224.5 128.6,225.5 129.6,225.5 130.0,224.5 130.3,223.5 130.5,222.5 130.7,221.5 130.9,220.5 131.6,219.5 132.1,218.5Z" fill="#218c88"/>
<path d="M126.3,218.5 126.8,219.5 127.5,220.5 127.7,221.5 128.0,222.5 128.2,223.5 128.7,224.5 129.5,224.5 130.0,223.5 130.2,222.5 130.5,221.5 130.7,220.5 131.4,219.5 131.9,218.5Z" fill="#269083"/>
<path d="M126.5,218.5 127.0,219.5 127.8,220.5 128.0,221.5 128.3,222.5 128.8,223.5 129.4,223.5 129.9,222.5 130.2,221.5 130.4,220.5 131.2,219.5 131.7,218.5Z" fill="#2a947e"/>
<path d="M126.7,218.5 127.2,219.5 128.1,220.5 128.4,221.5 129.8,221.5 130.1,220.5 131.0,219.5 131.5,218.5Z" fill="#3b9871"/>
<path d="M126.9,218.5 127.4,219.5 128.4,220.5 129.8,220.5 130.8,219.5 131.3,218.5Z" fill="#4c9c64"/>
<path d="M127.1,218.5 127.6,219.5 130.6,219.5 131.1,218.5Z" fill="#629f57"/>
<path d="M127.3,218.5 127.9,219.5 130.3,219.5 130.9,218.5Z" fill="#7da24a"/>
<path d="M127.5,218.5 128.1,219.5 130.1,219.5 130.7,218.5Z" fill="#98a43c"/>
<path d="M127.7,218.5 128.5,219.5 129.7,219.5 130.5,218.5Z" fill="#ada436"/>
<path d="M127.9,218.0 127.9,219.0 130.3,219.0 130.3,218.0Z" fill="#c2a431"/>
<path d="M128.2,218.0 128.2,219.0 130.0,219.0 130.0,218.0Z" fill="#d3a42c"/>
<path d="M128.6,218.0 128.6,219.0 129.6,219.0 129.6,218.0Z" fill="#e0a527"/>
</g></g>
<rect x="93.50" y="57.90" width="71.00" height="1.50" fill="#fff"/>
<rect x="93.50" y="217.80" width="71.00" height="1.40" fill="#fff"/>
<rect x="166.50" y="32.40" width="5.30" height="208.80" fill="url(#cbA)"/>
<line x1="171.80" y1="44.60" x2="174.60" y2="44.60" stroke="#333" stroke-width="1.0"/>
<text x="176.3" y="47.4" font-size="9.4" textLength="12.8" lengthAdjust="spacingAndGlyphs">0.7</text>
<line x1="171.80" y1="73.20" x2="174.60" y2="73.20" stroke="#333" stroke-width="1.0"/>
<text x="176.3" y="76.0" font-size="9.4" textLength="12.8" lengthAdjust="spacingAndGlyphs">0.6</text>
<line x1="171.80" y1="101.00" x2="174.60" y2="101.00" stroke="#333" stroke-width="1.0"/>
<text x="176.3" y="103.8" font-size="9.4" textLength="12.8" lengthAdjust="spacingAndGlyphs">0.5</text>
<line x1="171.80" y1="128.80" x2="174.60" y2="128.80" stroke="#333" stroke-width="1.0"/>
<text x="176.3" y="131.6" font-size="9.4" textLength="12.8" lengthAdjust="spacingAndGlyphs">0.4</text>
<line x1="171.80" y1="157.00" x2="174.60" y2="157.00" stroke="#333" stroke-width="1.0"/>
<text x="176.3" y="159.8" font-size="9.4" textLength="12.8" lengthAdjust="spacingAndGlyphs">0.3</text>
<line x1="171.80" y1="185.00" x2="174.60" y2="185.00" stroke="#333" stroke-width="1.0"/>
<text x="176.3" y="187.8" font-size="9.4" textLength="12.8" lengthAdjust="spacingAndGlyphs">0.2</text>
<line x1="171.80" y1="213.30" x2="174.60" y2="213.30" stroke="#333" stroke-width="1.0"/>
<text x="176.3" y="216.1" font-size="9.4" textLength="12.8" lengthAdjust="spacingAndGlyphs">0.1</text>
<line x1="171.80" y1="241.00" x2="174.60" y2="241.00" stroke="#333" stroke-width="1.0"/>
<text x="176.3" y="241.6" font-size="9.4" textLength="12.8" lengthAdjust="spacingAndGlyphs">0.0</text>
<line x1="172.00" y1="32.40" x2="172.00" y2="241.20" stroke="#444" stroke-width="0.7"/>
<line x1="20.00" y1="241.20" x2="20.00" y2="243.40" stroke="#231f20" stroke-width="0.8"/>
<line x1="55.60" y1="241.20" x2="55.60" y2="243.40" stroke="#231f20" stroke-width="0.8"/>
<line x1="91.00" y1="241.20" x2="91.00" y2="243.40" stroke="#231f20" stroke-width="0.8"/>
<line x1="93.50" y1="241.20" x2="93.50" y2="243.40" stroke="#231f20" stroke-width="0.8"/>
<line x1="129.10" y1="241.20" x2="129.10" y2="243.40" stroke="#231f20" stroke-width="0.8"/>
<line x1="164.40" y1="241.20" x2="164.40" y2="243.40" stroke="#231f20" stroke-width="0.8"/>
<text x="18.5" y="251.8" font-size="9" textLength="16.7" lengthAdjust="spacingAndGlyphs">–1.5</text>
<text x="43.8" y="251.8" font-size="9" textLength="24.5" lengthAdjust="spacingAndGlyphs">center</text>
<text x="78.8" y="251.8" font-size="9" textLength="11.2" lengthAdjust="spacingAndGlyphs">1.5</text>
<text x="93.1" y="251.8" font-size="9" textLength="17.1" lengthAdjust="spacingAndGlyphs">–1.5</text>
<text x="117.1" y="251.8" font-size="9" textLength="24.8" lengthAdjust="spacingAndGlyphs">center</text>
<text x="153.1" y="251.8" font-size="9" textLength="20.7" lengthAdjust="spacingAndGlyphs">1.5kb</text>
<text x="24.4" y="264.6" font-size="10.0" textLength="133.3" lengthAdjust="spacingAndGlyphs" stroke="#2a2a2a" stroke-width="0.2">ATAC seq (LSK, 6 days after pI:pC)</text>
<text x="216.5" y="19.1" font-size="13" font-weight="bold" fill="#000">B</text>
<path d="M232.8,93.30 L233.3,93.29 L233.8,93.29 L234.3,93.29 L234.8,93.29 L235.3,93.29 L235.8,93.29 L236.3,93.29 L236.8,93.29 L237.3,93.29 L237.8,93.29 L238.3,93.29 L238.8,93.28 L239.3,93.28 L239.8,93.28 L240.3,93.28 L240.8,93.28 L241.3,93.27 L241.8,93.27 L242.3,93.27 L242.8,93.26 L243.3,93.26 L243.8,93.25 L244.3,93.25 L244.8,93.24 L245.3,93.24 L245.8,93.23 L246.3,93.23 L246.8,93.22 L247.3,93.21 L247.8,93.20 L248.3,93.19 L248.8,93.18 L249.3,93.17 L249.8,93.16 L250.3,93.14 L250.8,93.13 L251.3,93.11 L251.8,93.09 L252.3,93.07 L252.8,93.05 L253.3,93.03 L253.8,93.00 L254.3,92.97 L254.8,92.94 L255.3,92.91 L255.8,92.88 L256.3,92.84 L256.8,92.79 L257.3,92.75 L257.8,92.70 L258.3,92.65 L258.8,92.59 L259.3,92.52 L259.8,92.46 L260.3,92.38 L260.8,92.30 L261.3,92.22 L261.8,92.13 L262.3,92.03 L262.8,91.92 L263.3,91.80 L263.8,91.68 L264.3,91.55 L264.8,91.40 L265.3,91.25 L265.8,91.08 L266.3,90.91 L266.8,90.72 L267.3,90.51 L267.8,90.29 L268.3,90.06 L268.8,89.81 L269.3,89.55 L269.8,89.27 L270.3,88.97 L270.8,88.65 L271.3,88.31 L271.8,87.94 L272.3,87.56 L272.8,87.15 L273.3,86.72 L273.8,86.26 L274.3,85.78 L274.8,85.27 L275.3,84.73 L275.8,84.16 L276.3,83.56 L276.8,82.94 L277.3,82.28 L277.8,81.58 L278.3,80.86 L278.8,80.10 L279.3,79.30 L279.8,78.48 L280.3,77.62 L280.8,76.72 L281.3,75.79 L281.8,74.83 L282.3,73.83 L282.8,72.80 L283.3,71.74 L283.8,70.65 L284.3,69.54 L284.8,68.40 L285.3,67.24 L285.8,66.06 L286.3,64.87 L286.8,63.67 L287.3,62.47 L287.8,61.27 L288.3,60.08 L288.8,58.91 L289.3,57.78 L289.8,56.69 L290.3,55.66 L290.8,54.72 L291.3,53.88 L291.8,53.18 L292.3,52.67 L292.8,52.38 L293.3,52.30 L293.8,52.33 L294.3,52.53 L294.8,52.95 L295.3,53.58 L295.8,54.37 L296.3,55.27 L296.8,56.27 L297.3,57.34 L297.8,58.45 L298.3,59.61 L298.8,60.79 L299.3,61.98 L299.8,63.19 L300.3,64.39 L300.8,65.59 L301.3,66.77 L301.8,67.94 L302.3,69.09 L302.8,70.21 L303.3,71.31 L303.8,72.38 L304.3,73.42 L304.8,74.43 L305.3,75.41 L305.8,76.35 L306.3,77.26 L306.8,78.14 L307.3,78.98 L307.8,79.78 L308.3,80.56 L308.8,81.30 L309.3,82.00 L309.8,82.68 L310.3,83.32 L310.8,83.93 L311.3,84.51 L311.8,85.06 L312.3,85.58 L312.8,86.07 L313.3,86.54 L313.8,86.98 L314.3,87.40 L314.8,87.79 L315.3,88.16 L315.8,88.51 L316.3,88.84 L316.8,89.15 L317.3,89.44 L317.8,89.71 L318.3,89.97 L318.8,90.20 L319.3,90.43 L319.8,90.64 L320.3,90.83 L320.8,91.01 L321.3,91.18 L321.8,91.34 L322.3,91.49 L322.8,91.63 L323.3,91.75 L323.8,91.87 L324.3,91.98 L324.8,92.09 L325.3,92.18 L325.8,92.27 L326.3,92.35 L326.8,92.43 L327.3,92.50 L327.8,92.56 L328.3,92.62 L328.8,92.68 L329.3,92.73 L329.8,92.78 L330.3,92.82 L330.8,92.86 L331.3,92.90 L331.8,92.93 L332.3,92.96 L332.8,92.99 L333.3,93.02 L333.8,93.04 L334.3,93.06 L334.8,93.09 L335.3,93.10 L335.8,93.12 L336.3,93.14 L336.8,93.15 L337.3,93.16 L337.8,93.18 L338.3,93.19 L338.8,93.20 L339.3,93.21 L339.8,93.22 L340.3,93.22 L340.8,93.23 L341.3,93.24 L341.8,93.24 L342.3,93.25 L342.8,93.25 L343.3,93.26 L343.8,93.26 L344.3,93.27 L344.8,93.27 L345.3,93.27 L345.8,93.27 L346.3,93.28 L346.8,93.28 L347.3,93.28 L347.8,93.28 L348.3,93.28 L348.8,93.29 L349.3,93.29 L349.8,93.29 L350.3,93.29 L350.8,93.29 L351.3,93.29 L351.8,93.29 L352.3,93.29 L352.8,93.29 L353.3,93.29" fill="none" stroke="#1c5a96" stroke-width="1.9"/>
<path d="M232.8,91.99 L233.3,91.99 L233.8,91.99 L234.3,91.99 L234.8,91.99 L235.3,91.99 L235.8,91.99 L236.3,91.99 L236.8,91.98 L237.3,91.98 L237.8,91.98 L238.3,91.98 L238.8,91.98 L239.3,91.97 L239.8,91.97 L240.3,91.97 L240.8,91.96 L241.3,91.96 L241.8,91.96 L242.3,91.95 L242.8,91.95 L243.3,91.94 L243.8,91.94 L244.3,91.93 L244.8,91.92 L245.3,91.91 L245.8,91.90 L246.3,91.89 L246.8,91.88 L247.3,91.87 L247.8,91.86 L248.3,91.85 L248.8,91.83 L249.3,91.81 L249.8,91.79 L250.3,91.77 L250.8,91.75 L251.3,91.73 L251.8,91.70 L252.3,91.67 L252.8,91.64 L253.3,91.61 L253.8,91.57 L254.3,91.53 L254.8,91.49 L255.3,91.44 L255.8,91.39 L256.3,91.34 L256.8,91.28 L257.3,91.21 L257.8,91.14 L258.3,91.06 L258.8,90.98 L259.3,90.89 L259.8,90.79 L260.3,90.69 L260.8,90.57 L261.3,90.45 L261.8,90.32 L262.3,90.17 L262.8,90.02 L263.3,89.85 L263.8,89.68 L264.3,89.48 L264.8,89.28 L265.3,89.06 L265.8,88.82 L266.3,88.57 L266.8,88.29 L267.3,88.00 L267.8,87.69 L268.3,87.36 L268.8,87.00 L269.3,86.62 L269.8,86.22 L270.3,85.78 L270.8,85.33 L271.3,84.84 L271.8,84.32 L272.3,83.77 L272.8,83.18 L273.3,82.56 L273.8,81.91 L274.3,81.21 L274.8,80.48 L275.3,79.71 L275.8,78.90 L276.3,78.04 L276.8,77.14 L277.3,76.19 L277.8,75.20 L278.3,74.16 L278.8,73.07 L279.3,71.93 L279.8,70.74 L280.3,69.51 L280.8,68.22 L281.3,66.89 L281.8,65.51 L282.3,64.08 L282.8,62.60 L283.3,61.08 L283.8,59.52 L284.3,57.92 L284.8,56.29 L285.3,54.63 L285.8,52.94 L286.3,51.23 L286.8,49.50 L287.3,47.78 L287.8,46.06 L288.3,44.35 L288.8,42.68 L289.3,41.05 L289.8,39.49 L290.3,38.02 L290.8,36.67 L291.3,35.47 L291.8,34.47 L292.3,33.73 L292.8,33.31 L293.3,33.20 L293.8,33.24 L294.3,33.52 L294.8,34.14 L295.3,35.04 L295.8,36.17 L296.3,37.46 L296.8,38.89 L297.3,40.42 L297.8,42.02 L298.3,43.68 L298.8,45.37 L299.3,47.09 L299.8,48.81 L300.3,50.54 L300.8,52.25 L301.3,53.95 L301.8,55.63 L302.3,57.27 L302.8,58.89 L303.3,60.46 L303.8,62.00 L304.3,63.49 L304.8,64.94 L305.3,66.34 L305.8,67.69 L306.3,69.00 L306.8,70.25 L307.3,71.46 L307.8,72.62 L308.3,73.73 L308.8,74.79 L309.3,75.80 L309.8,76.76 L310.3,77.68 L310.8,78.56 L311.3,79.39 L311.8,80.18 L312.3,80.93 L312.8,81.63 L313.3,82.31 L313.8,82.94 L314.3,83.54 L314.8,84.10 L315.3,84.63 L315.8,85.13 L316.3,85.60 L316.8,86.05 L317.3,86.46 L317.8,86.85 L318.3,87.22 L318.8,87.56 L319.3,87.88 L319.8,88.18 L320.3,88.46 L320.8,88.72 L321.3,88.96 L321.8,89.19 L322.3,89.40 L322.8,89.60 L323.3,89.78 L323.8,89.95 L324.3,90.11 L324.8,90.26 L325.3,90.40 L325.8,90.52 L326.3,90.64 L326.8,90.75 L327.3,90.85 L327.8,90.94 L328.3,91.03 L328.8,91.11 L329.3,91.18 L329.8,91.25 L330.3,91.31 L330.8,91.37 L331.3,91.42 L331.8,91.47 L332.3,91.52 L332.8,91.56 L333.3,91.60 L333.8,91.63 L334.3,91.66 L334.8,91.69 L335.3,91.72 L335.8,91.74 L336.3,91.77 L336.8,91.79 L337.3,91.81 L337.8,91.82 L338.3,91.84 L338.8,91.85 L339.3,91.87 L339.8,91.88 L340.3,91.89 L340.8,91.90 L341.3,91.91 L341.8,91.92 L342.3,91.93 L342.8,91.93 L343.3,91.94 L343.8,91.94 L344.3,91.95 L344.8,91.95 L345.3,91.96 L345.8,91.96 L346.3,91.97 L346.8,91.97 L347.3,91.97 L347.8,91.98 L348.3,91.98 L348.8,91.98 L349.3,91.98 L349.8,91.98 L350.3,91.99 L350.8,91.99 L351.3,91.99 L351.8,91.99 L352.3,91.99 L352.8,91.99 L353.3,91.99" fill="none" stroke="#d2192f" stroke-width="1.9"/>
<rect x="232.3" y="30.5" width="121.2" height="65.2" fill="none" stroke="#231f20" stroke-width="1.2"/>
<line x1="230.30" y1="48.20" x2="232.30" y2="48.20" stroke="#231f20" stroke-width="1"/>
<text x="214.6" y="51.5" font-size="9.4" textLength="13.1" lengthAdjust="spacingAndGlyphs">0.3</text>
<line x1="230.30" y1="66.20" x2="232.30" y2="66.20" stroke="#231f20" stroke-width="1"/>
<text x="214.6" y="69.5" font-size="9.4" textLength="13.1" lengthAdjust="spacingAndGlyphs">0.2</text>
<line x1="230.30" y1="84.30" x2="232.30" y2="84.30" stroke="#231f20" stroke-width="1"/>
<text x="214.6" y="87.6" font-size="9.4" textLength="13.1" lengthAdjust="spacingAndGlyphs">0.1</text>
<line x1="232.30" y1="95.70" x2="232.30" y2="97.80" stroke="#231f20" stroke-width="1"/>
<line x1="293.40" y1="95.70" x2="293.40" y2="97.80" stroke="#231f20" stroke-width="1"/>
<line x1="353.50" y1="95.70" x2="353.50" y2="97.80" stroke="#231f20" stroke-width="1"/>
<text x="223.3" y="110.9" font-size="10.3" textLength="18.5" lengthAdjust="spacingAndGlyphs">–1.5</text>
<text x="278.9" y="110.9" font-size="10.3" textLength="28.6" lengthAdjust="spacingAndGlyphs">Center</text>
<text x="342.7" y="110.9" font-size="10.3" textLength="23.1" lengthAdjust="spacingAndGlyphs">1.5kb</text>
<line x1="311.90" y1="40.10" x2="319.90" y2="40.10" stroke="#d2192f" stroke-width="1.6"/>
<line x1="311.90" y1="50.70" x2="319.90" y2="50.70" stroke="#1c5a96" stroke-width="1.6"/>
<text x="322.3" y="42.8" font-size="8.9" font-style="italic" textLength="26.5" lengthAdjust="spacingAndGlyphs">Chd8<tspan font-size="5.3" dy="-3.4" font-style="normal">-/-</tspan></text>
<text x="322.8" y="53.3" font-size="8.9" textLength="13.2" lengthAdjust="spacingAndGlyphs">WT</text>
<text x="320.4" y="68.9" font-size="7.2" textLength="24.5" lengthAdjust="spacingAndGlyphs">p-value</text>
<text x="320.4" y="77.8" font-size="7.2" textLength="25.9" lengthAdjust="spacingAndGlyphs">&lt; 2.2e-16</text>
<text x="200.6" y="137.6" font-size="13" font-weight="bold" fill="#000">C</text>
<text x="273.0" y="138.6" font-size="8.9" textLength="14.8" lengthAdjust="spacingAndGlyphs">LSK</text>
<rect x="256.2" y="142.55" width="49.3" height="15.40" fill="#ebebeb" stroke="#111" stroke-width="1.7"/>
<g filter="url(#bb)"><rect x="260.8" y="149.15" width="19.6" height="3.70" rx="6" ry="1.85" fill="#0a0a0a"/><rect x="283.2" y="149.35" width="18.6" height="3.30" rx="6" ry="1.65" fill="#0a0a0a"/></g>
<text x="251.2" y="154.4" font-size="9.6" text-anchor="end" textLength="41.5" lengthAdjust="spacingAndGlyphs">H3K4me3</text>
<rect x="256.2" y="159.65" width="49.3" height="17.20" fill="#ececec" stroke="#111" stroke-width="1.7"/>
<g filter="url(#bb)"><rect x="260.8" y="165.40" width="19.6" height="6.20" rx="6" ry="3.10" fill="#0a0a0a"/><rect x="283.2" y="166.10" width="18.6" height="4.80" rx="6" ry="2.40" fill="#0a0a0a"/></g>
<text x="251.2" y="171.9" font-size="9.6" text-anchor="end" textLength="37.5" lengthAdjust="spacingAndGlyphs">H3K27Ac</text>
<rect x="256.2" y="178.55" width="49.3" height="14.20" fill="#eaeaea" stroke="#111" stroke-width="1.7"/>
<g filter="url(#bb)"><rect x="260.8" y="184.45" width="19.6" height="3.70" rx="6" ry="1.85" fill="#0a0a0a"/><rect x="283.2" y="184.60" width="18.6" height="3.40" rx="6" ry="1.70" fill="#0a0a0a"/></g>
<text x="251.2" y="189.3" font-size="9.6" text-anchor="end" textLength="46.5" lengthAdjust="spacingAndGlyphs">H3K27me3</text>
<rect x="256.2" y="195.45" width="49.3" height="13.30" fill="#e9e9e9" stroke="#111" stroke-width="1.7"/>
<g filter="url(#bb)"><rect x="260.8" y="200.80" width="19.6" height="3.40" rx="6" ry="1.70" fill="#0a0a0a"/><rect x="283.2" y="200.90" width="18.6" height="3.20" rx="6" ry="1.60" fill="#0a0a0a"/></g>
<text x="251.2" y="206.0" font-size="9.6" text-anchor="end" textLength="41.6" lengthAdjust="spacingAndGlyphs">H3K9me3</text>
<rect x="256.2" y="211.85" width="49.3" height="13.80" fill="#bcbcbc" stroke="#111" stroke-width="1.7"/>
<g filter="url(#bb2)"><rect x="260.8" y="215.80" width="19.6" height="5.60" rx="6" ry="2.80" fill="#0a0a0a"/><rect x="283.2" y="215.65" width="18.6" height="5.90" rx="6" ry="2.95" fill="#0a0a0a"/></g>
<text x="251.2" y="222.5" font-size="9.6" text-anchor="end" textLength="11.4" lengthAdjust="spacingAndGlyphs">H3</text>
<rect x="256.2" y="228.85" width="49.3" height="13.70" fill="#ebebeb" stroke="#111" stroke-width="1.7"/>
<g filter="url(#bb)"><rect x="260.8" y="234.85" width="19.6" height="3.70" rx="6" ry="1.85" fill="#0a0a0a"/><rect x="283.2" y="234.85" width="18.6" height="3.70" rx="6" ry="1.85" fill="#0a0a0a"/></g>
<text x="251.2" y="240.2" font-size="9.6" text-anchor="end" textLength="21.5" lengthAdjust="spacingAndGlyphs">Actin</text>
<text x="0" y="0" font-size="8.6" transform="translate(264.2,261.2) rotate(-45)" textLength="17" lengthAdjust="spacingAndGlyphs" fill="#231f20">WT</text>
<text x="0" y="0" font-size="8.6" transform="translate(282.4,271.6) rotate(-45)" textLength="31" lengthAdjust="spacingAndGlyphs" fill="#231f20">Chd8<tspan font-size="5.2" dy="-3.3" font-style="normal">-/-</tspan></text>
<text x="377.2" y="19.2" font-size="13" font-weight="bold" fill="#000">D</text>
<text x="443.8" y="23.4" font-size="9.0" textLength="35.9" lengthAdjust="spacingAndGlyphs">PCA plot</text>
<rect x="409.1" y="29.2" width="97.8" height="97.4" fill="none" stroke="#231f20" stroke-width="1.2"/>
<line x1="409.70" y1="80.30" x2="506.30" y2="80.30" stroke="#5a4a5a" stroke-width="0.9" stroke-dasharray="2.2 2"/>
<line x1="460.40" y1="29.80" x2="460.40" y2="126.00" stroke="#5a4a5a" stroke-width="0.9" stroke-dasharray="2.2 2"/>
<text x="413.8" y="43.1" font-size="9" textLength="13.2" lengthAdjust="spacingAndGlyphs">WT</text>
<text x="477.7" y="42.8" font-size="9" font-style="italic" textLength="26.1" lengthAdjust="spacingAndGlyphs">Chd8<tspan font-size="5.4" dy="-3.4" font-style="normal">-/-</tspan></text>
<line x1="407.30" y1="52.80" x2="409.10" y2="52.80" stroke="#231f20" stroke-width="1"/>
<text x="403.0" y="56.7" font-size="8.8" text-anchor="end" textLength="10.1" lengthAdjust="spacingAndGlyphs">50</text>
<line x1="407.30" y1="80.30" x2="409.10" y2="80.30" stroke="#231f20" stroke-width="1"/>
<text x="403.0" y="84.2" font-size="8.8" text-anchor="end" textLength="5.1" lengthAdjust="spacingAndGlyphs">0</text>
<line x1="407.30" y1="107.10" x2="409.10" y2="107.10" stroke="#231f20" stroke-width="1"/>
<text x="403.0" y="111.0" font-size="8.8" text-anchor="end" textLength="13.2" lengthAdjust="spacingAndGlyphs">-50</text>
<line x1="423.10" y1="126.60" x2="423.10" y2="128.60" stroke="#231f20" stroke-width="1"/>
<text x="416.7" y="140.4" font-size="9" textLength="12.5" lengthAdjust="spacingAndGlyphs">–20</text>
<line x1="441.70" y1="126.60" x2="441.70" y2="128.60" stroke="#231f20" stroke-width="1"/>
<text x="434.6" y="140.4" font-size="9" textLength="15.8" lengthAdjust="spacingAndGlyphs">–10</text>
<line x1="460.40" y1="126.60" x2="460.40" y2="128.60" stroke="#231f20" stroke-width="1"/>
<text x="458.0" y="140.4" font-size="9" textLength="4.9" lengthAdjust="spacingAndGlyphs">0</text>
<line x1="478.80" y1="126.60" x2="478.80" y2="128.60" stroke="#231f20" stroke-width="1"/>
<text x="473.8" y="140.4" font-size="9" textLength="10.2" lengthAdjust="spacingAndGlyphs">10</text>
<line x1="497.10" y1="126.60" x2="497.10" y2="128.60" stroke="#231f20" stroke-width="1"/>
<text x="492.3" y="140.4" font-size="9" textLength="10.0" lengthAdjust="spacingAndGlyphs">20</text>
<text x="420.0" y="155.4" font-size="10" textLength="78.8" lengthAdjust="spacingAndGlyphs" stroke="#2a2a2a" stroke-width="0.2">PC1 (73% variation)</text>
<text x="0" y="0" font-size="10" transform="translate(385.4,115.4) rotate(-90)" textLength="76.9" lengthAdjust="spacingAndGlyphs" fill="#231f20" stroke="#2a2a2a" stroke-width="0.2">PC2 (17% variation)</text>
<rect x="415.50" y="67.50" width="4.50" height="1.00" fill="#d0d0d0"/>
<rect x="420.50" y="83.30" width="4.50" height="1.00" fill="#d0d0d0"/>
<rect x="488.50" y="80.00" width="4.50" height="1.00" fill="#d0d0d0"/>
<rect x="496.50" y="76.30" width="4.50" height="1.00" fill="#d0d0d0"/>
<circle cx="413.4" cy="70.1" r="1.85" fill="#d0152c"/>
<circle cx="424.6" cy="85.4" r="1.85" fill="#d0152c"/>
<circle cx="429.1" cy="86.8" r="1.85" fill="#d0152c"/>
<circle cx="493.8" cy="79.3" r="1.95" fill="#1a5590"/>
<circle cx="498.0" cy="79.0" r="1.95" fill="#1a5590"/>
<circle cx="503.1" cy="79.8" r="1.95" fill="#1a5590"/>
<text x="336.2" y="182.6" font-size="13" font-weight="bold" fill="#000">E</text>
<text x="396.3" y="198.5" font-size="9" textLength="56.5" lengthAdjust="spacingAndGlyphs" fill="#231f20"><tspan font-style="italic">Chd8</tspan><tspan font-size="5.4" dy="-3.4">-/-</tspan><tspan dy="3.4"> VS WT</tspan></text>
<g fill="#a0a0a0"><circle cx="421.2" cy="296.7" r="0.75"/><circle cx="423.4" cy="295.9" r="0.75"/><circle cx="412.3" cy="292.1" r="0.75"/><circle cx="413.8" cy="297.1" r="0.75"/><circle cx="412.1" cy="297.3" r="0.75"/><circle cx="425.2" cy="296.3" r="0.75"/><circle cx="412.8" cy="297.3" r="0.75"/><circle cx="424.7" cy="295.7" r="0.75"/><circle cx="425.8" cy="297.3" r="0.75"/><circle cx="413.3" cy="296.6" r="0.75"/><circle cx="414.5" cy="297.2" r="0.75"/><circle cx="414.6" cy="295.9" r="0.75"/><circle cx="414.1" cy="297.1" r="0.75"/><circle cx="419.9" cy="297.2" r="0.75"/><circle cx="413.8" cy="295.8" r="0.75"/><circle cx="419.4" cy="297.2" r="0.75"/><circle cx="418.9" cy="297.4" r="0.75"/><circle cx="421.1" cy="297.3" r="0.75"/><circle cx="416.7" cy="297.4" r="0.75"/><circle cx="425.3" cy="295.4" r="0.75"/><circle cx="417.6" cy="297.0" r="0.75"/><circle cx="426.2" cy="297.0" r="0.75"/><circle cx="417.5" cy="296.8" r="0.75"/><circle cx="417.3" cy="296.8" r="0.75"/><circle cx="425.7" cy="297.3" r="0.75"/><circle cx="415.9" cy="297.1" r="0.75"/><circle cx="423.2" cy="295.7" r="0.75"/><circle cx="422.4" cy="295.3" r="0.75"/><circle cx="414.4" cy="296.6" r="0.75"/><circle cx="424.8" cy="294.6" r="0.75"/><circle cx="413.3" cy="288.4" r="0.75"/><circle cx="423.1" cy="295.3" r="0.75"/><circle cx="417.1" cy="296.9" r="0.75"/><circle cx="426.5" cy="290.1" r="0.75"/><circle cx="420.5" cy="296.5" r="0.75"/><circle cx="427.1" cy="290.5" r="0.75"/><circle cx="421.7" cy="295.4" r="0.75"/><circle cx="413.7" cy="296.4" r="0.75"/><circle cx="420.3" cy="297.3" r="0.75"/><circle cx="423.7" cy="297.3" r="0.75"/><circle cx="421.3" cy="297.2" r="0.75"/><circle cx="416.5" cy="296.8" r="0.75"/><circle cx="414.5" cy="296.5" r="0.75"/><circle cx="424.9" cy="288.8" r="0.75"/><circle cx="415.6" cy="296.9" r="0.75"/><circle cx="422.3" cy="297.2" r="0.75"/><circle cx="424.7" cy="297.0" r="0.75"/><circle cx="420.2" cy="297.2" r="0.75"/><circle cx="411.5" cy="297.4" r="0.75"/><circle cx="411.5" cy="295.9" r="0.75"/><circle cx="415.8" cy="292.9" r="0.75"/><circle cx="421.4" cy="297.4" r="0.75"/><circle cx="422.7" cy="297.2" r="0.75"/><circle cx="419.0" cy="297.0" r="0.75"/><circle cx="424.9" cy="292.0" r="0.75"/><circle cx="418.1" cy="297.2" r="0.75"/><circle cx="417.7" cy="297.2" r="0.75"/><circle cx="423.1" cy="296.8" r="0.75"/><circle cx="422.2" cy="297.3" r="0.75"/><circle cx="423.7" cy="292.9" r="0.75"/><circle cx="414.7" cy="296.0" r="0.75"/><circle cx="414.0" cy="297.3" r="0.75"/><circle cx="418.0" cy="297.3" r="0.75"/><circle cx="422.9" cy="296.6" r="0.75"/><circle cx="422.0" cy="295.0" r="0.75"/><circle cx="412.4" cy="297.1" r="0.75"/><circle cx="412.1" cy="295.4" r="0.75"/><circle cx="424.4" cy="295.5" r="0.75"/><circle cx="420.0" cy="296.7" r="0.75"/><circle cx="417.3" cy="297.3" r="0.75"/><circle cx="421.5" cy="297.4" r="0.75"/><circle cx="415.1" cy="297.4" r="0.75"/><circle cx="414.0" cy="297.3" r="0.75"/><circle cx="419.8" cy="297.4" r="0.75"/><circle cx="420.9" cy="296.6" r="0.75"/><circle cx="416.9" cy="297.3" r="0.75"/><circle cx="422.0" cy="296.5" r="0.75"/><circle cx="425.3" cy="295.6" r="0.75"/><circle cx="420.6" cy="296.6" r="0.75"/><circle cx="422.1" cy="294.8" r="0.75"/><circle cx="416.0" cy="296.1" r="0.75"/><circle cx="421.4" cy="297.1" r="0.75"/><circle cx="411.7" cy="295.1" r="0.75"/><circle cx="415.6" cy="296.5" r="0.75"/><circle cx="419.4" cy="297.2" r="0.75"/><circle cx="412.4" cy="297.0" r="0.75"/><circle cx="421.0" cy="296.9" r="0.75"/><circle cx="427.0" cy="291.7" r="0.75"/><circle cx="416.0" cy="296.9" r="0.75"/><circle cx="419.4" cy="296.8" r="0.75"/><circle cx="417.7" cy="296.2" r="0.75"/><circle cx="419.0" cy="297.2" r="0.75"/><circle cx="419.0" cy="297.2" r="0.75"/><circle cx="427.1" cy="297.2" r="0.75"/><circle cx="417.7" cy="297.4" r="0.75"/><circle cx="422.1" cy="297.3" r="0.75"/><circle cx="413.8" cy="296.3" r="0.75"/><circle cx="420.9" cy="296.8" r="0.75"/><circle cx="418.4" cy="297.3" r="0.75"/><circle cx="417.2" cy="296.2" r="0.75"/><circle cx="414.8" cy="297.4" r="0.75"/><circle cx="425.3" cy="295.9" r="0.75"/><circle cx="413.6" cy="297.1" r="0.75"/><circle cx="425.4" cy="294.2" r="0.75"/><circle cx="412.5" cy="294.2" r="0.75"/><circle cx="414.8" cy="296.6" r="0.75"/><circle cx="420.9" cy="297.4" r="0.75"/><circle cx="426.1" cy="296.2" r="0.75"/><circle cx="413.7" cy="294.4" r="0.75"/><circle cx="413.2" cy="297.3" r="0.75"/><circle cx="421.7" cy="297.0" r="0.75"/><circle cx="425.5" cy="293.6" r="0.75"/><circle cx="414.7" cy="297.3" r="0.75"/><circle cx="420.9" cy="297.1" r="0.75"/><circle cx="416.2" cy="295.4" r="0.75"/><circle cx="414.8" cy="296.0" r="0.75"/><circle cx="412.6" cy="290.3" r="0.75"/><circle cx="426.3" cy="294.5" r="0.75"/><circle cx="416.5" cy="296.5" r="0.75"/><circle cx="425.6" cy="293.5" r="0.75"/><circle cx="412.1" cy="295.2" r="0.75"/><circle cx="413.7" cy="295.8" r="0.75"/><circle cx="426.3" cy="291.2" r="0.75"/><circle cx="415.4" cy="296.5" r="0.75"/><circle cx="416.5" cy="297.3" r="0.75"/><circle cx="423.1" cy="295.9" r="0.75"/><circle cx="416.8" cy="297.1" r="0.75"/><circle cx="422.4" cy="296.4" r="0.75"/><circle cx="418.7" cy="297.4" r="0.75"/><circle cx="413.0" cy="296.9" r="0.75"/><circle cx="424.4" cy="296.2" r="0.75"/><circle cx="421.6" cy="297.1" r="0.75"/><circle cx="417.3" cy="297.3" r="0.75"/><circle cx="426.7" cy="294.2" r="0.75"/><circle cx="413.5" cy="294.8" r="0.75"/><circle cx="420.8" cy="297.0" r="0.75"/><circle cx="423.5" cy="296.2" r="0.75"/><circle cx="425.2" cy="289.7" r="0.75"/><circle cx="417.8" cy="297.0" r="0.75"/><circle cx="417.3" cy="297.1" r="0.75"/><circle cx="417.2" cy="296.8" r="0.75"/><circle cx="417.0" cy="297.1" r="0.75"/><circle cx="424.7" cy="294.4" r="0.75"/><circle cx="422.0" cy="296.1" r="0.75"/><circle cx="417.5" cy="296.9" r="0.75"/><circle cx="415.4" cy="297.0" r="0.75"/><circle cx="413.1" cy="293.5" r="0.75"/><circle cx="425.9" cy="296.4" r="0.75"/><circle cx="417.4" cy="297.3" r="0.75"/><circle cx="413.7" cy="295.4" r="0.75"/><circle cx="425.4" cy="297.2" r="0.75"/><circle cx="415.5" cy="295.9" r="0.75"/><circle cx="415.0" cy="294.7" r="0.75"/><circle cx="417.0" cy="297.0" r="0.75"/><circle cx="414.6" cy="296.9" r="0.75"/><circle cx="418.1" cy="297.3" r="0.75"/><circle cx="422.9" cy="297.4" r="0.75"/><circle cx="421.5" cy="296.5" r="0.75"/><circle cx="416.6" cy="297.3" r="0.75"/><circle cx="413.4" cy="297.2" r="0.75"/><circle cx="423.9" cy="296.1" r="0.75"/><circle cx="411.7" cy="295.2" r="0.75"/><circle cx="420.8" cy="297.2" r="0.75"/><circle cx="412.0" cy="295.6" r="0.75"/><circle cx="417.0" cy="295.3" r="0.75"/><circle cx="417.1" cy="296.0" r="0.75"/><circle cx="425.0" cy="295.6" r="0.75"/><circle cx="413.5" cy="293.8" r="0.75"/><circle cx="412.9" cy="295.3" r="0.75"/><circle cx="413.0" cy="297.2" r="0.75"/><circle cx="417.9" cy="297.3" r="0.75"/><circle cx="427.0" cy="294.2" r="0.75"/><circle cx="425.5" cy="289.8" r="0.75"/><circle cx="423.3" cy="296.2" r="0.75"/><circle cx="418.9" cy="296.9" r="0.75"/><circle cx="421.9" cy="297.3" r="0.75"/><circle cx="419.8" cy="297.2" r="0.75"/><circle cx="419.5" cy="297.0" r="0.75"/><circle cx="422.2" cy="296.8" r="0.75"/><circle cx="423.8" cy="295.0" r="0.75"/><circle cx="412.9" cy="297.0" r="0.75"/><circle cx="412.2" cy="296.9" r="0.75"/><circle cx="426.5" cy="296.2" r="0.75"/><circle cx="418.3" cy="297.2" r="0.75"/><circle cx="420.3" cy="297.3" r="0.75"/><circle cx="423.6" cy="296.9" r="0.75"/><circle cx="424.7" cy="294.4" r="0.75"/><circle cx="411.5" cy="294.4" r="0.75"/><circle cx="413.0" cy="291.9" r="0.75"/><circle cx="412.6" cy="296.5" r="0.75"/><circle cx="423.5" cy="296.3" r="0.75"/><circle cx="421.9" cy="297.1" r="0.75"/><circle cx="419.6" cy="297.3" r="0.75"/><circle cx="418.7" cy="297.3" r="0.75"/><circle cx="422.0" cy="297.3" r="0.75"/><circle cx="413.6" cy="297.0" r="0.75"/><circle cx="419.8" cy="297.1" r="0.75"/><circle cx="411.5" cy="293.6" r="0.75"/><circle cx="417.4" cy="297.3" r="0.75"/><circle cx="424.4" cy="291.0" r="0.75"/><circle cx="414.3" cy="295.1" r="0.75"/><circle cx="424.3" cy="292.9" r="0.75"/><circle cx="414.8" cy="297.2" r="0.75"/><circle cx="414.1" cy="296.9" r="0.75"/><circle cx="425.5" cy="291.5" r="0.75"/><circle cx="418.9" cy="297.4" r="0.75"/><circle cx="417.0" cy="297.2" r="0.75"/><circle cx="421.6" cy="296.7" r="0.75"/><circle cx="423.6" cy="296.7" r="0.75"/><circle cx="418.6" cy="297.2" r="0.75"/><circle cx="417.3" cy="297.1" r="0.75"/><circle cx="422.2" cy="296.5" r="0.75"/><circle cx="416.6" cy="296.8" r="0.75"/><circle cx="413.8" cy="297.3" r="0.75"/><circle cx="417.5" cy="297.2" r="0.75"/><circle cx="412.0" cy="297.1" r="0.75"/><circle cx="418.1" cy="296.3" r="0.75"/><circle cx="424.6" cy="297.3" r="0.75"/><circle cx="416.4" cy="297.1" r="0.75"/><circle cx="416.4" cy="297.3" r="0.75"/><circle cx="420.7" cy="296.6" r="0.75"/><circle cx="417.5" cy="297.3" r="0.75"/><circle cx="413.1" cy="297.4" r="0.75"/><circle cx="423.4" cy="297.1" r="0.75"/><circle cx="422.8" cy="295.9" r="0.75"/><circle cx="412.8" cy="296.8" r="0.75"/><circle cx="416.4" cy="296.3" r="0.75"/><circle cx="423.0" cy="297.0" r="0.75"/><circle cx="418.5" cy="297.2" r="0.75"/><circle cx="418.9" cy="296.8" r="0.75"/><circle cx="415.6" cy="295.7" r="0.75"/><circle cx="425.9" cy="294.9" r="0.75"/><circle cx="426.5" cy="288.5" r="0.75"/><circle cx="414.2" cy="289.2" r="0.75"/><circle cx="414.6" cy="295.0" r="0.75"/><circle cx="413.4" cy="296.6" r="0.75"/><circle cx="418.4" cy="296.7" r="0.75"/><circle cx="422.1" cy="297.2" r="0.75"/><circle cx="425.5" cy="292.5" r="0.75"/><circle cx="419.5" cy="297.4" r="0.75"/><circle cx="416.0" cy="297.1" r="0.75"/><circle cx="418.0" cy="296.2" r="0.75"/><circle cx="420.8" cy="296.7" r="0.75"/><circle cx="412.6" cy="296.6" r="0.75"/><circle cx="422.9" cy="297.0" r="0.75"/><circle cx="415.0" cy="297.3" r="0.75"/><circle cx="412.3" cy="295.8" r="0.75"/><circle cx="420.0" cy="297.2" r="0.75"/><circle cx="420.3" cy="297.3" r="0.75"/><circle cx="411.8" cy="293.4" r="0.75"/><circle cx="416.7" cy="297.0" r="0.75"/><circle cx="417.4" cy="297.2" r="0.75"/><circle cx="412.3" cy="296.3" r="0.75"/><circle cx="416.1" cy="297.3" r="0.75"/><circle cx="412.0" cy="295.2" r="0.75"/><circle cx="411.8" cy="290.0" r="0.75"/><circle cx="417.1" cy="297.1" r="0.75"/><circle cx="419.7" cy="297.4" r="0.75"/><circle cx="413.1" cy="293.7" r="0.75"/><circle cx="420.2" cy="297.1" r="0.75"/><circle cx="416.9" cy="296.6" r="0.75"/><circle cx="419.3" cy="296.9" r="0.75"/><circle cx="424.5" cy="293.4" r="0.75"/><circle cx="422.8" cy="296.3" r="0.75"/><circle cx="418.7" cy="297.1" r="0.75"/><circle cx="420.5" cy="297.1" r="0.75"/><circle cx="424.3" cy="294.2" r="0.75"/><circle cx="412.3" cy="293.1" r="0.75"/><circle cx="421.1" cy="297.0" r="0.75"/><circle cx="425.7" cy="297.3" r="0.75"/><circle cx="418.9" cy="297.2" r="0.75"/><circle cx="426.3" cy="296.9" r="0.75"/><circle cx="420.3" cy="297.3" r="0.75"/><circle cx="423.3" cy="296.6" r="0.75"/><circle cx="423.0" cy="297.0" r="0.75"/><circle cx="425.3" cy="297.4" r="0.75"/><circle cx="415.0" cy="295.7" r="0.75"/><circle cx="425.2" cy="294.1" r="0.75"/><circle cx="415.8" cy="297.3" r="0.75"/><circle cx="422.6" cy="296.3" r="0.75"/><circle cx="412.4" cy="289.4" r="0.75"/><circle cx="419.7" cy="297.4" r="0.75"/><circle cx="419.0" cy="297.3" r="0.75"/><circle cx="413.1" cy="292.2" r="0.75"/><circle cx="426.1" cy="297.0" r="0.75"/><circle cx="418.5" cy="297.3" r="0.75"/><circle cx="422.0" cy="297.3" r="0.75"/><circle cx="416.7" cy="297.1" r="0.75"/><circle cx="418.9" cy="297.2" r="0.75"/><circle cx="420.8" cy="296.2" r="0.75"/><circle cx="426.0" cy="290.7" r="0.75"/><circle cx="424.4" cy="297.0" r="0.75"/><circle cx="415.3" cy="296.7" r="0.75"/><circle cx="421.5" cy="296.9" r="0.75"/><circle cx="417.0" cy="294.6" r="0.75"/><circle cx="416.4" cy="297.4" r="0.75"/><circle cx="412.9" cy="296.8" r="0.75"/><circle cx="422.9" cy="295.6" r="0.75"/><circle cx="412.2" cy="296.5" r="0.75"/><circle cx="415.3" cy="295.6" r="0.75"/></g>
<g fill="#a51a1a" fill-opacity="0.8"><circle cx="406.0" cy="288.3" r="0.72"/><circle cx="405.8" cy="292.9" r="0.72"/><circle cx="409.2" cy="295.3" r="0.72"/><circle cx="407.9" cy="292.8" r="0.72"/><circle cx="401.9" cy="292.3" r="0.72"/><circle cx="411.1" cy="298.0" r="0.72"/><circle cx="409.2" cy="297.2" r="0.72"/><circle cx="405.8" cy="290.2" r="0.72"/><circle cx="404.9" cy="292.8" r="0.72"/><circle cx="401.7" cy="291.5" r="0.72"/><circle cx="392.4" cy="283.5" r="0.72"/><circle cx="408.7" cy="296.9" r="0.72"/><circle cx="397.6" cy="280.5" r="0.72"/><circle cx="406.9" cy="291.2" r="0.72"/><circle cx="410.4" cy="295.2" r="0.72"/><circle cx="408.3" cy="296.0" r="0.72"/><circle cx="409.9" cy="297.4" r="0.72"/><circle cx="410.5" cy="297.6" r="0.72"/><circle cx="404.2" cy="293.8" r="0.72"/><circle cx="402.2" cy="291.1" r="0.72"/><circle cx="408.9" cy="289.8" r="0.72"/><circle cx="406.8" cy="293.4" r="0.72"/><circle cx="410.1" cy="297.3" r="0.72"/><circle cx="408.4" cy="296.1" r="0.72"/><circle cx="408.0" cy="296.5" r="0.72"/><circle cx="403.7" cy="291.0" r="0.72"/><circle cx="407.1" cy="288.1" r="0.72"/><circle cx="405.5" cy="289.3" r="0.72"/><circle cx="409.2" cy="292.5" r="0.72"/><circle cx="409.2" cy="291.6" r="0.72"/><circle cx="409.1" cy="292.9" r="0.72"/><circle cx="403.2" cy="293.5" r="0.72"/><circle cx="410.8" cy="297.6" r="0.72"/><circle cx="400.3" cy="284.4" r="0.72"/><circle cx="403.4" cy="293.3" r="0.72"/><circle cx="408.8" cy="293.0" r="0.72"/><circle cx="403.0" cy="284.6" r="0.72"/><circle cx="408.3" cy="296.7" r="0.72"/><circle cx="409.3" cy="295.7" r="0.72"/><circle cx="409.8" cy="293.4" r="0.72"/><circle cx="400.8" cy="291.6" r="0.72"/><circle cx="402.4" cy="288.4" r="0.72"/><circle cx="407.8" cy="296.4" r="0.72"/><circle cx="404.4" cy="287.1" r="0.72"/><circle cx="399.0" cy="283.6" r="0.72"/><circle cx="401.0" cy="283.8" r="0.72"/><circle cx="406.5" cy="290.5" r="0.72"/><circle cx="403.9" cy="292.7" r="0.72"/><circle cx="403.7" cy="293.9" r="0.72"/><circle cx="402.3" cy="285.2" r="0.72"/><circle cx="399.4" cy="285.2" r="0.72"/><circle cx="403.7" cy="287.9" r="0.72"/><circle cx="410.3" cy="297.7" r="0.72"/><circle cx="403.3" cy="293.0" r="0.72"/><circle cx="400.5" cy="288.0" r="0.72"/><circle cx="411.2" cy="296.4" r="0.72"/><circle cx="409.0" cy="292.3" r="0.72"/><circle cx="401.7" cy="284.1" r="0.72"/><circle cx="407.7" cy="296.0" r="0.72"/><circle cx="406.3" cy="289.0" r="0.72"/><circle cx="403.7" cy="293.7" r="0.72"/><circle cx="405.3" cy="289.5" r="0.72"/><circle cx="400.0" cy="290.3" r="0.72"/><circle cx="409.4" cy="296.8" r="0.72"/><circle cx="408.9" cy="295.1" r="0.72"/><circle cx="405.4" cy="289.7" r="0.72"/><circle cx="400.1" cy="290.2" r="0.72"/><circle cx="409.7" cy="297.5" r="0.72"/><circle cx="402.6" cy="289.7" r="0.72"/><circle cx="401.9" cy="280.5" r="0.72"/><circle cx="401.0" cy="289.7" r="0.72"/><circle cx="405.7" cy="294.9" r="0.72"/><circle cx="408.3" cy="294.2" r="0.72"/><circle cx="404.9" cy="290.5" r="0.72"/><circle cx="406.8" cy="289.9" r="0.72"/><circle cx="410.2" cy="295.5" r="0.72"/><circle cx="409.8" cy="295.7" r="0.72"/><circle cx="404.0" cy="289.0" r="0.72"/><circle cx="402.0" cy="288.1" r="0.72"/><circle cx="394.3" cy="280.0" r="0.72"/><circle cx="408.9" cy="288.9" r="0.72"/><circle cx="407.4" cy="295.0" r="0.72"/><circle cx="404.4" cy="292.4" r="0.72"/><circle cx="410.9" cy="297.9" r="0.72"/><circle cx="407.6" cy="296.1" r="0.72"/><circle cx="409.6" cy="295.0" r="0.72"/><circle cx="392.4" cy="267.4" r="0.72"/><circle cx="405.4" cy="295.0" r="0.72"/><circle cx="408.8" cy="296.4" r="0.72"/><circle cx="399.3" cy="287.8" r="0.72"/><circle cx="407.8" cy="292.2" r="0.72"/><circle cx="391.3" cy="280.1" r="0.72"/><circle cx="403.9" cy="291.7" r="0.72"/><circle cx="405.2" cy="295.0" r="0.72"/><circle cx="406.7" cy="293.8" r="0.72"/><circle cx="405.4" cy="295.0" r="0.72"/><circle cx="404.6" cy="284.6" r="0.72"/><circle cx="405.7" cy="293.8" r="0.72"/><circle cx="394.5" cy="283.8" r="0.72"/><circle cx="407.8" cy="294.3" r="0.72"/><circle cx="409.1" cy="294.9" r="0.72"/><circle cx="407.7" cy="294.2" r="0.72"/><circle cx="410.0" cy="297.5" r="0.72"/><circle cx="405.1" cy="294.4" r="0.72"/><circle cx="404.7" cy="293.3" r="0.72"/><circle cx="406.6" cy="295.5" r="0.72"/><circle cx="409.0" cy="295.1" r="0.72"/><circle cx="404.7" cy="291.8" r="0.72"/><circle cx="398.8" cy="279.9" r="0.72"/><circle cx="407.8" cy="290.5" r="0.72"/><circle cx="408.9" cy="292.5" r="0.72"/><circle cx="409.7" cy="295.1" r="0.72"/><circle cx="408.4" cy="293.0" r="0.72"/><circle cx="406.5" cy="295.5" r="0.72"/><circle cx="406.7" cy="296.0" r="0.72"/><circle cx="409.0" cy="292.2" r="0.72"/><circle cx="405.2" cy="293.0" r="0.72"/><circle cx="400.9" cy="292.0" r="0.72"/><circle cx="404.3" cy="291.8" r="0.72"/><circle cx="409.6" cy="297.1" r="0.72"/><circle cx="392.4" cy="269.3" r="0.72"/><circle cx="397.7" cy="286.8" r="0.72"/><circle cx="405.0" cy="292.1" r="0.72"/><circle cx="411.2" cy="295.3" r="0.72"/><circle cx="409.2" cy="294.6" r="0.72"/><circle cx="406.7" cy="295.5" r="0.72"/><circle cx="405.0" cy="288.1" r="0.72"/><circle cx="395.5" cy="277.4" r="0.72"/><circle cx="402.6" cy="290.0" r="0.72"/><circle cx="405.2" cy="290.1" r="0.72"/><circle cx="408.4" cy="293.9" r="0.72"/><circle cx="397.0" cy="286.8" r="0.72"/><circle cx="384.7" cy="269.6" r="0.72"/><circle cx="397.6" cy="287.3" r="0.72"/><circle cx="407.5" cy="296.4" r="0.72"/><circle cx="407.3" cy="293.9" r="0.72"/><circle cx="408.7" cy="294.7" r="0.72"/><circle cx="407.5" cy="294.4" r="0.72"/><circle cx="404.7" cy="265.8" r="0.72"/><circle cx="402.2" cy="287.7" r="0.72"/><circle cx="402.9" cy="292.6" r="0.72"/><circle cx="406.7" cy="295.4" r="0.72"/><circle cx="407.1" cy="295.5" r="0.72"/><circle cx="405.1" cy="292.5" r="0.72"/><circle cx="403.4" cy="293.8" r="0.72"/><circle cx="405.7" cy="293.4" r="0.72"/><circle cx="403.0" cy="283.2" r="0.72"/><circle cx="406.5" cy="293.4" r="0.72"/><circle cx="407.2" cy="293.6" r="0.72"/><circle cx="404.1" cy="290.3" r="0.72"/><circle cx="409.5" cy="296.5" r="0.72"/><circle cx="410.6" cy="293.2" r="0.72"/><circle cx="410.4" cy="296.9" r="0.72"/><circle cx="405.6" cy="294.6" r="0.72"/><circle cx="404.9" cy="290.9" r="0.72"/><circle cx="405.8" cy="290.5" r="0.72"/><circle cx="403.2" cy="290.4" r="0.72"/><circle cx="406.0" cy="295.4" r="0.72"/><circle cx="404.8" cy="293.0" r="0.72"/><circle cx="401.5" cy="291.5" r="0.72"/><circle cx="403.7" cy="289.0" r="0.72"/><circle cx="404.7" cy="285.1" r="0.72"/><circle cx="399.1" cy="290.5" r="0.72"/><circle cx="402.7" cy="292.4" r="0.72"/><circle cx="401.0" cy="288.6" r="0.72"/><circle cx="402.5" cy="292.6" r="0.72"/><circle cx="408.5" cy="291.6" r="0.72"/><circle cx="410.5" cy="297.0" r="0.72"/><circle cx="402.7" cy="290.7" r="0.72"/><circle cx="401.2" cy="288.5" r="0.72"/><circle cx="407.1" cy="295.6" r="0.72"/><circle cx="407.5" cy="291.9" r="0.72"/><circle cx="410.4" cy="295.0" r="0.72"/><circle cx="402.7" cy="292.7" r="0.72"/><circle cx="406.4" cy="291.3" r="0.72"/><circle cx="407.2" cy="284.7" r="0.72"/><circle cx="407.7" cy="293.2" r="0.72"/><circle cx="407.2" cy="290.9" r="0.72"/><circle cx="404.1" cy="290.5" r="0.72"/><circle cx="408.0" cy="296.5" r="0.72"/><circle cx="408.9" cy="297.0" r="0.72"/><circle cx="407.9" cy="293.9" r="0.72"/><circle cx="408.2" cy="295.8" r="0.72"/><circle cx="399.5" cy="290.7" r="0.72"/><circle cx="400.1" cy="280.8" r="0.72"/><circle cx="406.2" cy="294.7" r="0.72"/><circle cx="407.8" cy="290.1" r="0.72"/><circle cx="407.2" cy="295.2" r="0.72"/><circle cx="406.8" cy="295.5" r="0.72"/><circle cx="404.1" cy="291.8" r="0.72"/><circle cx="409.3" cy="293.1" r="0.72"/><circle cx="405.0" cy="292.4" r="0.72"/><circle cx="404.4" cy="294.4" r="0.72"/><circle cx="410.3" cy="293.8" r="0.72"/><circle cx="410.2" cy="297.5" r="0.72"/><circle cx="398.6" cy="289.3" r="0.72"/><circle cx="408.8" cy="295.6" r="0.72"/><circle cx="397.7" cy="287.9" r="0.72"/><circle cx="405.4" cy="291.4" r="0.72"/><circle cx="400.2" cy="289.5" r="0.72"/><circle cx="393.6" cy="275.3" r="0.72"/><circle cx="395.2" cy="275.7" r="0.72"/><circle cx="404.8" cy="289.8" r="0.72"/><circle cx="406.5" cy="295.4" r="0.72"/><circle cx="398.8" cy="288.6" r="0.72"/><circle cx="409.4" cy="296.3" r="0.72"/><circle cx="408.1" cy="296.6" r="0.72"/><circle cx="407.9" cy="294.2" r="0.72"/><circle cx="410.5" cy="296.4" r="0.72"/><circle cx="410.0" cy="297.2" r="0.72"/><circle cx="408.7" cy="295.1" r="0.72"/><circle cx="408.8" cy="296.4" r="0.72"/><circle cx="409.3" cy="296.6" r="0.72"/><circle cx="404.4" cy="292.5" r="0.72"/><circle cx="408.4" cy="291.5" r="0.72"/><circle cx="407.5" cy="288.7" r="0.72"/><circle cx="405.5" cy="295.2" r="0.72"/><circle cx="406.9" cy="294.3" r="0.72"/><circle cx="408.3" cy="294.4" r="0.72"/><circle cx="405.7" cy="290.8" r="0.72"/><circle cx="400.0" cy="290.9" r="0.72"/><circle cx="409.5" cy="296.9" r="0.72"/><circle cx="402.4" cy="292.1" r="0.72"/><circle cx="404.6" cy="290.1" r="0.72"/><circle cx="411.4" cy="295.5" r="0.72"/><circle cx="408.3" cy="296.7" r="0.72"/><circle cx="405.6" cy="286.2" r="0.72"/><circle cx="403.6" cy="292.9" r="0.72"/><circle cx="396.3" cy="275.6" r="0.72"/><circle cx="410.2" cy="297.3" r="0.72"/><circle cx="404.5" cy="294.1" r="0.72"/><circle cx="407.9" cy="295.8" r="0.72"/><circle cx="405.8" cy="294.2" r="0.72"/><circle cx="406.8" cy="287.1" r="0.72"/><circle cx="393.3" cy="286.6" r="0.72"/><circle cx="407.1" cy="295.5" r="0.72"/><circle cx="404.1" cy="294.4" r="0.72"/><circle cx="409.0" cy="296.5" r="0.72"/><circle cx="407.1" cy="295.3" r="0.72"/><circle cx="407.5" cy="293.8" r="0.72"/><circle cx="408.5" cy="294.0" r="0.72"/><circle cx="407.6" cy="294.5" r="0.72"/><circle cx="399.6" cy="283.4" r="0.72"/><circle cx="410.2" cy="297.6" r="0.72"/><circle cx="401.2" cy="291.7" r="0.72"/><circle cx="406.7" cy="293.6" r="0.72"/><circle cx="410.2" cy="297.5" r="0.72"/><circle cx="409.8" cy="297.5" r="0.72"/><circle cx="405.1" cy="290.5" r="0.72"/><circle cx="407.6" cy="296.5" r="0.72"/><circle cx="406.7" cy="285.4" r="0.72"/><circle cx="396.3" cy="283.9" r="0.72"/><circle cx="411.1" cy="297.4" r="0.72"/><circle cx="402.0" cy="291.2" r="0.72"/><circle cx="405.1" cy="289.7" r="0.72"/><circle cx="403.0" cy="288.5" r="0.72"/><circle cx="407.4" cy="296.0" r="0.72"/><circle cx="400.0" cy="288.4" r="0.72"/><circle cx="399.9" cy="290.6" r="0.72"/><circle cx="409.1" cy="296.7" r="0.72"/><circle cx="403.8" cy="292.9" r="0.72"/><circle cx="405.9" cy="285.0" r="0.72"/><circle cx="409.7" cy="296.1" r="0.72"/><circle cx="404.1" cy="293.4" r="0.72"/><circle cx="382.0" cy="261.6" r="0.72"/><circle cx="403.3" cy="287.7" r="0.72"/><circle cx="408.1" cy="296.1" r="0.72"/><circle cx="403.9" cy="293.6" r="0.72"/><circle cx="404.4" cy="294.5" r="0.72"/><circle cx="409.3" cy="291.7" r="0.72"/><circle cx="401.8" cy="288.5" r="0.72"/><circle cx="399.0" cy="286.8" r="0.72"/><circle cx="409.1" cy="296.9" r="0.72"/><circle cx="406.9" cy="295.6" r="0.72"/><circle cx="404.9" cy="292.3" r="0.72"/><circle cx="407.6" cy="296.4" r="0.72"/><circle cx="401.4" cy="279.7" r="0.72"/><circle cx="403.3" cy="292.0" r="0.72"/><circle cx="402.7" cy="288.3" r="0.72"/><circle cx="398.3" cy="265.3" r="0.72"/><circle cx="392.6" cy="282.7" r="0.72"/><circle cx="406.3" cy="289.2" r="0.72"/><circle cx="404.8" cy="293.1" r="0.72"/><circle cx="410.6" cy="294.1" r="0.72"/><circle cx="399.2" cy="284.7" r="0.72"/><circle cx="407.9" cy="296.5" r="0.72"/><circle cx="409.8" cy="296.3" r="0.72"/><circle cx="406.8" cy="292.9" r="0.72"/><circle cx="404.8" cy="293.7" r="0.72"/><circle cx="406.8" cy="295.9" r="0.72"/><circle cx="381.5" cy="266.5" r="0.72"/><circle cx="398.6" cy="279.5" r="0.72"/><circle cx="410.1" cy="297.5" r="0.72"/><circle cx="404.6" cy="294.7" r="0.72"/><circle cx="408.6" cy="296.2" r="0.72"/><circle cx="410.5" cy="295.0" r="0.72"/><circle cx="406.8" cy="293.7" r="0.72"/><circle cx="405.3" cy="283.7" r="0.72"/><circle cx="405.7" cy="294.4" r="0.72"/><circle cx="409.1" cy="296.4" r="0.72"/><circle cx="405.7" cy="289.2" r="0.72"/><circle cx="402.5" cy="285.4" r="0.72"/><circle cx="399.5" cy="280.8" r="0.72"/><circle cx="409.7" cy="292.3" r="0.72"/><circle cx="406.1" cy="295.0" r="0.72"/><circle cx="407.9" cy="296.2" r="0.72"/><circle cx="409.2" cy="295.1" r="0.72"/><circle cx="401.7" cy="289.3" r="0.72"/><circle cx="408.7" cy="291.5" r="0.72"/><circle cx="401.5" cy="288.7" r="0.72"/><circle cx="410.2" cy="296.7" r="0.72"/><circle cx="404.8" cy="294.7" r="0.72"/><circle cx="403.3" cy="292.9" r="0.72"/><circle cx="408.1" cy="296.1" r="0.72"/><circle cx="408.2" cy="296.4" r="0.72"/><circle cx="384.6" cy="279.1" r="0.72"/><circle cx="405.9" cy="294.1" r="0.72"/><circle cx="409.3" cy="295.3" r="0.72"/><circle cx="407.3" cy="292.5" r="0.72"/><circle cx="405.0" cy="289.2" r="0.72"/><circle cx="401.0" cy="279.8" r="0.72"/><circle cx="409.3" cy="297.0" r="0.72"/><circle cx="403.1" cy="291.7" r="0.72"/><circle cx="397.2" cy="281.7" r="0.72"/><circle cx="408.7" cy="296.5" r="0.72"/><circle cx="403.7" cy="294.1" r="0.72"/><circle cx="403.4" cy="291.0" r="0.72"/><circle cx="405.3" cy="293.4" r="0.72"/><circle cx="408.4" cy="296.8" r="0.72"/><circle cx="404.5" cy="293.8" r="0.72"/><circle cx="409.6" cy="297.4" r="0.72"/><circle cx="407.8" cy="294.8" r="0.72"/><circle cx="408.4" cy="296.7" r="0.72"/><circle cx="408.5" cy="294.4" r="0.72"/><circle cx="393.2" cy="286.2" r="0.72"/><circle cx="406.6" cy="295.3" r="0.72"/><circle cx="405.4" cy="282.4" r="0.72"/><circle cx="409.6" cy="294.9" r="0.72"/><circle cx="410.8" cy="294.4" r="0.72"/><circle cx="409.6" cy="296.9" r="0.72"/><circle cx="406.4" cy="295.8" r="0.72"/><circle cx="399.1" cy="289.7" r="0.72"/><circle cx="404.3" cy="292.5" r="0.72"/><circle cx="407.5" cy="294.2" r="0.72"/><circle cx="410.8" cy="296.3" r="0.72"/><circle cx="410.5" cy="295.9" r="0.72"/><circle cx="406.8" cy="294.8" r="0.72"/><circle cx="407.4" cy="294.4" r="0.72"/><circle cx="409.4" cy="297.0" r="0.72"/><circle cx="405.8" cy="293.8" r="0.72"/><circle cx="407.0" cy="293.1" r="0.72"/><circle cx="407.2" cy="296.3" r="0.72"/><circle cx="409.2" cy="296.3" r="0.72"/><circle cx="408.3" cy="296.5" r="0.72"/><circle cx="397.6" cy="278.1" r="0.72"/><circle cx="411.0" cy="297.3" r="0.72"/><circle cx="410.3" cy="297.1" r="0.72"/><circle cx="397.4" cy="289.5" r="0.72"/><circle cx="406.8" cy="296.0" r="0.72"/><circle cx="409.6" cy="297.4" r="0.72"/><circle cx="407.8" cy="294.8" r="0.72"/><circle cx="409.7" cy="297.0" r="0.72"/><circle cx="399.5" cy="290.6" r="0.72"/><circle cx="409.0" cy="294.6" r="0.72"/><circle cx="406.7" cy="290.6" r="0.72"/><circle cx="408.8" cy="296.2" r="0.72"/><circle cx="411.0" cy="296.8" r="0.72"/><circle cx="395.0" cy="285.9" r="0.72"/><circle cx="401.4" cy="291.7" r="0.72"/><circle cx="400.8" cy="279.3" r="0.72"/><circle cx="402.5" cy="291.3" r="0.72"/><circle cx="406.9" cy="294.8" r="0.72"/><circle cx="407.7" cy="295.7" r="0.72"/><circle cx="409.5" cy="296.2" r="0.72"/><circle cx="409.4" cy="296.9" r="0.72"/><circle cx="410.2" cy="296.8" r="0.72"/><circle cx="409.6" cy="295.2" r="0.72"/><circle cx="404.3" cy="294.5" r="0.72"/><circle cx="406.9" cy="295.9" r="0.72"/><circle cx="406.7" cy="294.2" r="0.72"/><circle cx="403.6" cy="292.8" r="0.72"/><circle cx="407.4" cy="294.3" r="0.72"/><circle cx="408.4" cy="296.5" r="0.72"/><circle cx="405.8" cy="286.4" r="0.72"/><circle cx="407.2" cy="289.1" r="0.72"/><circle cx="397.3" cy="284.8" r="0.72"/><circle cx="406.6" cy="295.1" r="0.72"/><circle cx="393.4" cy="283.7" r="0.72"/><circle cx="409.7" cy="296.9" r="0.72"/><circle cx="407.3" cy="295.9" r="0.72"/><circle cx="409.1" cy="295.0" r="0.72"/><circle cx="404.5" cy="293.8" r="0.72"/><circle cx="405.4" cy="292.8" r="0.72"/><circle cx="402.7" cy="287.0" r="0.72"/><circle cx="407.4" cy="295.5" r="0.72"/><circle cx="399.9" cy="286.4" r="0.72"/><circle cx="409.5" cy="296.1" r="0.72"/><circle cx="404.1" cy="293.3" r="0.72"/><circle cx="398.5" cy="289.3" r="0.72"/><circle cx="408.5" cy="296.6" r="0.72"/><circle cx="405.0" cy="294.8" r="0.72"/><circle cx="406.0" cy="293.8" r="0.72"/><circle cx="409.4" cy="293.4" r="0.72"/><circle cx="410.6" cy="296.8" r="0.72"/><circle cx="399.9" cy="286.0" r="0.72"/><circle cx="407.7" cy="293.1" r="0.72"/><circle cx="392.2" cy="280.3" r="0.72"/><circle cx="406.5" cy="293.2" r="0.72"/><circle cx="393.2" cy="285.7" r="0.72"/><circle cx="407.1" cy="295.5" r="0.72"/><circle cx="403.6" cy="281.9" r="0.72"/><circle cx="409.7" cy="296.5" r="0.72"/><circle cx="402.5" cy="283.3" r="0.72"/><circle cx="410.7" cy="295.8" r="0.72"/><circle cx="404.5" cy="293.2" r="0.72"/><circle cx="407.9" cy="292.3" r="0.72"/><circle cx="408.2" cy="294.6" r="0.72"/><circle cx="397.7" cy="287.5" r="0.72"/><circle cx="400.7" cy="285.3" r="0.72"/><circle cx="409.6" cy="297.3" r="0.72"/><circle cx="405.5" cy="294.1" r="0.72"/><circle cx="411.1" cy="297.8" r="0.72"/><circle cx="402.7" cy="292.6" r="0.72"/><circle cx="405.6" cy="294.4" r="0.72"/><circle cx="410.3" cy="296.7" r="0.72"/><circle cx="406.6" cy="294.6" r="0.72"/><circle cx="410.6" cy="296.1" r="0.72"/><circle cx="402.7" cy="283.2" r="0.72"/><circle cx="389.7" cy="279.6" r="0.72"/><circle cx="393.0" cy="285.2" r="0.72"/><circle cx="410.9" cy="297.9" r="0.72"/><circle cx="410.4" cy="295.4" r="0.72"/><circle cx="407.9" cy="296.6" r="0.72"/><circle cx="408.9" cy="297.2" r="0.72"/><circle cx="404.8" cy="289.9" r="0.72"/><circle cx="399.1" cy="283.5" r="0.72"/><circle cx="393.5" cy="260.9" r="0.72"/><circle cx="410.1" cy="296.8" r="0.72"/><circle cx="400.3" cy="281.5" r="0.72"/><circle cx="411.0" cy="297.7" r="0.72"/><circle cx="406.9" cy="293.3" r="0.72"/><circle cx="402.4" cy="292.1" r="0.72"/><circle cx="410.1" cy="295.3" r="0.72"/><circle cx="408.9" cy="295.5" r="0.72"/><circle cx="401.1" cy="292.0" r="0.72"/><circle cx="409.6" cy="296.4" r="0.72"/><circle cx="411.2" cy="297.4" r="0.72"/><circle cx="407.7" cy="289.3" r="0.72"/><circle cx="409.0" cy="296.4" r="0.72"/><circle cx="406.6" cy="295.5" r="0.72"/><circle cx="408.3" cy="290.2" r="0.72"/><circle cx="407.7" cy="295.5" r="0.72"/><circle cx="402.4" cy="289.5" r="0.72"/><circle cx="408.9" cy="292.6" r="0.72"/><circle cx="405.2" cy="294.7" r="0.72"/><circle cx="392.7" cy="282.3" r="0.72"/><circle cx="401.6" cy="290.8" r="0.72"/><circle cx="408.7" cy="295.3" r="0.72"/><circle cx="405.0" cy="291.9" r="0.72"/><circle cx="406.1" cy="293.1" r="0.72"/><circle cx="405.8" cy="291.6" r="0.72"/><circle cx="407.8" cy="285.8" r="0.72"/><circle cx="406.7" cy="295.7" r="0.72"/><circle cx="408.7" cy="294.8" r="0.72"/><circle cx="395.8" cy="260.7" r="0.72"/><circle cx="410.5" cy="295.8" r="0.72"/><circle cx="408.5" cy="295.7" r="0.72"/><circle cx="404.6" cy="294.1" r="0.72"/><circle cx="408.2" cy="296.7" r="0.72"/><circle cx="404.3" cy="292.3" r="0.72"/><circle cx="408.6" cy="292.8" r="0.72"/><circle cx="397.4" cy="277.8" r="0.72"/><circle cx="407.2" cy="296.2" r="0.72"/><circle cx="407.4" cy="292.0" r="0.72"/><circle cx="409.9" cy="296.7" r="0.72"/><circle cx="402.6" cy="288.6" r="0.72"/><circle cx="409.1" cy="296.1" r="0.72"/><circle cx="411.1" cy="297.5" r="0.72"/><circle cx="402.6" cy="290.0" r="0.72"/><circle cx="400.6" cy="291.5" r="0.72"/><circle cx="400.7" cy="291.6" r="0.72"/><circle cx="409.9" cy="295.9" r="0.72"/><circle cx="407.3" cy="283.1" r="0.72"/><circle cx="400.7" cy="290.3" r="0.72"/><circle cx="407.9" cy="296.3" r="0.72"/><circle cx="402.5" cy="287.0" r="0.72"/><circle cx="406.6" cy="294.1" r="0.72"/><circle cx="400.3" cy="288.2" r="0.72"/><circle cx="408.1" cy="296.0" r="0.72"/><circle cx="390.9" cy="280.6" r="0.72"/><circle cx="398.7" cy="287.9" r="0.72"/><circle cx="410.5" cy="297.3" r="0.72"/><circle cx="406.2" cy="294.7" r="0.72"/><circle cx="400.6" cy="290.9" r="0.72"/><circle cx="406.6" cy="289.9" r="0.72"/><circle cx="408.5" cy="296.1" r="0.72"/><circle cx="394.1" cy="282.0" r="0.72"/><circle cx="404.4" cy="287.3" r="0.72"/><circle cx="410.2" cy="296.9" r="0.72"/><circle cx="399.6" cy="289.5" r="0.72"/><circle cx="384.5" cy="279.0" r="0.72"/><circle cx="402.5" cy="291.7" r="0.72"/><circle cx="405.8" cy="292.3" r="0.72"/><circle cx="403.2" cy="280.4" r="0.72"/><circle cx="393.4" cy="279.4" r="0.72"/><circle cx="405.9" cy="292.4" r="0.72"/><circle cx="408.9" cy="296.7" r="0.72"/><circle cx="407.1" cy="295.0" r="0.72"/><circle cx="409.4" cy="295.5" r="0.72"/><circle cx="398.8" cy="282.9" r="0.72"/><circle cx="399.3" cy="290.6" r="0.72"/><circle cx="405.8" cy="289.7" r="0.72"/><circle cx="411.0" cy="296.9" r="0.72"/><circle cx="404.7" cy="289.8" r="0.72"/><circle cx="408.0" cy="296.4" r="0.72"/><circle cx="404.0" cy="294.1" r="0.72"/><circle cx="405.1" cy="290.4" r="0.72"/><circle cx="408.6" cy="296.9" r="0.72"/><circle cx="408.9" cy="295.4" r="0.72"/><circle cx="405.9" cy="295.2" r="0.72"/><circle cx="406.7" cy="290.6" r="0.72"/><circle cx="394.3" cy="280.1" r="0.72"/><circle cx="409.5" cy="297.4" r="0.72"/><circle cx="410.0" cy="291.5" r="0.72"/><circle cx="402.2" cy="293.0" r="0.72"/><circle cx="406.5" cy="295.1" r="0.72"/><circle cx="410.0" cy="296.9" r="0.72"/><circle cx="405.4" cy="288.7" r="0.72"/><circle cx="405.2" cy="293.6" r="0.72"/><circle cx="408.0" cy="296.0" r="0.72"/><circle cx="407.2" cy="294.6" r="0.72"/><circle cx="407.3" cy="294.8" r="0.72"/><circle cx="410.6" cy="297.8" r="0.72"/><circle cx="404.8" cy="293.2" r="0.72"/><circle cx="408.8" cy="296.2" r="0.72"/><circle cx="407.8" cy="296.0" r="0.72"/><circle cx="398.4" cy="290.5" r="0.72"/><circle cx="406.7" cy="296.0" r="0.72"/><circle cx="403.4" cy="292.4" r="0.72"/><circle cx="403.3" cy="292.7" r="0.72"/><circle cx="403.1" cy="292.4" r="0.72"/><circle cx="405.3" cy="290.9" r="0.72"/><circle cx="408.5" cy="293.5" r="0.72"/><circle cx="406.4" cy="294.4" r="0.72"/><circle cx="408.1" cy="296.6" r="0.72"/><circle cx="407.7" cy="292.4" r="0.72"/><circle cx="396.4" cy="288.7" r="0.72"/><circle cx="402.7" cy="283.8" r="0.72"/><circle cx="399.0" cy="285.7" r="0.72"/><circle cx="410.4" cy="296.8" r="0.72"/><circle cx="398.3" cy="287.6" r="0.72"/><circle cx="406.2" cy="294.7" r="0.72"/><circle cx="409.9" cy="295.6" r="0.72"/><circle cx="404.4" cy="294.2" r="0.72"/><circle cx="407.9" cy="294.7" r="0.72"/><circle cx="406.6" cy="291.0" r="0.72"/><circle cx="409.8" cy="296.4" r="0.72"/><circle cx="410.9" cy="297.3" r="0.72"/><circle cx="401.3" cy="289.8" r="0.72"/><circle cx="400.8" cy="285.9" r="0.72"/><circle cx="428.6" cy="297.4" r="0.72"/><circle cx="435.0" cy="292.7" r="0.72"/><circle cx="429.2" cy="295.7" r="0.72"/><circle cx="433.7" cy="292.3" r="0.72"/><circle cx="434.9" cy="280.5" r="0.72"/><circle cx="430.9" cy="295.9" r="0.72"/><circle cx="430.2" cy="295.0" r="0.72"/><circle cx="430.2" cy="293.1" r="0.72"/><circle cx="431.6" cy="294.7" r="0.72"/><circle cx="435.7" cy="280.1" r="0.72"/><circle cx="433.1" cy="291.1" r="0.72"/><circle cx="428.5" cy="294.3" r="0.72"/><circle cx="427.8" cy="296.7" r="0.72"/><circle cx="434.3" cy="294.0" r="0.72"/><circle cx="429.5" cy="295.3" r="0.72"/><circle cx="428.7" cy="296.0" r="0.72"/><circle cx="454.4" cy="269.0" r="0.72"/><circle cx="431.4" cy="293.1" r="0.72"/><circle cx="430.5" cy="293.8" r="0.72"/><circle cx="430.2" cy="296.9" r="0.72"/><circle cx="434.0" cy="293.6" r="0.72"/><circle cx="430.1" cy="295.5" r="0.72"/><circle cx="430.3" cy="296.1" r="0.72"/><circle cx="433.5" cy="294.5" r="0.72"/><circle cx="448.3" cy="277.7" r="0.72"/><circle cx="434.1" cy="292.2" r="0.72"/><circle cx="436.9" cy="287.0" r="0.72"/><circle cx="432.6" cy="291.9" r="0.72"/><circle cx="434.6" cy="293.5" r="0.72"/><circle cx="428.2" cy="297.7" r="0.72"/><circle cx="434.6" cy="279.3" r="0.72"/><circle cx="430.7" cy="296.5" r="0.72"/><circle cx="427.7" cy="291.6" r="0.72"/><circle cx="437.6" cy="286.0" r="0.72"/><circle cx="433.7" cy="292.6" r="0.72"/><circle cx="429.4" cy="296.4" r="0.72"/><circle cx="433.3" cy="291.5" r="0.72"/><circle cx="432.1" cy="295.7" r="0.72"/><circle cx="433.1" cy="284.6" r="0.72"/><circle cx="434.5" cy="293.3" r="0.72"/><circle cx="431.0" cy="289.6" r="0.72"/><circle cx="433.2" cy="291.8" r="0.72"/><circle cx="435.6" cy="283.9" r="0.72"/><circle cx="428.4" cy="292.1" r="0.72"/><circle cx="449.5" cy="283.0" r="0.72"/><circle cx="427.7" cy="296.2" r="0.72"/><circle cx="433.7" cy="290.5" r="0.72"/><circle cx="428.2" cy="291.5" r="0.72"/><circle cx="431.0" cy="296.5" r="0.72"/><circle cx="435.0" cy="292.7" r="0.72"/><circle cx="437.3" cy="291.5" r="0.72"/><circle cx="429.0" cy="296.2" r="0.72"/><circle cx="430.0" cy="296.4" r="0.72"/><circle cx="433.7" cy="288.3" r="0.72"/><circle cx="429.4" cy="296.6" r="0.72"/><circle cx="431.0" cy="293.8" r="0.72"/><circle cx="442.4" cy="288.5" r="0.72"/><circle cx="429.7" cy="287.5" r="0.72"/><circle cx="431.5" cy="290.1" r="0.72"/><circle cx="428.9" cy="294.7" r="0.72"/><circle cx="431.1" cy="295.3" r="0.72"/><circle cx="430.5" cy="293.7" r="0.72"/><circle cx="432.9" cy="295.4" r="0.72"/><circle cx="433.3" cy="295.0" r="0.72"/><circle cx="429.6" cy="290.5" r="0.72"/><circle cx="438.7" cy="290.7" r="0.72"/><circle cx="428.9" cy="293.5" r="0.72"/><circle cx="439.2" cy="288.5" r="0.72"/><circle cx="431.5" cy="295.4" r="0.72"/><circle cx="429.4" cy="297.2" r="0.72"/><circle cx="430.7" cy="296.4" r="0.72"/><circle cx="433.8" cy="292.2" r="0.72"/><circle cx="440.8" cy="275.5" r="0.72"/><circle cx="428.3" cy="297.7" r="0.72"/><circle cx="430.7" cy="290.5" r="0.72"/><circle cx="433.4" cy="293.9" r="0.72"/><circle cx="434.6" cy="289.1" r="0.72"/><circle cx="435.4" cy="291.6" r="0.72"/><circle cx="429.5" cy="289.5" r="0.72"/><circle cx="427.6" cy="297.3" r="0.72"/><circle cx="428.0" cy="297.6" r="0.72"/><circle cx="439.6" cy="290.9" r="0.72"/><circle cx="429.8" cy="295.7" r="0.72"/><circle cx="436.7" cy="292.2" r="0.72"/><circle cx="427.5" cy="298.0" r="0.72"/><circle cx="430.2" cy="295.9" r="0.72"/><circle cx="432.9" cy="294.3" r="0.72"/><circle cx="431.3" cy="294.2" r="0.72"/><circle cx="432.1" cy="294.2" r="0.72"/><circle cx="431.0" cy="295.9" r="0.72"/><circle cx="433.5" cy="294.0" r="0.72"/><circle cx="429.3" cy="296.9" r="0.72"/><circle cx="434.9" cy="284.0" r="0.72"/><circle cx="430.4" cy="294.1" r="0.72"/><circle cx="431.2" cy="294.7" r="0.72"/><circle cx="433.3" cy="292.6" r="0.72"/><circle cx="436.1" cy="293.1" r="0.72"/><circle cx="433.3" cy="292.1" r="0.72"/><circle cx="432.4" cy="291.2" r="0.72"/><circle cx="429.9" cy="293.6" r="0.72"/><circle cx="430.1" cy="295.4" r="0.72"/><circle cx="432.2" cy="287.8" r="0.72"/><circle cx="433.2" cy="294.2" r="0.72"/><circle cx="431.1" cy="295.8" r="0.72"/><circle cx="445.6" cy="262.4" r="0.72"/><circle cx="442.8" cy="279.5" r="0.72"/><circle cx="430.0" cy="297.0" r="0.72"/><circle cx="433.5" cy="290.2" r="0.72"/><circle cx="435.5" cy="284.0" r="0.72"/><circle cx="436.4" cy="289.0" r="0.72"/><circle cx="428.6" cy="293.9" r="0.72"/><circle cx="430.7" cy="293.8" r="0.72"/><circle cx="440.6" cy="285.5" r="0.72"/><circle cx="428.8" cy="297.5" r="0.72"/><circle cx="449.3" cy="272.4" r="0.72"/><circle cx="433.2" cy="293.9" r="0.72"/><circle cx="427.6" cy="295.6" r="0.72"/><circle cx="429.8" cy="293.9" r="0.72"/><circle cx="438.0" cy="290.5" r="0.72"/><circle cx="430.3" cy="294.5" r="0.72"/><circle cx="437.7" cy="290.7" r="0.72"/><circle cx="430.5" cy="294.5" r="0.72"/><circle cx="431.0" cy="294.7" r="0.72"/><circle cx="433.1" cy="289.3" r="0.72"/><circle cx="434.0" cy="290.4" r="0.72"/><circle cx="430.1" cy="295.1" r="0.72"/><circle cx="430.0" cy="296.9" r="0.72"/><circle cx="428.0" cy="296.7" r="0.72"/><circle cx="432.0" cy="295.2" r="0.72"/><circle cx="432.9" cy="295.0" r="0.72"/><circle cx="432.3" cy="291.8" r="0.72"/><circle cx="434.3" cy="285.3" r="0.72"/><circle cx="434.1" cy="292.3" r="0.72"/><circle cx="429.4" cy="297.2" r="0.72"/><circle cx="429.0" cy="296.9" r="0.72"/><circle cx="438.9" cy="289.8" r="0.72"/><circle cx="441.0" cy="283.8" r="0.72"/><circle cx="432.6" cy="295.3" r="0.72"/><circle cx="432.9" cy="289.0" r="0.72"/><circle cx="430.3" cy="295.6" r="0.72"/><circle cx="428.8" cy="296.0" r="0.72"/><circle cx="439.9" cy="285.8" r="0.72"/><circle cx="437.5" cy="292.2" r="0.72"/><circle cx="428.0" cy="297.9" r="0.72"/><circle cx="428.2" cy="296.8" r="0.72"/><circle cx="428.6" cy="294.2" r="0.72"/><circle cx="433.1" cy="294.2" r="0.72"/><circle cx="430.7" cy="292.0" r="0.72"/><circle cx="433.5" cy="293.5" r="0.72"/><circle cx="442.4" cy="285.7" r="0.72"/><circle cx="431.4" cy="294.8" r="0.72"/><circle cx="430.8" cy="295.4" r="0.72"/><circle cx="430.7" cy="295.3" r="0.72"/><circle cx="432.9" cy="293.6" r="0.72"/><circle cx="431.5" cy="286.6" r="0.72"/><circle cx="442.1" cy="283.2" r="0.72"/><circle cx="439.8" cy="284.8" r="0.72"/><circle cx="437.1" cy="288.4" r="0.72"/><circle cx="429.8" cy="295.5" r="0.72"/><circle cx="432.1" cy="295.1" r="0.72"/><circle cx="435.6" cy="291.9" r="0.72"/><circle cx="434.9" cy="287.9" r="0.72"/><circle cx="431.7" cy="292.8" r="0.72"/><circle cx="440.8" cy="285.8" r="0.72"/><circle cx="430.1" cy="295.2" r="0.72"/><circle cx="434.1" cy="294.2" r="0.72"/><circle cx="439.2" cy="289.8" r="0.72"/><circle cx="434.6" cy="292.1" r="0.72"/><circle cx="429.2" cy="293.0" r="0.72"/><circle cx="437.0" cy="286.3" r="0.72"/><circle cx="432.1" cy="293.3" r="0.72"/><circle cx="432.7" cy="281.9" r="0.72"/><circle cx="434.6" cy="292.9" r="0.72"/><circle cx="430.6" cy="294.0" r="0.72"/><circle cx="430.3" cy="295.1" r="0.72"/><circle cx="427.6" cy="296.4" r="0.72"/><circle cx="429.0" cy="293.5" r="0.72"/><circle cx="429.3" cy="297.2" r="0.72"/><circle cx="442.6" cy="287.1" r="0.72"/><circle cx="433.2" cy="295.2" r="0.72"/><circle cx="444.4" cy="286.0" r="0.72"/><circle cx="438.3" cy="290.1" r="0.72"/><circle cx="432.9" cy="293.7" r="0.72"/><circle cx="443.9" cy="282.3" r="0.72"/><circle cx="429.8" cy="296.8" r="0.72"/><circle cx="432.4" cy="290.8" r="0.72"/><circle cx="429.3" cy="295.0" r="0.72"/><circle cx="429.7" cy="292.8" r="0.72"/><circle cx="429.8" cy="296.6" r="0.72"/><circle cx="434.9" cy="294.0" r="0.72"/><circle cx="431.2" cy="294.1" r="0.72"/><circle cx="438.0" cy="290.7" r="0.72"/><circle cx="437.1" cy="291.2" r="0.72"/><circle cx="432.8" cy="293.1" r="0.72"/><circle cx="431.3" cy="295.6" r="0.72"/><circle cx="430.5" cy="296.7" r="0.72"/><circle cx="430.7" cy="295.9" r="0.72"/><circle cx="428.7" cy="296.5" r="0.72"/><circle cx="433.5" cy="288.3" r="0.72"/><circle cx="440.4" cy="285.2" r="0.72"/><circle cx="437.9" cy="289.9" r="0.72"/><circle cx="431.7" cy="294.5" r="0.72"/><circle cx="433.8" cy="289.9" r="0.72"/><circle cx="427.6" cy="298.0" r="0.72"/><circle cx="442.7" cy="286.8" r="0.72"/><circle cx="429.5" cy="293.6" r="0.72"/><circle cx="437.6" cy="286.7" r="0.72"/><circle cx="432.6" cy="293.3" r="0.72"/><circle cx="451.1" cy="262.9" r="0.72"/><circle cx="430.0" cy="295.3" r="0.72"/><circle cx="433.6" cy="288.9" r="0.72"/><circle cx="433.6" cy="294.7" r="0.72"/><circle cx="429.0" cy="295.5" r="0.72"/><circle cx="428.6" cy="292.5" r="0.72"/><circle cx="432.3" cy="293.3" r="0.72"/><circle cx="434.9" cy="292.0" r="0.72"/><circle cx="429.7" cy="295.5" r="0.72"/><circle cx="431.1" cy="294.0" r="0.72"/><circle cx="427.5" cy="296.4" r="0.72"/><circle cx="429.7" cy="294.2" r="0.72"/><circle cx="431.0" cy="294.5" r="0.72"/><circle cx="428.5" cy="297.2" r="0.72"/><circle cx="444.0" cy="279.4" r="0.72"/><circle cx="429.2" cy="291.2" r="0.72"/><circle cx="430.9" cy="292.3" r="0.72"/><circle cx="429.4" cy="295.4" r="0.72"/><circle cx="434.5" cy="288.6" r="0.72"/><circle cx="430.1" cy="296.5" r="0.72"/><circle cx="433.3" cy="294.4" r="0.72"/><circle cx="430.4" cy="294.3" r="0.72"/><circle cx="428.1" cy="297.4" r="0.72"/><circle cx="430.5" cy="294.0" r="0.72"/><circle cx="436.0" cy="288.8" r="0.72"/><circle cx="433.2" cy="293.2" r="0.72"/><circle cx="431.6" cy="296.0" r="0.72"/><circle cx="427.7" cy="297.3" r="0.72"/><circle cx="431.0" cy="294.3" r="0.72"/><circle cx="433.3" cy="290.7" r="0.72"/><circle cx="434.5" cy="293.7" r="0.72"/><circle cx="429.4" cy="293.5" r="0.72"/><circle cx="380.3" cy="263.8" r="0.72"/><circle cx="385.8" cy="260.9" r="0.72"/><circle cx="394.3" cy="256.9" r="0.72"/><circle cx="402.9" cy="252.3" r="0.72"/><circle cx="406.0" cy="250.6" r="0.72"/><circle cx="407.6" cy="263.8" r="0.72"/><circle cx="400.6" cy="264.9" r="0.72"/><circle cx="392.0" cy="269.5" r="0.72"/><circle cx="388.1" cy="266.6" r="0.72"/><circle cx="409.2" cy="272.4" r="0.72"/><circle cx="404.5" cy="275.2" r="0.72"/><circle cx="397.5" cy="274.1" r="0.72"/><circle cx="395.9" cy="276.4" r="0.72"/><circle cx="390.4" cy="278.1" r="0.72"/><circle cx="409.9" cy="281.0" r="0.72"/><circle cx="402.1" cy="282.1" r="0.72"/><circle cx="384.2" cy="272.4" r="0.72"/><circle cx="458.3" cy="204.6" r="0.72"/><circle cx="454.4" cy="240.8" r="0.72"/><circle cx="453.6" cy="247.7" r="0.72"/><circle cx="449.7" cy="263.8" r="0.72"/><circle cx="437.2" cy="252.3" r="0.72"/><circle cx="431.8" cy="258.0" r="0.72"/><circle cx="435.7" cy="266.6" r="0.72"/><circle cx="442.7" cy="260.9" r="0.72"/><circle cx="445.0" cy="272.4" r="0.72"/><circle cx="429.4" cy="274.1" r="0.72"/><circle cx="439.6" cy="276.4" r="0.72"/><circle cx="447.4" cy="281.0" r="0.72"/><circle cx="455.2" cy="268.4" r="0.72"/><circle cx="433.3" cy="279.3" r="0.72"/></g>
<line x1="372.80" y1="296.60" x2="466.40" y2="296.60" stroke="#333" stroke-width="1.0" stroke-dasharray="1 1.1"/>
<line x1="411.50" y1="202.10" x2="411.50" y2="298.20" stroke="#111" stroke-width="1.1" stroke-dasharray="1.2 0.9"/>
<line x1="427.60" y1="202.10" x2="427.60" y2="298.20" stroke="#111" stroke-width="1.1" stroke-dasharray="1.2 0.9"/>
<rect x="372.3" y="201.5" width="94.6" height="96.9" fill="none" stroke="#231f20" stroke-width="1.2"/>
<line x1="369.80" y1="211.50" x2="372.30" y2="211.50" stroke="#231f20" stroke-width="1"/>
<text x="364.6" y="214.8" font-size="9.5" text-anchor="end" textLength="15.4" lengthAdjust="spacingAndGlyphs">150</text>
<line x1="369.80" y1="240.80" x2="372.30" y2="240.80" stroke="#231f20" stroke-width="1"/>
<text x="364.6" y="244.1" font-size="9.5" text-anchor="end" textLength="15.4" lengthAdjust="spacingAndGlyphs">100</text>
<line x1="369.80" y1="269.50" x2="372.30" y2="269.50" stroke="#231f20" stroke-width="1"/>
<text x="364.6" y="272.8" font-size="9.5" text-anchor="end" textLength="10.3" lengthAdjust="spacingAndGlyphs">50</text>
<line x1="369.80" y1="298.20" x2="372.30" y2="298.20" stroke="#231f20" stroke-width="1"/>
<text x="364.6" y="301.5" font-size="9.5" text-anchor="end" textLength="5.2" lengthAdjust="spacingAndGlyphs">0</text>
<line x1="372.50" y1="298.40" x2="372.50" y2="300.60" stroke="#231f20" stroke-width="1"/>
<text x="372.5" y="310.9" font-size="9.5" text-anchor="middle" textLength="9.6" lengthAdjust="spacingAndGlyphs">–6</text>
<line x1="388.10" y1="298.40" x2="388.10" y2="300.60" stroke="#231f20" stroke-width="1"/>
<text x="388.1" y="310.9" font-size="9.5" text-anchor="middle" textLength="9.6" lengthAdjust="spacingAndGlyphs">–4</text>
<line x1="403.70" y1="298.40" x2="403.70" y2="300.60" stroke="#231f20" stroke-width="1"/>
<text x="403.7" y="310.9" font-size="9.5" text-anchor="middle" textLength="9.6" lengthAdjust="spacingAndGlyphs">–2</text>
<line x1="419.30" y1="298.40" x2="419.30" y2="300.60" stroke="#231f20" stroke-width="1"/>
<text x="419.3" y="310.9" font-size="9.5" text-anchor="middle" textLength="5.0" lengthAdjust="spacingAndGlyphs">0</text>
<line x1="434.90" y1="298.40" x2="434.90" y2="300.60" stroke="#231f20" stroke-width="1"/>
<text x="434.9" y="310.9" font-size="9.5" text-anchor="middle" textLength="5.0" lengthAdjust="spacingAndGlyphs">2</text>
<line x1="450.50" y1="298.40" x2="450.50" y2="300.60" stroke="#231f20" stroke-width="1"/>
<text x="450.5" y="310.9" font-size="9.5" text-anchor="middle" textLength="5.0" lengthAdjust="spacingAndGlyphs">4</text>
<line x1="466.10" y1="298.40" x2="466.10" y2="300.60" stroke="#231f20" stroke-width="1"/>
<text x="466.1" y="310.9" font-size="9.5" text-anchor="middle" textLength="5.0" lengthAdjust="spacingAndGlyphs">6</text>
<text x="384.2" y="324.5" font-size="10.4" textLength="72.3" lengthAdjust="spacingAndGlyphs" stroke="#2a2a2a" stroke-width="0.2">Log2(fold change)</text>
<text x="376.9" y="215.8" font-size="8.9" textLength="23.1" lengthAdjust="spacingAndGlyphs">Down</text>
<text x="376.9" y="226.6" font-size="8.9" textLength="14.3" lengthAdjust="spacingAndGlyphs">740</text>
<text x="450.0" y="214.6" font-size="8.9" textLength="11.2" lengthAdjust="spacingAndGlyphs">Up</text>
<text x="449.7" y="226.5" font-size="8.9" textLength="14.1" lengthAdjust="spacingAndGlyphs">309</text>
<text x="0" y="0" font-size="10" transform="translate(344.6,281.5) rotate(-90)" textLength="58.5" lengthAdjust="spacingAndGlyphs" fill="#231f20" stroke="#2a2a2a" stroke-width="0.2">-log10(pValue)</text>
<text x="10.6" y="295.4" font-size="13" font-weight="bold" fill="#000">F</text>
<text x="176.6" y="295.8" font-size="9.0" textLength="60.8" lengthAdjust="spacingAndGlyphs">KEGG pathway</text>
<rect x="179.00" y="307.20" width="72.70" height="9.10" fill="#cf1f3a"/>
<line x1="174.60" y1="311.75" x2="178.50" y2="311.75" stroke="#231f20" stroke-width="1"/>
<text x="171.8" y="314.9" font-size="9.6" text-anchor="end" textLength="96.8" lengthAdjust="spacingAndGlyphs">p53 signaling pathway</text>
<rect x="179.00" y="321.10" width="70.40" height="9.10" fill="#cf1f3a"/>
<line x1="174.60" y1="325.65" x2="178.50" y2="325.65" stroke="#231f20" stroke-width="1"/>
<text x="171.8" y="328.9" font-size="9.6" text-anchor="end" textLength="163.7" lengthAdjust="spacingAndGlyphs">Cytokine-cytokine receptor interaction</text>
<rect x="179.00" y="335.00" width="25.60" height="9.10" fill="#cf1f3a"/>
<line x1="174.60" y1="339.55" x2="178.50" y2="339.55" stroke="#231f20" stroke-width="1"/>
<text x="171.8" y="342.8" font-size="9.6" text-anchor="end" textLength="132.7" lengthAdjust="spacingAndGlyphs">NF-kappa B signaling pathway</text>
<rect x="179.00" y="348.80" width="16.30" height="9.10" fill="#cf1f3a"/>
<line x1="174.60" y1="353.35" x2="178.50" y2="353.35" stroke="#231f20" stroke-width="1"/>
<text x="171.8" y="356.6" font-size="9.6" text-anchor="end" textLength="112.0" lengthAdjust="spacingAndGlyphs">Chronic myeloid leukemia</text>
<rect x="179.00" y="362.70" width="71.00" height="9.10" fill="#135892"/>
<line x1="174.60" y1="367.25" x2="178.50" y2="367.25" stroke="#231f20" stroke-width="1"/>
<text x="171.8" y="370.4" font-size="9.6" text-anchor="end" textLength="114.2" lengthAdjust="spacingAndGlyphs">Hematopoietic cell lineage</text>
<rect x="179.00" y="376.50" width="68.50" height="9.10" fill="#135892"/>
<line x1="174.60" y1="381.05" x2="178.50" y2="381.05" stroke="#231f20" stroke-width="1"/>
<text x="171.8" y="384.2" font-size="9.6" text-anchor="end" textLength="114.7" lengthAdjust="spacingAndGlyphs">Primary immunodeficiency</text>
<rect x="179.00" y="390.20" width="30.20" height="9.10" fill="#135892"/>
<line x1="174.60" y1="394.75" x2="178.50" y2="394.75" stroke="#231f20" stroke-width="1"/>
<text x="171.8" y="397.9" font-size="9.6" text-anchor="end" textLength="130.0" lengthAdjust="spacingAndGlyphs">Chemokine signaling pathway</text>
<rect x="179.00" y="404.20" width="24.00" height="9.10" fill="#135892"/>
<line x1="174.60" y1="408.75" x2="178.50" y2="408.75" stroke="#231f20" stroke-width="1"/>
<text x="171.8" y="411.9" font-size="9.6" text-anchor="end" textLength="97.9" lengthAdjust="spacingAndGlyphs">Wnt signaling pathway</text>
<line x1="178.60" y1="301.00" x2="178.60" y2="418.00" stroke="#231f20" stroke-width="1.2"/>
<line x1="209.30" y1="301.00" x2="209.30" y2="417.00" stroke="#111" stroke-width="1.4" stroke-dasharray="1.3 1.6"/>
<line x1="178.00" y1="417.60" x2="256.00" y2="417.60" stroke="#231f20" stroke-width="1.2"/>
<line x1="178.60" y1="417.60" x2="178.60" y2="420.00" stroke="#231f20" stroke-width="1"/>
<text x="178.6" y="430.8" font-size="9.5" text-anchor="middle" textLength="5.2" lengthAdjust="spacingAndGlyphs">0</text>
<line x1="193.95" y1="417.60" x2="193.95" y2="420.00" stroke="#231f20" stroke-width="1"/>
<text x="193.9" y="430.8" font-size="9.5" text-anchor="middle" textLength="5.2" lengthAdjust="spacingAndGlyphs">1</text>
<line x1="209.30" y1="417.60" x2="209.30" y2="420.00" stroke="#231f20" stroke-width="1"/>
<text x="209.3" y="430.8" font-size="9.5" text-anchor="middle" textLength="5.2" lengthAdjust="spacingAndGlyphs">2</text>
<line x1="224.65" y1="417.60" x2="224.65" y2="420.00" stroke="#231f20" stroke-width="1"/>
<text x="224.6" y="430.8" font-size="9.5" text-anchor="middle" textLength="5.2" lengthAdjust="spacingAndGlyphs">3</text>
<line x1="240.00" y1="417.60" x2="240.00" y2="420.00" stroke="#231f20" stroke-width="1"/>
<text x="240.0" y="430.8" font-size="9.5" text-anchor="middle" textLength="5.2" lengthAdjust="spacingAndGlyphs">4</text>
<line x1="255.35" y1="417.60" x2="255.35" y2="420.00" stroke="#231f20" stroke-width="1"/>
<text x="255.3" y="430.8" font-size="9.5" text-anchor="middle" textLength="5.2" lengthAdjust="spacingAndGlyphs">5</text>
<text x="146.4" y="430.8" font-size="9.0" textLength="26.0" lengthAdjust="spacingAndGlyphs">-log10</text>
<rect x="270.00" y="340.80" width="6.20" height="6.20" fill="#cf1f3a"/>
<rect x="270.00" y="359.60" width="6.20" height="6.20" fill="#135892"/>
<text x="281.6" y="347.4" font-size="9.4" textLength="70" lengthAdjust="spacingAndGlyphs" fill="#231f20"><tspan font-style="italic">Chd8</tspan><tspan font-size="5.6" dy="-3.4">-/-</tspan><tspan dy="3.4"> VS WT Up</tspan></text>
<text x="281.6" y="366.3" font-size="9.4" textLength="80.3" lengthAdjust="spacingAndGlyphs" fill="#231f20"><tspan font-style="italic">Chd8</tspan><tspan font-size="5.6" dy="-3.4">-/-</tspan><tspan dy="3.4"> VS WT Down</tspan></text>
<text x="309.2" y="414.6" font-size="13" font-weight="bold" fill="#000">G</text>
<text x="340.9" y="422.8" font-size="9.5" font-style="italic" textLength="28.2" lengthAdjust="spacingAndGlyphs">Chd8<tspan font-size="5.7" dy="-3.6" font-style="normal">-/-</tspan></text>
<text x="382.1" y="422.8" font-size="9.5" textLength="13.8" lengthAdjust="spacingAndGlyphs">WT</text>
<rect x="328.10" y="425.40" width="13.23" height="8.00" fill="#3bbccb" stroke="#8a8a8a" stroke-width="1"/>
<rect x="341.33" y="425.40" width="13.23" height="8.00" fill="#3bbccb" stroke="#8a8a8a" stroke-width="1"/>
<rect x="354.57" y="425.40" width="13.23" height="8.00" fill="#3bbccb" stroke="#8a8a8a" stroke-width="1"/>
<rect x="367.80" y="425.40" width="13.23" height="8.00" fill="#f4877f" stroke="#8a8a8a" stroke-width="1"/>
<rect x="381.03" y="425.40" width="13.23" height="8.00" fill="#fbc3c3" stroke="#8a8a8a" stroke-width="1"/>
<rect x="394.27" y="425.40" width="13.23" height="8.00" fill="#fbc3c3" stroke="#8a8a8a" stroke-width="1"/>
<text x="412.0" y="433.4" font-size="9.6" textLength="42.7" lengthAdjust="spacingAndGlyphs">Genotype</text>
<rect x="328.10" y="437.90" width="13.23" height="9.81" fill="#e44f35" stroke="#8a8a8a" stroke-width="1"/>
<rect x="341.33" y="437.90" width="13.23" height="9.81" fill="#fbf5c0" stroke="#8a8a8a" stroke-width="1"/>
<rect x="354.57" y="437.90" width="13.23" height="9.81" fill="#fcef9f" stroke="#8a8a8a" stroke-width="1"/>
<rect x="367.80" y="437.90" width="13.23" height="9.81" fill="#6c9fcb" stroke="#8a8a8a" stroke-width="1"/>
<rect x="381.03" y="437.90" width="13.23" height="9.81" fill="#c4dcef" stroke="#8a8a8a" stroke-width="1"/>
<rect x="394.27" y="437.90" width="13.23" height="9.81" fill="#bed6ec" stroke="#8a8a8a" stroke-width="1"/>
<text x="412.0" y="446.2" font-size="9.8" textLength="19.3" lengthAdjust="spacingAndGlyphs">Perp</text>
<rect x="328.10" y="447.71" width="13.23" height="9.81" fill="#ee6a44" stroke="#8a8a8a" stroke-width="1"/>
<rect x="341.33" y="447.71" width="13.23" height="9.81" fill="#fbec9f" stroke="#8a8a8a" stroke-width="1"/>
<rect x="354.57" y="447.71" width="13.23" height="9.81" fill="#fbeb9e" stroke="#8a8a8a" stroke-width="1"/>
<rect x="367.80" y="447.71" width="13.23" height="9.81" fill="#6c9fcb" stroke="#8a8a8a" stroke-width="1"/>
<rect x="381.03" y="447.71" width="13.23" height="9.81" fill="#c0d6ec" stroke="#8a8a8a" stroke-width="1"/>
<rect x="394.27" y="447.71" width="13.23" height="9.81" fill="#c4dcef" stroke="#8a8a8a" stroke-width="1"/>
<text x="412.0" y="456.0" font-size="9.8" textLength="15.7" lengthAdjust="spacingAndGlyphs">Ak1</text>
<rect x="328.10" y="457.52" width="13.23" height="9.81" fill="#ee6a44" stroke="#8a8a8a" stroke-width="1"/>
<rect x="341.33" y="457.52" width="13.23" height="9.81" fill="#fbe39a" stroke="#8a8a8a" stroke-width="1"/>
<rect x="354.57" y="457.52" width="13.23" height="9.81" fill="#fae59a" stroke="#8a8a8a" stroke-width="1"/>
<rect x="367.80" y="457.52" width="13.23" height="9.81" fill="#6fa3cd" stroke="#8a8a8a" stroke-width="1"/>
<rect x="381.03" y="457.52" width="13.23" height="9.81" fill="#c0d6ec" stroke="#8a8a8a" stroke-width="1"/>
<rect x="394.27" y="457.52" width="13.23" height="9.81" fill="#c4dcef" stroke="#8a8a8a" stroke-width="1"/>
<text x="412.0" y="465.8" font-size="9.8" textLength="28.4" lengthAdjust="spacingAndGlyphs">Zfp365</text>
<rect x="328.10" y="467.33" width="13.23" height="9.81" fill="#ee6a44" stroke="#8a8a8a" stroke-width="1"/>
<rect x="341.33" y="467.33" width="13.23" height="9.81" fill="#fdf6b9" stroke="#8a8a8a" stroke-width="1"/>
<rect x="354.57" y="467.33" width="13.23" height="9.81" fill="#fbdc90" stroke="#8a8a8a" stroke-width="1"/>
<rect x="367.80" y="467.33" width="13.23" height="9.81" fill="#6c9fcb" stroke="#8a8a8a" stroke-width="1"/>
<rect x="381.03" y="467.33" width="13.23" height="9.81" fill="#c4dcef" stroke="#8a8a8a" stroke-width="1"/>
<rect x="394.27" y="467.33" width="13.23" height="9.81" fill="#c4dcef" stroke="#8a8a8a" stroke-width="1"/>
<text x="412.0" y="475.6" font-size="9.8" textLength="32.9" lengthAdjust="spacingAndGlyphs">Slc19a2</text>
<rect x="328.10" y="477.14" width="13.23" height="9.81" fill="#ec6040" stroke="#8a8a8a" stroke-width="1"/>
<rect x="341.33" y="477.14" width="13.23" height="9.81" fill="#fdf6b9" stroke="#8a8a8a" stroke-width="1"/>
<rect x="354.57" y="477.14" width="13.23" height="9.81" fill="#fbe396" stroke="#8a8a8a" stroke-width="1"/>
<rect x="367.80" y="477.14" width="13.23" height="9.81" fill="#6c9fcb" stroke="#8a8a8a" stroke-width="1"/>
<rect x="381.03" y="477.14" width="13.23" height="9.81" fill="#c4dcef" stroke="#8a8a8a" stroke-width="1"/>
<rect x="394.27" y="477.14" width="13.23" height="9.81" fill="#c4dcef" stroke="#8a8a8a" stroke-width="1"/>
<text x="412.0" y="485.4" font-size="9.8" textLength="25.8" lengthAdjust="spacingAndGlyphs">Sesn2</text>
<rect x="328.10" y="486.95" width="13.23" height="9.81" fill="#ea5a3c" stroke="#8a8a8a" stroke-width="1"/>
<rect x="341.33" y="486.95" width="13.23" height="9.81" fill="#f3f5d5" stroke="#8a8a8a" stroke-width="1"/>
<rect x="354.57" y="486.95" width="13.23" height="9.81" fill="#fcd38a" stroke="#8a8a8a" stroke-width="1"/>
<rect x="367.80" y="486.95" width="13.23" height="9.81" fill="#78aad2" stroke="#8a8a8a" stroke-width="1"/>
<rect x="381.03" y="486.95" width="13.23" height="9.81" fill="#c4dcef" stroke="#8a8a8a" stroke-width="1"/>
<rect x="394.27" y="486.95" width="13.23" height="9.81" fill="#c4dcef" stroke="#8a8a8a" stroke-width="1"/>
<text x="412.0" y="495.2" font-size="9.8" textLength="31.4" lengthAdjust="spacingAndGlyphs">Cdkn1a</text>
<rect x="328.10" y="496.75" width="13.23" height="9.81" fill="#f58a55" stroke="#8a8a8a" stroke-width="1"/>
<rect x="341.33" y="496.75" width="13.23" height="9.81" fill="#fdf1ae" stroke="#8a8a8a" stroke-width="1"/>
<rect x="354.57" y="496.75" width="13.23" height="9.81" fill="#fcc880" stroke="#8a8a8a" stroke-width="1"/>
<rect x="367.80" y="496.75" width="13.23" height="9.81" fill="#6c9fcb" stroke="#8a8a8a" stroke-width="1"/>
<rect x="381.03" y="496.75" width="13.23" height="9.81" fill="#c4dcef" stroke="#8a8a8a" stroke-width="1"/>
<rect x="394.27" y="496.75" width="13.23" height="9.81" fill="#bed6ec" stroke="#8a8a8a" stroke-width="1"/>
<text x="412.0" y="505.1" font-size="9.8" textLength="26.3" lengthAdjust="spacingAndGlyphs">Ccng1</text>
<rect x="328.10" y="506.56" width="13.23" height="9.81" fill="#f07a4d" stroke="#8a8a8a" stroke-width="1"/>
<rect x="341.33" y="506.56" width="13.23" height="9.81" fill="#fdf6b9" stroke="#8a8a8a" stroke-width="1"/>
<rect x="354.57" y="506.56" width="13.23" height="9.81" fill="#fcd088" stroke="#8a8a8a" stroke-width="1"/>
<rect x="367.80" y="506.56" width="13.23" height="9.81" fill="#6699cc" stroke="#8a8a8a" stroke-width="1"/>
<rect x="381.03" y="506.56" width="13.23" height="9.81" fill="#c4dcef" stroke="#8a8a8a" stroke-width="1"/>
<rect x="394.27" y="506.56" width="13.23" height="9.81" fill="#c4dcef" stroke="#8a8a8a" stroke-width="1"/>
<text x="412.0" y="514.9" font-size="9.8" textLength="15.7" lengthAdjust="spacingAndGlyphs">Bax</text>
<rect x="328.10" y="516.37" width="13.23" height="9.81" fill="#f07a4d" stroke="#8a8a8a" stroke-width="1"/>
<rect x="341.33" y="516.37" width="13.23" height="9.81" fill="#fdf5c0" stroke="#8a8a8a" stroke-width="1"/>
<rect x="354.57" y="516.37" width="13.23" height="9.81" fill="#fcc880" stroke="#8a8a8a" stroke-width="1"/>
<rect x="367.80" y="516.37" width="13.23" height="9.81" fill="#6c9fcb" stroke="#8a8a8a" stroke-width="1"/>
<rect x="381.03" y="516.37" width="13.23" height="9.81" fill="#c4dcef" stroke="#8a8a8a" stroke-width="1"/>
<rect x="394.27" y="516.37" width="13.23" height="9.81" fill="#c4dcef" stroke="#8a8a8a" stroke-width="1"/>
<text x="412.0" y="524.7" font-size="9.8" textLength="28.4" lengthAdjust="spacingAndGlyphs">Phlda3</text>
<rect x="328.10" y="526.18" width="13.23" height="9.81" fill="#f8925a" stroke="#8a8a8a" stroke-width="1"/>
<rect x="341.33" y="526.18" width="13.23" height="9.81" fill="#fbe396" stroke="#8a8a8a" stroke-width="1"/>
<rect x="354.57" y="526.18" width="13.23" height="9.81" fill="#fbe08f" stroke="#8a8a8a" stroke-width="1"/>
<rect x="367.80" y="526.18" width="13.23" height="9.81" fill="#3d73bf" stroke="#8a8a8a" stroke-width="1"/>
<rect x="381.03" y="526.18" width="13.23" height="9.81" fill="#d7eaf5" stroke="#8a8a8a" stroke-width="1"/>
<rect x="394.27" y="526.18" width="13.23" height="9.81" fill="#cfe6f3" stroke="#8a8a8a" stroke-width="1"/>
<text x="412.0" y="534.5" font-size="9.8" textLength="21.8" lengthAdjust="spacingAndGlyphs">Cd81</text>
<rect x="328.10" y="535.99" width="13.23" height="9.81" fill="#f5854f" stroke="#8a8a8a" stroke-width="1"/>
<rect x="341.33" y="535.99" width="13.23" height="9.81" fill="#fbe8a0" stroke="#8a8a8a" stroke-width="1"/>
<rect x="354.57" y="535.99" width="13.23" height="9.81" fill="#fcd088" stroke="#8a8a8a" stroke-width="1"/>
<rect x="367.80" y="535.99" width="13.23" height="9.81" fill="#4f83c2" stroke="#8a8a8a" stroke-width="1"/>
<rect x="381.03" y="535.99" width="13.23" height="9.81" fill="#d2e6f3" stroke="#8a8a8a" stroke-width="1"/>
<rect x="394.27" y="535.99" width="13.23" height="9.81" fill="#c4dcef" stroke="#8a8a8a" stroke-width="1"/>
<text x="412.0" y="544.3" font-size="9.8" textLength="18.2" lengthAdjust="spacingAndGlyphs">Ei24</text>
<rect x="328.10" y="545.80" width="13.23" height="9.81" fill="#fa9e64" stroke="#8a8a8a" stroke-width="1"/>
<rect x="341.33" y="545.80" width="13.23" height="9.81" fill="#fdf6b9" stroke="#8a8a8a" stroke-width="1"/>
<rect x="354.57" y="545.80" width="13.23" height="9.81" fill="#f9a36a" stroke="#8a8a8a" stroke-width="1"/>
<rect x="367.80" y="545.80" width="13.23" height="9.81" fill="#5388c4" stroke="#8a8a8a" stroke-width="1"/>
<rect x="381.03" y="545.80" width="13.23" height="9.81" fill="#d2e6f3" stroke="#8a8a8a" stroke-width="1"/>
<rect x="394.27" y="545.80" width="13.23" height="9.81" fill="#c4dcef" stroke="#8a8a8a" stroke-width="1"/>
<text x="412.0" y="554.1" font-size="9.8" textLength="28.4" lengthAdjust="spacingAndGlyphs">Rps27l</text>
<rect x="328.10" y="555.61" width="13.23" height="9.81" fill="#fbad6c" stroke="#8a8a8a" stroke-width="1"/>
<rect x="341.33" y="555.61" width="13.23" height="9.81" fill="#fbe396" stroke="#8a8a8a" stroke-width="1"/>
<rect x="354.57" y="555.61" width="13.23" height="9.81" fill="#fdc477" stroke="#8a8a8a" stroke-width="1"/>
<rect x="367.80" y="555.61" width="13.23" height="9.81" fill="#4f83c2" stroke="#8a8a8a" stroke-width="1"/>
<rect x="381.03" y="555.61" width="13.23" height="9.81" fill="#d7eaf5" stroke="#8a8a8a" stroke-width="1"/>
<rect x="394.27" y="555.61" width="13.23" height="9.81" fill="#bed6ec" stroke="#8a8a8a" stroke-width="1"/>
<text x="412.0" y="563.9" font-size="9.8" textLength="16.2" lengthAdjust="spacingAndGlyphs">Aen</text>
<rect x="328.10" y="565.42" width="13.23" height="9.81" fill="#f07a4d" stroke="#8a8a8a" stroke-width="1"/>
<rect x="341.33" y="565.42" width="13.23" height="9.81" fill="#fdd383" stroke="#8a8a8a" stroke-width="1"/>
<rect x="354.57" y="565.42" width="13.23" height="9.81" fill="#fdf3ae" stroke="#8a8a8a" stroke-width="1"/>
<rect x="367.80" y="565.42" width="13.23" height="9.81" fill="#4f83c2" stroke="#8a8a8a" stroke-width="1"/>
<rect x="381.03" y="565.42" width="13.23" height="9.81" fill="#d2e6f3" stroke="#8a8a8a" stroke-width="1"/>
<rect x="394.27" y="565.42" width="13.23" height="9.81" fill="#c4dcef" stroke="#8a8a8a" stroke-width="1"/>
<text x="412.0" y="573.7" font-size="9.8" textLength="27.9" lengthAdjust="spacingAndGlyphs">Plxna1</text>
<rect x="328.10" y="575.23" width="13.23" height="9.81" fill="#fba96a" stroke="#8a8a8a" stroke-width="1"/>
<rect x="341.33" y="575.23" width="13.23" height="9.81" fill="#fcd585" stroke="#8a8a8a" stroke-width="1"/>
<rect x="354.57" y="575.23" width="13.23" height="9.81" fill="#fdc77c" stroke="#8a8a8a" stroke-width="1"/>
<rect x="367.80" y="575.23" width="13.23" height="9.81" fill="#4f83c2" stroke="#8a8a8a" stroke-width="1"/>
<rect x="381.03" y="575.23" width="13.23" height="9.81" fill="#c4dcef" stroke="#8a8a8a" stroke-width="1"/>
<rect x="394.27" y="575.23" width="13.23" height="9.81" fill="#c8e0f0" stroke="#8a8a8a" stroke-width="1"/>
<text x="412.0" y="583.5" font-size="9.8" textLength="18.7" lengthAdjust="spacingAndGlyphs">St14</text>
<rect x="328.10" y="585.04" width="13.23" height="9.81" fill="#f8884f" stroke="#8a8a8a" stroke-width="1"/>
<rect x="341.33" y="585.04" width="13.23" height="9.81" fill="#fbe8a0" stroke="#8a8a8a" stroke-width="1"/>
<rect x="354.57" y="585.04" width="13.23" height="9.81" fill="#fdd383" stroke="#8a8a8a" stroke-width="1"/>
<rect x="367.80" y="585.04" width="13.23" height="9.81" fill="#88b9d8" stroke="#8a8a8a" stroke-width="1"/>
<rect x="381.03" y="585.04" width="13.23" height="9.81" fill="#bcd2ea" stroke="#8a8a8a" stroke-width="1"/>
<rect x="394.27" y="585.04" width="13.23" height="9.81" fill="#bcd2ea" stroke="#8a8a8a" stroke-width="1"/>
<text x="412.0" y="593.3" font-size="9.8" textLength="26.4" lengthAdjust="spacingAndGlyphs">Epha2</text>
<rect x="328.10" y="594.85" width="13.23" height="9.81" fill="#f8884f" stroke="#8a8a8a" stroke-width="1"/>
<rect x="341.33" y="594.85" width="13.23" height="9.81" fill="#fbe396" stroke="#8a8a8a" stroke-width="1"/>
<rect x="354.57" y="594.85" width="13.23" height="9.81" fill="#fbe396" stroke="#8a8a8a" stroke-width="1"/>
<rect x="367.80" y="594.85" width="13.23" height="9.81" fill="#5b8fc8" stroke="#8a8a8a" stroke-width="1"/>
<rect x="381.03" y="594.85" width="13.23" height="9.81" fill="#bcd2ea" stroke="#8a8a8a" stroke-width="1"/>
<rect x="394.27" y="594.85" width="13.23" height="9.81" fill="#c8e0f0" stroke="#8a8a8a" stroke-width="1"/>
<text x="412.0" y="603.1" font-size="9.8" textLength="18.2" lengthAdjust="spacingAndGlyphs">Pvt1</text>
<rect x="328.10" y="604.65" width="13.23" height="9.81" fill="#f8884f" stroke="#8a8a8a" stroke-width="1"/>
<rect x="341.33" y="604.65" width="13.23" height="9.81" fill="#fbe396" stroke="#8a8a8a" stroke-width="1"/>
<rect x="354.57" y="604.65" width="13.23" height="9.81" fill="#fbe396" stroke="#8a8a8a" stroke-width="1"/>
<rect x="367.80" y="604.65" width="13.23" height="9.81" fill="#5b8fc8" stroke="#8a8a8a" stroke-width="1"/>
<rect x="381.03" y="604.65" width="13.23" height="9.81" fill="#c4dcef" stroke="#8a8a8a" stroke-width="1"/>
<rect x="394.27" y="604.65" width="13.23" height="9.81" fill="#bcd2ea" stroke="#8a8a8a" stroke-width="1"/>
<text x="412.0" y="613.0" font-size="9.8" textLength="25.8" lengthAdjust="spacingAndGlyphs">Zmat3</text>
<rect x="328.10" y="614.46" width="13.23" height="9.81" fill="#88b9d8" stroke="#8a8a8a" stroke-width="1"/>
<rect x="341.33" y="614.46" width="13.23" height="9.81" fill="#7aaed6" stroke="#8a8a8a" stroke-width="1"/>
<rect x="354.57" y="614.46" width="13.23" height="9.81" fill="#80b4d6" stroke="#8a8a8a" stroke-width="1"/>
<rect x="367.80" y="614.46" width="13.23" height="9.81" fill="#d73027" stroke="#8a8a8a" stroke-width="1"/>
<rect x="381.03" y="614.46" width="13.23" height="9.81" fill="#f6f9ec" stroke="#8a8a8a" stroke-width="1"/>
<rect x="394.27" y="614.46" width="13.23" height="9.81" fill="#fefad8" stroke="#8a8a8a" stroke-width="1"/>
<text x="412.0" y="622.8" font-size="9.8" textLength="14.7" lengthAdjust="spacingAndGlyphs">Jun</text>
<rect x="328.10" y="624.27" width="13.23" height="9.81" fill="#7aaed6" stroke="#8a8a8a" stroke-width="1"/>
<rect x="341.33" y="624.27" width="13.23" height="9.81" fill="#74aad4" stroke="#8a8a8a" stroke-width="1"/>
<rect x="354.57" y="624.27" width="13.23" height="9.81" fill="#6699cc" stroke="#8a8a8a" stroke-width="1"/>
<rect x="367.80" y="624.27" width="13.23" height="9.81" fill="#e95a3c" stroke="#8a8a8a" stroke-width="1"/>
<rect x="381.03" y="624.27" width="13.23" height="9.81" fill="#fefbd8" stroke="#8a8a8a" stroke-width="1"/>
<rect x="394.27" y="624.27" width="13.23" height="9.81" fill="#fdf3cb" stroke="#8a8a8a" stroke-width="1"/>
<text x="412.0" y="632.6" font-size="9.8" textLength="25.3" lengthAdjust="spacingAndGlyphs">Abcc5</text>
<rect x="328.10" y="634.08" width="13.23" height="9.81" fill="#80b4d6" stroke="#8a8a8a" stroke-width="1"/>
<rect x="341.33" y="634.08" width="13.23" height="9.81" fill="#80b4d6" stroke="#8a8a8a" stroke-width="1"/>
<rect x="354.57" y="634.08" width="13.23" height="9.81" fill="#80b4d6" stroke="#8a8a8a" stroke-width="1"/>
<rect x="367.80" y="634.08" width="13.23" height="9.81" fill="#e4f2ee" stroke="#8a8a8a" stroke-width="1"/>
<rect x="381.03" y="634.08" width="13.23" height="9.81" fill="#f9beaa" stroke="#8a8a8a" stroke-width="1"/>
<rect x="394.27" y="634.08" width="13.23" height="9.81" fill="#fddbb9" stroke="#8a8a8a" stroke-width="1"/>
<text x="412.0" y="642.4" font-size="9.8" textLength="25.8" lengthAdjust="spacingAndGlyphs">Sphk1</text>
<rect x="328.10" y="643.89" width="13.23" height="9.81" fill="#fbe59d" stroke="#8a8a8a" stroke-width="1"/>
<rect x="341.33" y="643.89" width="13.23" height="9.81" fill="#74a4d4" stroke="#8a8a8a" stroke-width="1"/>
<rect x="354.57" y="643.89" width="13.23" height="9.81" fill="#d4ecf5" stroke="#8a8a8a" stroke-width="1"/>
<rect x="367.80" y="643.89" width="13.23" height="9.81" fill="#4474bc" stroke="#8a8a8a" stroke-width="1"/>
<rect x="381.03" y="643.89" width="13.23" height="9.81" fill="#f9beaa" stroke="#8a8a8a" stroke-width="1"/>
<rect x="394.27" y="643.89" width="13.23" height="9.81" fill="#fefad8" stroke="#8a8a8a" stroke-width="1"/>
<text x="412.0" y="652.2" font-size="9.8" textLength="23.5" lengthAdjust="spacingAndGlyphs">Trp53</text>
<defs><linearGradient id="cbG" x1="0" y1="0" x2="0" y2="1"><stop offset="0.000" stop-color="#d02a2a"/><stop offset="0.105" stop-color="#e25b45"/><stop offset="0.268" stop-color="#f8a05f"/><stop offset="0.366" stop-color="#fdcf85"/><stop offset="0.431" stop-color="#fef2b8"/><stop offset="0.464" stop-color="#fffef5"/><stop offset="0.497" stop-color="#f5fafd"/><stop offset="0.595" stop-color="#dce9f3"/><stop offset="0.758" stop-color="#a9c9e1"/><stop offset="0.922" stop-color="#5b89c1"/><stop offset="1.000" stop-color="#3a62a8"/></linearGradient></defs>
<rect x="459.40" y="423.20" width="15.60" height="236.40" fill="url(#cbG)"/>
<text x="479.0" y="451.5" font-size="9.5" textLength="12.8" lengthAdjust="spacingAndGlyphs">1.5</text>
<text x="479.0" y="490.3" font-size="9.5" textLength="4.5" lengthAdjust="spacingAndGlyphs">1</text>
<text x="479.0" y="528.2" font-size="9.5" textLength="12.8" lengthAdjust="spacingAndGlyphs">0.5</text>
<text x="479.0" y="567.3" font-size="9.5" textLength="5.6" lengthAdjust="spacingAndGlyphs">0</text>
<text x="479.0" y="605.8" font-size="9.5" textLength="17.5" lengthAdjust="spacingAndGlyphs">–0.5</text>
<text x="479.0" y="644.0" font-size="9.5" textLength="9.5" lengthAdjust="spacingAndGlyphs">–1</text>
<text x="18.0" y="456.4" font-size="13" font-weight="bold" fill="#000">H</text>
<line x1="59.80" y1="479.40" x2="59.80" y2="544.20" stroke="#231f20" stroke-width="1.2"/>
<line x1="59.20" y1="543.70" x2="103.60" y2="543.70" stroke="#231f20" stroke-width="1.2"/>
<line x1="57.30" y1="479.70" x2="59.80" y2="479.70" stroke="#231f20" stroke-width="1"/>
<text x="53.9" y="483.1" font-size="9.8" text-anchor="end" textLength="12.8" lengthAdjust="spacingAndGlyphs">2.0</text>
<line x1="57.30" y1="495.70" x2="59.80" y2="495.70" stroke="#231f20" stroke-width="1"/>
<text x="53.9" y="499.1" font-size="9.8" text-anchor="end" textLength="12.8" lengthAdjust="spacingAndGlyphs">1.5</text>
<line x1="57.30" y1="511.70" x2="59.80" y2="511.70" stroke="#231f20" stroke-width="1"/>
<text x="53.9" y="515.1" font-size="9.8" text-anchor="end" textLength="12.8" lengthAdjust="spacingAndGlyphs">1.0</text>
<line x1="57.30" y1="527.70" x2="59.80" y2="527.70" stroke="#231f20" stroke-width="1"/>
<text x="53.9" y="531.1" font-size="9.8" text-anchor="end" textLength="12.8" lengthAdjust="spacingAndGlyphs">0.5</text>
<line x1="57.30" y1="543.70" x2="59.80" y2="543.70" stroke="#231f20" stroke-width="1"/>
<text x="53.9" y="547.1" font-size="9.8" text-anchor="end" textLength="5.2" lengthAdjust="spacingAndGlyphs">0</text>
<line x1="73.55" y1="494.74" x2="73.55" y2="503.06" stroke="#231f20" stroke-width="1.1"/>
<line x1="70.95" y1="494.74" x2="76.15" y2="494.74" stroke="#231f20" stroke-width="1.1"/>
<rect x="67.2" y="503.1" width="12.7" height="40.6" fill="#cf1f3a" stroke="#111" stroke-width="1"/>
<line x1="73.55" y1="543.70" x2="73.55" y2="545.90" stroke="#231f20" stroke-width="1"/>
<rect x="85.5" y="543.2" width="11.5" height="0.5" fill="#135892" stroke="#111" stroke-width="1"/>
<line x1="91.25" y1="543.70" x2="91.25" y2="545.90" stroke="#231f20" stroke-width="1"/>
<text x="76.1" y="468.1" font-size="9.4" font-style="italic" textLength="21.6" lengthAdjust="spacingAndGlyphs">Chd8</text>
<text x="76.1" y="487.0" font-size="10.5" textLength="11.1" lengthAdjust="spacingAndGlyphs">***</text>
<line x1="129.80" y1="476.20" x2="129.80" y2="544.30" stroke="#231f20" stroke-width="1.2"/>
<line x1="129.20" y1="543.80" x2="176.00" y2="543.80" stroke="#231f20" stroke-width="1.2"/>
<line x1="127.30" y1="476.50" x2="129.80" y2="476.50" stroke="#231f20" stroke-width="1"/>
<text x="123.9" y="479.9" font-size="9.8" text-anchor="end" textLength="12.8" lengthAdjust="spacingAndGlyphs">1.5</text>
<line x1="127.30" y1="498.93" x2="129.80" y2="498.93" stroke="#231f20" stroke-width="1"/>
<text x="123.9" y="502.3" font-size="9.8" text-anchor="end" textLength="12.8" lengthAdjust="spacingAndGlyphs">1.0</text>
<line x1="127.30" y1="521.37" x2="129.80" y2="521.37" stroke="#231f20" stroke-width="1"/>
<text x="123.9" y="524.8" font-size="9.8" text-anchor="end" textLength="12.8" lengthAdjust="spacingAndGlyphs">0.5</text>
<line x1="127.30" y1="543.80" x2="129.80" y2="543.80" stroke="#231f20" stroke-width="1"/>
<text x="123.9" y="547.2" font-size="9.8" text-anchor="end" textLength="5.2" lengthAdjust="spacingAndGlyphs">0</text>
<line x1="144.25" y1="485.92" x2="144.25" y2="493.10" stroke="#231f20" stroke-width="1.1"/>
<line x1="141.65" y1="485.92" x2="146.85" y2="485.92" stroke="#231f20" stroke-width="1.1"/>
<rect x="137.9" y="493.1" width="12.7" height="50.7" fill="#cf1f3a" stroke="#111" stroke-width="1"/>
<line x1="144.25" y1="543.80" x2="144.25" y2="546.00" stroke="#231f20" stroke-width="1"/>
<line x1="163.35" y1="500.28" x2="163.35" y2="507.46" stroke="#231f20" stroke-width="1.1"/>
<line x1="160.75" y1="500.28" x2="165.95" y2="500.28" stroke="#231f20" stroke-width="1.1"/>
<rect x="157.1" y="507.5" width="12.5" height="36.3" fill="#135892" stroke="#111" stroke-width="1"/>
<line x1="163.35" y1="543.80" x2="163.35" y2="546.00" stroke="#231f20" stroke-width="1"/>
<text x="147.1" y="467.6" font-size="9.4" font-style="italic" textLength="14.8" lengthAdjust="spacingAndGlyphs">P53</text>
<text x="151.0" y="483.0" font-size="9">ns</text>
<line x1="198.70" y1="476.60" x2="198.70" y2="544.20" stroke="#231f20" stroke-width="1.2"/>
<line x1="198.10" y1="543.70" x2="243.50" y2="543.70" stroke="#231f20" stroke-width="1.2"/>
<line x1="196.20" y1="476.90" x2="198.70" y2="476.90" stroke="#231f20" stroke-width="1"/>
<text x="192.8" y="480.3" font-size="9.8" text-anchor="end" textLength="10.2" lengthAdjust="spacingAndGlyphs">15</text>
<line x1="196.20" y1="499.17" x2="198.70" y2="499.17" stroke="#231f20" stroke-width="1"/>
<text x="192.8" y="502.6" font-size="9.8" text-anchor="end" textLength="10.2" lengthAdjust="spacingAndGlyphs">10</text>
<line x1="196.20" y1="521.43" x2="198.70" y2="521.43" stroke="#231f20" stroke-width="1"/>
<text x="192.8" y="524.8" font-size="9.8" text-anchor="end" textLength="5.2" lengthAdjust="spacingAndGlyphs">5</text>
<line x1="196.20" y1="543.70" x2="198.70" y2="543.70" stroke="#231f20" stroke-width="1"/>
<text x="192.8" y="547.1" font-size="9.8" text-anchor="end" textLength="5.2" lengthAdjust="spacingAndGlyphs">0</text>
<line x1="211.25" y1="538.58" x2="211.25" y2="539.25" stroke="#231f20" stroke-width="1.1"/>
<line x1="208.65" y1="538.58" x2="213.85" y2="538.58" stroke="#231f20" stroke-width="1.1"/>
<rect x="205.0" y="539.2" width="12.5" height="4.5" fill="#cf1f3a" stroke="#111" stroke-width="1"/>
<line x1="211.25" y1="543.70" x2="211.25" y2="545.90" stroke="#231f20" stroke-width="1"/>
<line x1="230.65" y1="494.71" x2="230.65" y2="500.06" stroke="#231f20" stroke-width="1.1"/>
<line x1="228.05" y1="494.71" x2="233.25" y2="494.71" stroke="#231f20" stroke-width="1.1"/>
<rect x="224.6" y="500.1" width="12.1" height="43.6" fill="#135892" stroke="#111" stroke-width="1"/>
<line x1="230.65" y1="543.70" x2="230.65" y2="545.90" stroke="#231f20" stroke-width="1"/>
<text x="216.0" y="468.6" font-size="9.4" font-style="italic" textLength="14.4" lengthAdjust="spacingAndGlyphs">P21</text>
<text x="215.6" y="490.0" font-size="10.5" textLength="11.1" lengthAdjust="spacingAndGlyphs">***</text>
<line x1="264.00" y1="477.20" x2="264.00" y2="544.20" stroke="#231f20" stroke-width="1.2"/>
<line x1="263.40" y1="543.70" x2="308.80" y2="543.70" stroke="#231f20" stroke-width="1.2"/>
<line x1="261.50" y1="477.50" x2="264.00" y2="477.50" stroke="#231f20" stroke-width="1"/>
<text x="258.1" y="480.9" font-size="9.8" text-anchor="end" textLength="5.2" lengthAdjust="spacingAndGlyphs">6</text>
<line x1="261.50" y1="499.57" x2="264.00" y2="499.57" stroke="#231f20" stroke-width="1"/>
<text x="258.1" y="503.0" font-size="9.8" text-anchor="end" textLength="5.2" lengthAdjust="spacingAndGlyphs">4</text>
<line x1="261.50" y1="521.63" x2="264.00" y2="521.63" stroke="#231f20" stroke-width="1"/>
<text x="258.1" y="525.0" font-size="9.8" text-anchor="end" textLength="5.2" lengthAdjust="spacingAndGlyphs">2</text>
<line x1="261.50" y1="543.70" x2="264.00" y2="543.70" stroke="#231f20" stroke-width="1"/>
<text x="258.1" y="547.1" font-size="9.8" text-anchor="end" textLength="5.2" lengthAdjust="spacingAndGlyphs">0</text>
<line x1="277.55" y1="530.90" x2="277.55" y2="532.34" stroke="#231f20" stroke-width="1.1"/>
<line x1="274.95" y1="530.90" x2="280.15" y2="530.90" stroke="#231f20" stroke-width="1.1"/>
<rect x="271.3" y="532.3" width="12.5" height="11.4" fill="#cf1f3a" stroke="#111" stroke-width="1"/>
<line x1="277.55" y1="543.70" x2="277.55" y2="545.90" stroke="#231f20" stroke-width="1"/>
<line x1="296.25" y1="483.02" x2="296.25" y2="496.26" stroke="#231f20" stroke-width="1.1"/>
<line x1="293.65" y1="483.02" x2="298.85" y2="483.02" stroke="#231f20" stroke-width="1.1"/>
<rect x="290.4" y="496.3" width="11.7" height="47.4" fill="#135892" stroke="#111" stroke-width="1"/>
<line x1="296.25" y1="543.70" x2="296.25" y2="545.90" stroke="#231f20" stroke-width="1"/>
<text x="275.6" y="468.6" font-size="9.4" font-style="italic" textLength="20.7" lengthAdjust="spacingAndGlyphs">Noxa</text>
<text x="280.8" y="485.2" font-size="10.5" textLength="7.4" lengthAdjust="spacingAndGlyphs">**</text>
<line x1="58.60" y1="575.60" x2="58.60" y2="641.30" stroke="#231f20" stroke-width="1.2"/>
<line x1="58.00" y1="640.80" x2="103.00" y2="640.80" stroke="#231f20" stroke-width="1.2"/>
<line x1="56.10" y1="575.90" x2="58.60" y2="575.90" stroke="#231f20" stroke-width="1"/>
<text x="52.7" y="579.3" font-size="9.8" text-anchor="end" textLength="12.8" lengthAdjust="spacingAndGlyphs">1.5</text>
<line x1="56.10" y1="597.53" x2="58.60" y2="597.53" stroke="#231f20" stroke-width="1"/>
<text x="52.7" y="600.9" font-size="9.8" text-anchor="end" textLength="12.8" lengthAdjust="spacingAndGlyphs">1.0</text>
<line x1="56.10" y1="619.17" x2="58.60" y2="619.17" stroke="#231f20" stroke-width="1"/>
<text x="52.7" y="622.6" font-size="9.8" text-anchor="end" textLength="12.8" lengthAdjust="spacingAndGlyphs">0.5</text>
<line x1="56.10" y1="640.80" x2="58.60" y2="640.80" stroke="#231f20" stroke-width="1"/>
<text x="52.7" y="644.2" font-size="9.8" text-anchor="end" textLength="5.2" lengthAdjust="spacingAndGlyphs">0</text>
<rect x="66.6" y="597.5" width="12.0" height="43.3" fill="#cf1f3a" stroke="#111" stroke-width="1"/>
<line x1="72.60" y1="640.80" x2="72.60" y2="643.00" stroke="#231f20" stroke-width="1"/>
<line x1="91.25" y1="638.85" x2="91.25" y2="639.29" stroke="#231f20" stroke-width="1.1"/>
<line x1="88.65" y1="638.85" x2="93.85" y2="638.85" stroke="#231f20" stroke-width="1.1"/>
<rect x="85.2" y="639.3" width="12.1" height="1.5" fill="#135892" stroke="#111" stroke-width="1"/>
<line x1="91.25" y1="640.80" x2="91.25" y2="643.00" stroke="#231f20" stroke-width="1"/>
<text x="76.1" y="567.9" font-size="9.4" font-style="italic" textLength="21.2" lengthAdjust="spacingAndGlyphs">Chd8</text>
<text x="77.2" y="591.6" font-size="10.5" textLength="11.1" lengthAdjust="spacingAndGlyphs">***</text>
<line x1="130.20" y1="575.70" x2="130.20" y2="641.50" stroke="#231f20" stroke-width="1.2"/>
<line x1="129.60" y1="641.00" x2="174.60" y2="641.00" stroke="#231f20" stroke-width="1.2"/>
<line x1="127.70" y1="576.00" x2="130.20" y2="576.00" stroke="#231f20" stroke-width="1"/>
<text x="124.3" y="579.4" font-size="9.8" text-anchor="end" textLength="12.8" lengthAdjust="spacingAndGlyphs">1.5</text>
<line x1="127.70" y1="597.67" x2="130.20" y2="597.67" stroke="#231f20" stroke-width="1"/>
<text x="124.3" y="601.1" font-size="9.8" text-anchor="end" textLength="12.8" lengthAdjust="spacingAndGlyphs">1.0</text>
<line x1="127.70" y1="619.33" x2="130.20" y2="619.33" stroke="#231f20" stroke-width="1"/>
<text x="124.3" y="622.7" font-size="9.8" text-anchor="end" textLength="12.8" lengthAdjust="spacingAndGlyphs">0.5</text>
<line x1="127.70" y1="641.00" x2="130.20" y2="641.00" stroke="#231f20" stroke-width="1"/>
<text x="124.3" y="644.4" font-size="9.8" text-anchor="end" textLength="5.2" lengthAdjust="spacingAndGlyphs">0</text>
<rect x="137.9" y="597.7" width="12.5" height="43.3" fill="#cf1f3a" stroke="#111" stroke-width="1"/>
<line x1="144.15" y1="641.00" x2="144.15" y2="643.20" stroke="#231f20" stroke-width="1"/>
<line x1="162.95" y1="595.50" x2="162.95" y2="600.27" stroke="#231f20" stroke-width="1.1"/>
<line x1="160.35" y1="595.50" x2="165.55" y2="595.50" stroke="#231f20" stroke-width="1.1"/>
<rect x="157.1" y="600.3" width="11.7" height="40.7" fill="#135892" stroke="#111" stroke-width="1"/>
<line x1="162.95" y1="641.00" x2="162.95" y2="643.20" stroke="#231f20" stroke-width="1"/>
<text x="150.6" y="567.6" font-size="9.4" font-style="italic" textLength="14.8" lengthAdjust="spacingAndGlyphs">P53</text>
<text x="148.5" y="585.5" font-size="9">ns</text>
<line x1="198.70" y1="575.30" x2="198.70" y2="641.50" stroke="#231f20" stroke-width="1.2"/>
<line x1="198.10" y1="641.00" x2="242.90" y2="641.00" stroke="#231f20" stroke-width="1.2"/>
<line x1="196.20" y1="575.60" x2="198.70" y2="575.60" stroke="#231f20" stroke-width="1"/>
<text x="192.8" y="579.0" font-size="9.8" text-anchor="end" textLength="5.2" lengthAdjust="spacingAndGlyphs">4</text>
<line x1="196.20" y1="591.95" x2="198.70" y2="591.95" stroke="#231f20" stroke-width="1"/>
<text x="192.8" y="595.4" font-size="9.8" text-anchor="end" textLength="5.2" lengthAdjust="spacingAndGlyphs">3</text>
<line x1="196.20" y1="608.30" x2="198.70" y2="608.30" stroke="#231f20" stroke-width="1"/>
<text x="192.8" y="611.7" font-size="9.8" text-anchor="end" textLength="5.2" lengthAdjust="spacingAndGlyphs">2</text>
<line x1="196.20" y1="624.65" x2="198.70" y2="624.65" stroke="#231f20" stroke-width="1"/>
<text x="192.8" y="628.0" font-size="9.8" text-anchor="end" textLength="4.5" lengthAdjust="spacingAndGlyphs">1</text>
<line x1="196.20" y1="641.00" x2="198.70" y2="641.00" stroke="#231f20" stroke-width="1"/>
<text x="192.8" y="644.4" font-size="9.8" text-anchor="end" textLength="5.2" lengthAdjust="spacingAndGlyphs">0</text>
<rect x="205.0" y="624.6" width="12.5" height="16.4" fill="#cf1f3a" stroke="#111" stroke-width="1"/>
<line x1="211.25" y1="641.00" x2="211.25" y2="643.20" stroke="#231f20" stroke-width="1"/>
<line x1="230.45" y1="593.59" x2="230.45" y2="600.12" stroke="#231f20" stroke-width="1.1"/>
<line x1="227.85" y1="593.59" x2="233.05" y2="593.59" stroke="#231f20" stroke-width="1.1"/>
<rect x="224.6" y="600.1" width="11.7" height="40.9" fill="#135892" stroke="#111" stroke-width="1"/>
<line x1="230.45" y1="641.00" x2="230.45" y2="643.20" stroke="#231f20" stroke-width="1"/>
<text x="219.0" y="567.6" font-size="9.4" font-style="italic" textLength="14.8" lengthAdjust="spacingAndGlyphs">P21</text>
<text x="217.1" y="586.2" font-size="10.5" textLength="7.4" lengthAdjust="spacingAndGlyphs">**</text>
<line x1="264.00" y1="575.30" x2="264.00" y2="641.50" stroke="#231f20" stroke-width="1.2"/>
<line x1="263.40" y1="641.00" x2="308.30" y2="641.00" stroke="#231f20" stroke-width="1.2"/>
<line x1="261.50" y1="575.60" x2="264.00" y2="575.60" stroke="#231f20" stroke-width="1"/>
<text x="258.1" y="579.0" font-size="9.8" text-anchor="end" textLength="5.2" lengthAdjust="spacingAndGlyphs">4</text>
<line x1="261.50" y1="591.95" x2="264.00" y2="591.95" stroke="#231f20" stroke-width="1"/>
<text x="258.1" y="595.4" font-size="9.8" text-anchor="end" textLength="5.2" lengthAdjust="spacingAndGlyphs">3</text>
<line x1="261.50" y1="608.30" x2="264.00" y2="608.30" stroke="#231f20" stroke-width="1"/>
<text x="258.1" y="611.7" font-size="9.8" text-anchor="end" textLength="5.2" lengthAdjust="spacingAndGlyphs">2</text>
<line x1="261.50" y1="624.65" x2="264.00" y2="624.65" stroke="#231f20" stroke-width="1"/>
<text x="258.1" y="628.0" font-size="9.8" text-anchor="end" textLength="4.5" lengthAdjust="spacingAndGlyphs">1</text>
<line x1="261.50" y1="641.00" x2="264.00" y2="641.00" stroke="#231f20" stroke-width="1"/>
<text x="258.1" y="644.4" font-size="9.8" text-anchor="end" textLength="5.2" lengthAdjust="spacingAndGlyphs">0</text>
<rect x="270.4" y="624.6" width="12.9" height="16.4" fill="#cf1f3a" stroke="#111" stroke-width="1"/>
<line x1="276.85" y1="641.00" x2="276.85" y2="643.20" stroke="#231f20" stroke-width="1"/>
<line x1="295.55" y1="587.05" x2="295.55" y2="595.22" stroke="#231f20" stroke-width="1.1"/>
<line x1="292.95" y1="587.05" x2="298.15" y2="587.05" stroke="#231f20" stroke-width="1.1"/>
<rect x="289.6" y="595.2" width="11.9" height="45.8" fill="#135892" stroke="#111" stroke-width="1"/>
<line x1="295.55" y1="641.00" x2="295.55" y2="643.20" stroke="#231f20" stroke-width="1"/>
<text x="277.1" y="567.6" font-size="9.4" font-style="italic" textLength="20.6" lengthAdjust="spacingAndGlyphs">Noxa</text>
<text x="279.8" y="587.5" font-size="10.5" textLength="7.4" lengthAdjust="spacingAndGlyphs">**</text>
<text x="0" y="0" font-size="10.6" transform="translate(19.3,550.9) rotate(-90)" textLength="79.8" lengthAdjust="spacingAndGlyphs" fill="#231f20" stroke="#2a2a2a" stroke-width="0.2">Relative mRNA level</text>
<text x="0" y="0" font-size="10.6" transform="translate(33.4,523.2) rotate(-90)" textLength="24.3" lengthAdjust="spacingAndGlyphs" fill="#231f20" stroke="#2a2a2a" stroke-width="0.2">in LSK</text>
<text x="0" y="0" font-size="10.6" transform="translate(19.6,647.7) rotate(-90)" textLength="79.2" lengthAdjust="spacingAndGlyphs" fill="#231f20" stroke="#2a2a2a" stroke-width="0.2">Relative mRNA level</text>
<text x="0" y="0" font-size="10.6" transform="translate(33.6,634) rotate(-90)" textLength="51.8" lengthAdjust="spacingAndGlyphs" fill="#231f20" stroke="#2a2a2a" stroke-width="0.2">in SLAM HSC</text>
<rect x="146.9" y="656.7" width="7.8" height="4.2" fill="#cf1f3a" stroke="#111" stroke-width="0.9"/>
<text x="158.1" y="662.3" font-size="9.3" textLength="13.1" lengthAdjust="spacingAndGlyphs">WT</text>
<rect x="174.4" y="656.7" width="7.8" height="4.2" fill="#135892" stroke="#111" stroke-width="0.9"/>
<text x="185.4" y="662.3" font-size="9.3" font-style="italic" textLength="26.0" lengthAdjust="spacingAndGlyphs">Chd8<tspan font-size="5.6" dy="-3.5" font-style="normal">-/-</tspan></text>
<rect x="0.00" y="0.00" width="520.00" height="1.00" fill="#000"/>
<rect x="0.00" y="0.00" width="1.00" height="673.00" fill="#000"/>
<rect x="518.70" y="0.00" width="1.30" height="673.00" fill="#000"/>
<rect x="0.00" y="671.70" width="520.00" height="1.30" fill="#000"/>
</svg></body></html>
